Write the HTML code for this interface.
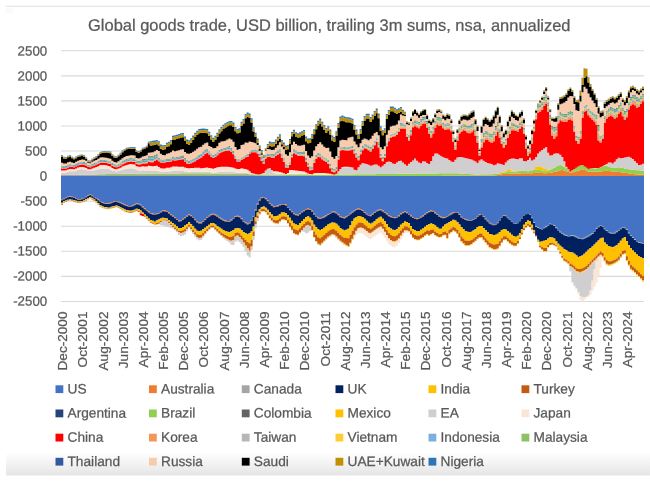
<!DOCTYPE html>
<html><head><meta charset="utf-8"><title>Global goods trade</title>
<style>
html,body{margin:0;padding:0;background:#fff;}
body{width:650px;height:486px;overflow:hidden;}
svg{display:block;will-change:transform;font-family:"Liberation Sans",sans-serif;}
</style></head><body>
<svg width="650" height="486" viewBox="0 0 650 486">
<defs><linearGradient id="sh" x1="0" y1="0" x2="0" y2="1"><stop offset="0" stop-color="#ffffff"/><stop offset="0.15" stop-color="#fbfbfb"/><stop offset="1" stop-color="#e5e5e5"/></linearGradient></defs>
<rect width="650" height="486" fill="#fff"/>
<rect x="6" y="452.5" width="644" height="23" fill="url(#sh)"/>
<rect x="6" y="5.75" width="644" height="1.2" fill="#e6e6e6"/><rect x="6" y="8.3" width="7" height="4.7" fill="#fafafa"/>
<g><line x1="61.0" x2="644.0" y1="301.43" y2="301.43" stroke="#D9D9D9" stroke-width="1.1"/><line x1="61.0" x2="644.0" y1="276.36" y2="276.36" stroke="#D9D9D9" stroke-width="1.1"/><line x1="61.0" x2="644.0" y1="251.30" y2="251.30" stroke="#D9D9D9" stroke-width="1.1"/><line x1="61.0" x2="644.0" y1="226.24" y2="226.24" stroke="#D9D9D9" stroke-width="1.1"/><line x1="61.0" x2="644.0" y1="201.18" y2="201.18" stroke="#D9D9D9" stroke-width="1.1"/><line x1="61.0" x2="644.0" y1="176.11" y2="176.11" stroke="#D9D9D9" stroke-width="1.1"/><line x1="61.0" x2="644.0" y1="151.05" y2="151.05" stroke="#D9D9D9" stroke-width="1.1"/><line x1="61.0" x2="644.0" y1="125.99" y2="125.99" stroke="#D9D9D9" stroke-width="1.1"/><line x1="61.0" x2="644.0" y1="100.92" y2="100.92" stroke="#D9D9D9" stroke-width="1.1"/><line x1="61.0" x2="644.0" y1="75.86" y2="75.86" stroke="#D9D9D9" stroke-width="1.1"/><line x1="61.0" x2="644.0" y1="50.80" y2="50.80" stroke="#D9D9D9" stroke-width="1.1"/></g>
<g><path fill="#ED7D31" d="M61.00,176.00H63.02V176.00H65.03V176.00H67.05V176.00H69.07V176.00H71.09V176.00H73.10V176.00H75.12V176.00H77.14V176.00H79.16V176.00H81.17V176.00H83.19V176.00H85.21V176.00H87.22V176.00H89.24V176.00H91.26V176.00H93.28V176.00H95.29V176.00H97.31V176.00H99.33V176.00H101.35V176.00H103.36V176.00H105.38V176.00H107.40V176.00H109.42V176.00H111.43V176.00H113.45V176.00H115.47V176.00H117.48V176.00H119.50V176.00H121.52V176.00H123.54V176.00H125.55V176.00H127.57V176.00H129.59V176.00H131.61V176.00H133.62V176.00H135.64V176.00H137.66V176.00H139.67V176.00H141.69V176.00H143.71V176.00H145.73V176.00H147.74V176.00H149.76V176.00H151.78V176.00H153.80V176.00H155.81V176.00H157.83V176.00H159.85V176.00H161.87V176.00H163.88V176.00H165.90V176.00H167.92V176.00H169.93V176.00H171.95V176.00H173.97V176.00H175.99V176.00H178.00V176.00H180.02V176.00H182.04V176.00H184.06V176.00H186.07V176.00H188.09V176.00H190.11V176.00H192.12V176.00H194.14V176.00H196.16V176.00H198.18V176.00H200.19V176.00H202.21V176.00H204.23V176.00H206.25V176.00H208.26V176.00H210.28V176.00H212.30V176.00H214.31V176.00H216.33V176.00H218.35V176.00H220.37V176.00H222.38V176.00H224.40V176.00H226.42V176.00H228.44V176.00H230.45V176.00H232.47V176.00H234.49V176.00H236.51V176.00H238.52V176.00H240.54V176.00H242.56V176.00H244.57V176.00H246.59V176.00H248.61V176.00H250.63V176.00H252.64V176.00H254.66V176.00H256.68V176.00H258.70V176.00H260.71V176.00H262.73V176.00H264.75V176.00H266.76V176.00H268.78V176.00H270.80V176.00H272.82V176.00H274.83V176.00H276.85V176.00H278.87V176.00H280.89V176.00H282.90V176.00H284.92V176.00H286.94V176.00H288.96V176.00H290.97V176.00H292.99V176.00H295.01V176.00H297.02V176.00H299.04V176.00H301.06V176.00H303.08V176.00H305.09V176.00H307.11V176.00H309.13V176.00H311.15V176.00H313.16V176.00H315.18V176.00H317.20V176.00H319.21V176.00H321.23V176.00H323.25V176.00H325.27V176.00H327.28V176.00H329.30V176.00H331.32V176.00H333.34V176.00H335.35V176.00H337.37V176.00H339.39V176.00H341.40V176.00H343.42V176.00H345.44V176.00H347.46V176.00H349.47V176.00H351.49V176.00H353.51V176.00H355.53V176.00H357.54V176.00H359.56V176.00H361.58V176.00H363.60V176.00H365.61V176.00H367.63V176.00H369.65V176.00H371.66V176.00H373.68V176.00H375.70V176.00H377.72V176.00H379.73V176.00H381.75V176.00H383.77V176.00H385.79V176.00H387.80V176.00H389.82V176.00H391.84V176.00H393.85V176.00H395.87V176.00H397.89V176.00H399.91V176.00H401.92V176.00H403.94V176.00H405.96V176.00H407.98V176.00H409.99V176.00H412.01V176.00H414.03V176.00H416.04V176.00H418.06V176.00H420.08V176.00H422.10V176.00H424.11V176.00H426.13V176.00H428.15V176.00H430.17V176.00H432.18V176.00H434.20V176.00H436.22V176.00H438.24V176.00H440.25V176.00H442.27V175.56H444.29V175.56H446.30V175.56H448.32V175.56H450.34V175.56H452.36V175.56H454.37V175.56H456.39V175.56H458.41V175.56H460.43V175.56H462.44V175.56H464.46V175.56H466.48V175.56H468.49V175.56H470.51V175.56H472.53V175.56H474.55V175.56H476.56V175.56H478.58V175.56H480.60V175.56H482.62V175.56H484.63V175.56H486.65V175.56H488.67V175.56H490.69V175.56H492.70V175.56H494.72V175.52H496.74V175.04H498.75V174.57H500.77V174.22H502.79V174.11H504.81V173.99H506.82V173.88H508.84V173.76H510.86V173.64H512.88V173.53H514.89V173.48H516.91V173.44H518.93V173.39H520.94V173.35H522.96V173.31H524.98V173.26H527.00V173.22H529.01V173.18H531.03V173.13H533.05V173.09H535.07V173.05H537.08V172.78H539.10V172.95H541.12V173.12H543.13V173.28H545.15V173.34H547.17V173.09H549.19V172.84H551.20V172.58H553.22V172.06H555.24V171.46H557.26V170.85H559.27V170.25H561.29V170.09H563.31V170.70H565.33V171.30H567.34V171.91H569.36V172.51H571.38V172.19H573.39V171.85H575.41V171.33H577.43V170.47H579.45V169.60H581.46V169.23H583.48V170.09H585.50V170.96H587.52V171.64H589.53V171.64H591.55V171.64H593.57V171.64H595.58V171.64H597.60V171.64H599.62V171.40H601.64V171.15H603.65V170.89H605.67V170.84H607.69V171.04H609.71V171.24H611.72V171.45H613.74V171.65H615.76V171.85H617.78V172.05H619.79V172.25H621.81V172.45H623.83V172.75H625.84V173.08H627.86V173.42H629.88V173.75H631.90V174.09H633.91V174.34H635.93V174.45H637.95V174.57H639.97V174.69H641.98V174.80H644.00V176.00H641.98V176.00H639.97V176.00H637.95V176.00H635.93V176.00H633.91V176.00H631.90V176.00H629.88V176.00H627.86V176.00H625.84V176.00H623.83V176.00H621.81V176.00H619.79V176.00H617.78V176.00H615.76V176.00H613.74V176.00H611.72V176.00H609.71V176.00H607.69V176.00H605.67V176.00H603.65V176.00H601.64V176.00H599.62V176.00H597.60V176.00H595.58V176.00H593.57V176.00H591.55V176.00H589.53V176.00H587.52V176.00H585.50V176.00H583.48V176.00H581.46V176.00H579.45V176.00H577.43V176.00H575.41V176.00H573.39V176.00H571.38V176.00H569.36V176.00H567.34V176.00H565.33V176.00H563.31V176.00H561.29V176.00H559.27V176.00H557.26V176.00H555.24V176.00H553.22V176.00H551.20V176.00H549.19V176.00H547.17V176.00H545.15V176.00H543.13V176.00H541.12V176.00H539.10V176.00H537.08V176.00H535.07V176.00H533.05V176.00H531.03V176.00H529.01V176.00H527.00V176.00H524.98V176.00H522.96V176.00H520.94V176.00H518.93V176.00H516.91V176.00H514.89V176.00H512.88V176.00H510.86V176.00H508.84V176.00H506.82V176.00H504.81V176.00H502.79V176.00H500.77V176.00H498.75V176.00H496.74V176.00H494.72V176.00H492.70V176.00H490.69V176.00H488.67V176.00H486.65V176.00H484.63V176.00H482.62V176.00H480.60V176.00H478.58V176.00H476.56V176.00H474.55V176.00H472.53V176.00H470.51V176.00H468.49V176.00H466.48V176.00H464.46V176.00H462.44V176.00H460.43V176.00H458.41V176.00H456.39V176.00H454.37V176.00H452.36V176.00H450.34V176.00H448.32V176.00H446.30V176.00H444.29V176.00H442.27V176.00H440.25V176.00H438.24V176.00H436.22V176.00H434.20V176.00H432.18V176.00H430.17V176.00H428.15V176.00H426.13V176.00H424.11V176.00H422.10V176.00H420.08V176.00H418.06V176.00H416.04V176.00H414.03V176.00H412.01V176.00H409.99V176.00H407.98V176.00H405.96V176.00H403.94V176.00H401.92V176.00H399.91V176.00H397.89V176.00H395.87V176.00H393.85V176.00H391.84V176.00H389.82V176.00H387.80V176.00H385.79V176.00H383.77V176.00H381.75V176.00H379.73V176.00H377.72V176.00H375.70V176.00H373.68V176.00H371.66V176.00H369.65V176.00H367.63V176.00H365.61V176.00H363.60V176.00H361.58V176.00H359.56V176.00H357.54V176.00H355.53V176.00H353.51V176.00H351.49V176.00H349.47V176.00H347.46V176.00H345.44V176.00H343.42V176.00H341.40V176.00H339.39V176.00H337.37V176.00H335.35V176.00H333.34V176.00H331.32V176.00H329.30V176.00H327.28V176.00H325.27V176.00H323.25V176.00H321.23V176.00H319.21V176.00H317.20V176.00H315.18V176.00H313.16V176.00H311.15V176.00H309.13V176.00H307.11V176.00H305.09V176.00H303.08V176.00H301.06V176.00H299.04V176.00H297.02V176.00H295.01V176.00H292.99V176.00H290.97V176.00H288.96V176.00H286.94V176.00H284.92V176.00H282.90V176.00H280.89V176.00H278.87V176.00H276.85V176.00H274.83V176.00H272.82V176.00H270.80V176.00H268.78V176.00H266.76V176.00H264.75V176.00H262.73V176.00H260.71V176.00H258.70V176.00H256.68V176.00H254.66V176.00H252.64V176.00H250.63V176.00H248.61V176.00H246.59V176.00H244.57V176.00H242.56V176.00H240.54V176.00H238.52V176.00H236.51V176.00H234.49V176.00H232.47V176.00H230.45V176.00H228.44V176.00H226.42V176.00H224.40V176.00H222.38V176.00H220.37V176.00H218.35V176.00H216.33V176.00H214.31V176.00H212.30V176.00H210.28V176.00H208.26V176.00H206.25V176.00H204.23V176.00H202.21V176.00H200.19V176.00H198.18V176.00H196.16V176.00H194.14V176.00H192.12V176.00H190.11V176.00H188.09V176.00H186.07V176.00H184.06V176.00H182.04V176.00H180.02V176.00H178.00V176.00H175.99V176.00H173.97V176.00H171.95V176.00H169.93V176.00H167.92V176.00H165.90V176.00H163.88V176.00H161.87V176.00H159.85V176.00H157.83V176.00H155.81V176.00H153.80V176.00H151.78V176.00H149.76V176.00H147.74V176.00H145.73V176.00H143.71V176.00H141.69V176.00H139.67V176.00H137.66V176.00H135.64V176.00H133.62V176.00H131.61V176.00H129.59V176.00H127.57V176.00H125.55V176.00H123.54V176.00H121.52V176.00H119.50V176.00H117.48V176.00H115.47V176.00H113.45V176.00H111.43V176.00H109.42V176.00H107.40V176.00H105.38V176.00H103.36V176.00H101.35V176.00H99.33V176.00H97.31V176.00H95.29V176.00H93.28V176.00H91.26V176.00H89.24V176.00H87.22V176.00H85.21V176.00H83.19V176.00H81.17V176.00H79.16V176.00H77.14V176.00H75.12V176.00H73.10V176.00H71.09V176.00H69.07V176.00H67.05V176.00H65.03V176.00H63.02V176.00H61.00Z"/><path fill="#A5A5A5" d="M61.00,174.97H63.02V174.95H65.03V174.94H67.05V174.93H69.07V174.92H71.09V174.91H73.10V174.91H75.12V174.91H77.14V174.91H79.16V174.91H81.17V174.91H83.19V174.91H85.21V174.91H87.22V174.91H89.24V174.92H91.26V174.92H93.28V174.92H95.29V174.92H97.31V174.92H99.33V174.92H101.35V174.92H103.36V174.92H105.38V174.92H107.40V174.93H109.42V174.93H111.43V174.93H113.45V174.93H115.47V174.93H117.48V174.93H119.50V174.93H121.52V174.93H123.54V174.93H125.55V174.93H127.57V174.94H129.59V174.94H131.61V174.94H133.62V174.94H135.64V174.94H137.66V174.94H139.67V174.94H141.69V174.94H143.71V174.94H145.73V174.95H147.74V174.95H149.76V174.95H151.78V174.95H153.80V174.95H155.81V174.95H157.83V174.95H159.85V174.95H161.87V174.95H163.88V174.95H165.90V174.96H167.92V174.96H169.93V174.96H171.95V174.96H173.97V174.96H175.99V174.96H178.00V174.96H180.02V174.96H182.04V174.96H184.06V174.97H186.07V174.97H188.09V174.97H190.11V174.97H192.12V174.97H194.14V174.97H196.16V174.97H198.18V174.97H200.19V174.97H202.21V174.98H204.23V174.98H206.25V174.98H208.26V174.98H210.28V174.98H212.30V174.98H214.31V174.98H216.33V174.98H218.35V174.98H220.37V174.98H222.38V174.99H224.40V174.99H226.42V174.99H228.44V174.99H230.45V174.99H232.47V174.99H234.49V174.99H236.51V174.99H238.52V174.99H240.54V175.00H242.56V175.00H244.57V175.00H246.59V175.00H248.61V175.00H250.63V175.04H252.64V175.09H254.66V175.14H256.68V175.19H258.70V175.24H260.71V175.29H262.73V175.34H264.75V175.39H266.76V175.44H268.78V175.49H270.80V175.55H272.82V175.60H274.83V175.65H276.85V175.70H278.87V175.75H280.89V175.80H282.90V175.85H284.92V175.90H286.94V175.95H288.96V176.00H290.97V176.00H292.99V176.00H295.01V176.00H297.02V176.00H299.04V176.00H301.06V176.00H303.08V176.00H305.09V176.00H307.11V176.00H309.13V176.00H311.15V176.00H313.16V176.00H315.18V176.00H317.20V176.00H319.21V176.00H321.23V176.00H323.25V176.00H325.27V176.00H327.28V176.00H329.30V176.00H331.32V176.00H333.34V176.00H335.35V176.00H337.37V176.00H339.39V176.00H341.40V176.00H343.42V176.00H345.44V176.00H347.46V176.00H349.47V176.00H351.49V176.00H353.51V176.00H355.53V176.00H357.54V176.00H359.56V176.00H361.58V176.00H363.60V176.00H365.61V176.00H367.63V176.00H369.65V176.00H371.66V176.00H373.68V176.00H375.70V176.00H377.72V176.00H379.73V176.00H381.75V176.00H383.77V176.00H385.79V176.00H387.80V176.00H389.82V176.00H391.84V176.00H393.85V176.00H395.87V176.00H397.89V176.00H399.91V176.00H401.92V176.00H403.94V176.00H405.96V176.00H407.98V176.00H409.99V176.00H412.01V176.00H414.03V176.00H416.04V176.00H418.06V176.00H420.08V176.00H422.10V176.00H424.11V176.00H426.13V176.00H428.15V176.00H430.17V176.00H432.18V176.00H434.20V176.00H436.22V176.00H438.24V176.00H440.25V176.00H442.27V175.56H444.29V175.56H446.30V175.56H448.32V175.56H450.34V175.56H452.36V175.56H454.37V175.56H456.39V175.56H458.41V175.56H460.43V175.56H462.44V175.56H464.46V175.56H466.48V175.56H468.49V175.56H470.51V175.56H472.53V175.56H474.55V175.56H476.56V175.56H478.58V175.56H480.60V175.56H482.62V175.56H484.63V175.56H486.65V175.56H488.67V175.56H490.69V175.56H492.70V175.56H494.72V175.52H496.74V175.04H498.75V174.57H500.77V174.22H502.79V174.11H504.81V173.99H506.82V173.88H508.84V173.76H510.86V173.64H512.88V173.53H514.89V173.48H516.91V173.44H518.93V173.39H520.94V173.35H522.96V173.31H524.98V173.26H527.00V173.22H529.01V173.18H531.03V173.13H533.05V173.09H535.07V173.05H537.08V172.78H539.10V172.95H541.12V173.12H543.13V173.28H545.15V173.34H547.17V173.09H549.19V172.84H551.20V172.58H553.22V172.06H555.24V171.46H557.26V170.85H559.27V170.25H561.29V170.09H563.31V170.70H565.33V171.30H567.34V171.91H569.36V172.51H571.38V172.19H573.39V171.85H575.41V171.33H577.43V170.47H579.45V169.60H581.46V169.23H583.48V170.09H585.50V170.96H587.52V171.64H589.53V171.64H591.55V171.64H593.57V171.64H595.58V171.64H597.60V171.64H599.62V171.40H601.64V171.15H603.65V170.89H605.67V170.84H607.69V171.04H609.71V171.24H611.72V171.45H613.74V171.65H615.76V171.85H617.78V172.05H619.79V172.25H621.81V172.45H623.83V172.75H625.84V173.08H627.86V173.42H629.88V173.75H631.90V174.09H633.91V174.34H635.93V174.45H637.95V174.57H639.97V174.69H641.98V174.80H644.00V174.80H641.98V174.69H639.97V174.57H637.95V174.45H635.93V174.34H633.91V174.09H631.90V173.75H629.88V173.42H627.86V173.08H625.84V172.75H623.83V172.45H621.81V172.25H619.79V172.05H617.78V171.85H615.76V171.65H613.74V171.45H611.72V171.24H609.71V171.04H607.69V170.84H605.67V170.89H603.65V171.15H601.64V171.40H599.62V171.64H597.60V171.64H595.58V171.64H593.57V171.64H591.55V171.64H589.53V171.64H587.52V170.96H585.50V170.09H583.48V169.23H581.46V169.60H579.45V170.47H577.43V171.33H575.41V171.85H573.39V172.19H571.38V172.51H569.36V171.91H567.34V171.30H565.33V170.70H563.31V170.09H561.29V170.25H559.27V170.85H557.26V171.46H555.24V172.06H553.22V172.58H551.20V172.84H549.19V173.09H547.17V173.34H545.15V173.28H543.13V173.12H541.12V172.95H539.10V172.78H537.08V173.05H535.07V173.09H533.05V173.13H531.03V173.18H529.01V173.22H527.00V173.26H524.98V173.31H522.96V173.35H520.94V173.39H518.93V173.44H516.91V173.48H514.89V173.53H512.88V173.64H510.86V173.76H508.84V173.88H506.82V173.99H504.81V174.11H502.79V174.22H500.77V174.57H498.75V175.04H496.74V175.52H494.72V175.56H492.70V175.56H490.69V175.56H488.67V175.56H486.65V175.56H484.63V175.56H482.62V175.56H480.60V175.56H478.58V175.56H476.56V175.56H474.55V175.56H472.53V175.56H470.51V175.56H468.49V175.56H466.48V175.56H464.46V175.56H462.44V175.56H460.43V175.56H458.41V175.56H456.39V175.56H454.37V175.56H452.36V175.56H450.34V175.56H448.32V175.56H446.30V175.56H444.29V175.56H442.27V176.00H440.25V176.00H438.24V176.00H436.22V176.00H434.20V176.00H432.18V176.00H430.17V176.00H428.15V176.00H426.13V176.00H424.11V176.00H422.10V176.00H420.08V176.00H418.06V176.00H416.04V176.00H414.03V176.00H412.01V176.00H409.99V176.00H407.98V176.00H405.96V176.00H403.94V176.00H401.92V176.00H399.91V176.00H397.89V176.00H395.87V176.00H393.85V176.00H391.84V176.00H389.82V176.00H387.80V176.00H385.79V176.00H383.77V176.00H381.75V176.00H379.73V176.00H377.72V176.00H375.70V176.00H373.68V176.00H371.66V176.00H369.65V176.00H367.63V176.00H365.61V176.00H363.60V176.00H361.58V176.00H359.56V176.00H357.54V176.00H355.53V176.00H353.51V176.00H351.49V176.00H349.47V176.00H347.46V176.00H345.44V176.00H343.42V176.00H341.40V176.00H339.39V176.00H337.37V176.00H335.35V176.00H333.34V176.00H331.32V176.00H329.30V176.00H327.28V176.00H325.27V176.00H323.25V176.00H321.23V176.00H319.21V176.00H317.20V176.00H315.18V176.00H313.16V176.00H311.15V176.00H309.13V176.00H307.11V176.00H305.09V176.00H303.08V176.00H301.06V176.00H299.04V176.00H297.02V176.00H295.01V176.00H292.99V176.00H290.97V176.00H288.96V176.00H286.94V176.00H284.92V176.00H282.90V176.00H280.89V176.00H278.87V176.00H276.85V176.00H274.83V176.00H272.82V176.00H270.80V176.00H268.78V176.00H266.76V176.00H264.75V176.00H262.73V176.00H260.71V176.00H258.70V176.00H256.68V176.00H254.66V176.00H252.64V176.00H250.63V176.00H248.61V176.00H246.59V176.00H244.57V176.00H242.56V176.00H240.54V176.00H238.52V176.00H236.51V176.00H234.49V176.00H232.47V176.00H230.45V176.00H228.44V176.00H226.42V176.00H224.40V176.00H222.38V176.00H220.37V176.00H218.35V176.00H216.33V176.00H214.31V176.00H212.30V176.00H210.28V176.00H208.26V176.00H206.25V176.00H204.23V176.00H202.21V176.00H200.19V176.00H198.18V176.00H196.16V176.00H194.14V176.00H192.12V176.00H190.11V176.00H188.09V176.00H186.07V176.00H184.06V176.00H182.04V176.00H180.02V176.00H178.00V176.00H175.99V176.00H173.97V176.00H171.95V176.00H169.93V176.00H167.92V176.00H165.90V176.00H163.88V176.00H161.87V176.00H159.85V176.00H157.83V176.00H155.81V176.00H153.80V176.00H151.78V176.00H149.76V176.00H147.74V176.00H145.73V176.00H143.71V176.00H141.69V176.00H139.67V176.00H137.66V176.00H135.64V176.00H133.62V176.00H131.61V176.00H129.59V176.00H127.57V176.00H125.55V176.00H123.54V176.00H121.52V176.00H119.50V176.00H117.48V176.00H115.47V176.00H113.45V176.00H111.43V176.00H109.42V176.00H107.40V176.00H105.38V176.00H103.36V176.00H101.35V176.00H99.33V176.00H97.31V176.00H95.29V176.00H93.28V176.00H91.26V176.00H89.24V176.00H87.22V176.00H85.21V176.00H83.19V176.00H81.17V176.00H79.16V176.00H77.14V176.00H75.12V176.00H73.10V176.00H71.09V176.00H69.07V176.00H67.05V176.00H65.03V176.00H63.02V176.00H61.00Z"/><path fill="#92D050" d="M61.00,174.97H63.02V174.95H65.03V174.94H67.05V174.93H69.07V174.92H71.09V174.91H73.10V174.90H75.12V174.89H77.14V174.88H79.16V174.87H81.17V174.86H83.19V174.85H85.21V174.84H87.22V174.83H89.24V174.82H91.26V174.73H93.28V174.60H95.29V174.48H97.31V174.36H99.33V174.23H101.35V174.18H103.36V174.14H105.38V174.11H107.40V174.08H109.42V174.05H111.43V174.02H113.45V173.99H115.47V173.96H117.48V173.93H119.50V173.90H121.52V173.86H123.54V173.83H125.55V173.80H127.57V173.77H129.59V173.74H131.61V173.72H133.62V173.71H135.64V173.69H137.66V173.68H139.67V173.66H141.69V173.65H143.71V173.63H145.73V173.62H147.74V173.60H149.76V173.59H151.78V173.57H153.80V173.56H155.81V173.54H157.83V173.53H159.85V173.51H161.87V173.50H163.88V173.48H165.90V173.47H167.92V173.45H169.93V173.44H171.95V173.42H173.97V173.41H175.99V173.39H178.00V173.38H180.02V173.36H182.04V173.35H184.06V173.33H186.07V173.32H188.09V173.30H190.11V173.29H192.12V173.27H194.14V173.26H196.16V173.24H198.18V173.23H200.19V173.21H202.21V173.25H204.23V173.29H206.25V173.33H208.26V173.37H210.28V173.40H212.30V173.44H214.31V173.48H216.33V173.52H218.35V173.56H220.37V173.60H222.38V173.64H224.40V173.68H226.42V173.72H228.44V173.76H230.45V173.80H232.47V173.84H234.49V173.88H236.51V173.92H238.52V173.96H240.54V173.99H242.56V174.03H244.57V174.07H246.59V174.11H248.61V174.15H250.63V174.19H252.64V174.23H254.66V174.27H256.68V174.31H258.70V174.35H260.71V174.39H262.73V174.43H264.75V174.47H266.76V174.51H268.78V174.55H270.80V174.58H272.82V174.62H274.83V174.66H276.85V174.70H278.87V174.74H280.89V174.78H282.90V174.82H284.92V174.86H286.94V174.90H288.96V174.94H290.97V174.98H292.99V175.02H295.01V175.06H297.02V175.04H299.04V175.02H301.06V174.99H303.08V174.97H305.09V174.94H307.11V174.92H309.13V174.90H311.15V174.87H313.16V174.85H315.18V174.82H317.20V174.80H319.21V174.78H321.23V174.75H323.25V174.73H325.27V174.70H327.28V174.68H329.30V174.66H331.32V174.63H333.34V174.61H335.35V174.58H337.37V174.56H339.39V174.54H341.40V174.51H343.42V174.49H345.44V174.46H347.46V174.44H349.47V174.42H351.49V174.39H353.51V174.37H355.53V174.34H357.54V174.32H359.56V174.29H361.58V174.27H363.60V174.25H365.61V174.22H367.63V174.20H369.65V174.17H371.66V174.15H373.68V174.13H375.70V174.10H377.72V174.08H379.73V174.05H381.75V174.03H383.77V174.01H385.79V173.98H387.80V173.96H389.82V173.93H391.84V173.91H393.85V173.89H395.87V173.86H397.89V173.84H399.91V173.81H401.92V173.79H403.94V173.77H405.96V173.74H407.98V173.72H409.99V173.69H412.01V173.67H414.03V173.64H416.04V173.62H418.06V173.60H420.08V173.57H422.10V173.55H424.11V173.52H426.13V173.50H428.15V173.48H430.17V173.45H432.18V173.43H434.20V173.40H436.22V173.38H438.24V173.36H440.25V173.33H442.27V173.31H444.29V173.28H446.30V173.26H448.32V173.24H450.34V173.21H452.36V173.19H454.37V173.16H456.39V173.26H458.41V173.56H460.43V173.75H462.44V173.84H464.46V173.93H466.48V174.02H468.49V174.11H470.51V174.20H472.53V174.29H474.55V174.38H476.56V174.43H478.58V174.39H480.60V174.35H482.62V174.31H484.63V174.27H486.65V174.23H488.67V174.19H490.69V174.15H492.70V174.11H494.72V174.07H496.74V173.66H498.75V173.26H500.77V172.91H502.79V172.69H504.81V172.20H506.82V171.31H508.84V171.35H510.86V171.85H512.88V172.12H514.89V171.77H516.91V171.29H518.93V170.76H520.94V170.61H522.96V170.87H524.98V171.12H527.00V171.37H529.01V170.92H531.03V170.38H533.05V169.85H535.07V169.63H537.08V169.78H539.10V169.91H541.12V170.40H543.13V170.86H545.15V171.14H547.17V170.45H549.19V169.99H551.20V169.01H553.22V167.67H555.24V166.32H557.26V165.52H559.27V164.71H561.29V165.54H563.31V166.75H565.33V168.25H567.34V169.93H569.36V171.61H571.38V170.31H573.39V168.97H575.41V167.69H577.43V166.54H579.45V165.38H581.46V164.96H583.48V166.41H585.50V167.85H587.52V168.95H589.53V168.78H591.55V168.61H593.57V168.44H595.58V168.27H597.60V168.11H599.62V167.38H601.64V166.62H603.65V165.87H605.67V165.77H607.69V166.53H609.71V167.29H611.72V168.04H613.74V167.86H615.76V167.61H617.78V167.36H619.79V167.42H621.81V167.93H623.83V168.43H625.84V168.94H627.86V169.21H629.88V169.46H631.90V169.72H633.91V169.94H635.93V170.14H637.95V170.33H639.97V170.53H641.98V170.72H644.00V174.80H641.98V174.69H639.97V174.57H637.95V174.45H635.93V174.34H633.91V174.09H631.90V173.75H629.88V173.42H627.86V173.08H625.84V172.75H623.83V172.45H621.81V172.25H619.79V172.05H617.78V171.85H615.76V171.65H613.74V171.45H611.72V171.24H609.71V171.04H607.69V170.84H605.67V170.89H603.65V171.15H601.64V171.40H599.62V171.64H597.60V171.64H595.58V171.64H593.57V171.64H591.55V171.64H589.53V171.64H587.52V170.96H585.50V170.09H583.48V169.23H581.46V169.60H579.45V170.47H577.43V171.33H575.41V171.85H573.39V172.19H571.38V172.51H569.36V171.91H567.34V171.30H565.33V170.70H563.31V170.09H561.29V170.25H559.27V170.85H557.26V171.46H555.24V172.06H553.22V172.58H551.20V172.84H549.19V173.09H547.17V173.34H545.15V173.28H543.13V173.12H541.12V172.95H539.10V172.78H537.08V173.05H535.07V173.09H533.05V173.13H531.03V173.18H529.01V173.22H527.00V173.26H524.98V173.31H522.96V173.35H520.94V173.39H518.93V173.44H516.91V173.48H514.89V173.53H512.88V173.64H510.86V173.76H508.84V173.88H506.82V173.99H504.81V174.11H502.79V174.22H500.77V174.57H498.75V175.04H496.74V175.52H494.72V175.56H492.70V175.56H490.69V175.56H488.67V175.56H486.65V175.56H484.63V175.56H482.62V175.56H480.60V175.56H478.58V175.56H476.56V175.56H474.55V175.56H472.53V175.56H470.51V175.56H468.49V175.56H466.48V175.56H464.46V175.56H462.44V175.56H460.43V175.56H458.41V175.56H456.39V175.56H454.37V175.56H452.36V175.56H450.34V175.56H448.32V175.56H446.30V175.56H444.29V175.56H442.27V176.00H440.25V176.00H438.24V176.00H436.22V176.00H434.20V176.00H432.18V176.00H430.17V176.00H428.15V176.00H426.13V176.00H424.11V176.00H422.10V176.00H420.08V176.00H418.06V176.00H416.04V176.00H414.03V176.00H412.01V176.00H409.99V176.00H407.98V176.00H405.96V176.00H403.94V176.00H401.92V176.00H399.91V176.00H397.89V176.00H395.87V176.00H393.85V176.00H391.84V176.00H389.82V176.00H387.80V176.00H385.79V176.00H383.77V176.00H381.75V176.00H379.73V176.00H377.72V176.00H375.70V176.00H373.68V176.00H371.66V176.00H369.65V176.00H367.63V176.00H365.61V176.00H363.60V176.00H361.58V176.00H359.56V176.00H357.54V176.00H355.53V176.00H353.51V176.00H351.49V176.00H349.47V176.00H347.46V176.00H345.44V176.00H343.42V176.00H341.40V176.00H339.39V176.00H337.37V176.00H335.35V176.00H333.34V176.00H331.32V176.00H329.30V176.00H327.28V176.00H325.27V176.00H323.25V176.00H321.23V176.00H319.21V176.00H317.20V176.00H315.18V176.00H313.16V176.00H311.15V176.00H309.13V176.00H307.11V176.00H305.09V176.00H303.08V176.00H301.06V176.00H299.04V176.00H297.02V176.00H295.01V176.00H292.99V176.00H290.97V176.00H288.96V175.95H286.94V175.90H284.92V175.85H282.90V175.80H280.89V175.75H278.87V175.70H276.85V175.65H274.83V175.60H272.82V175.55H270.80V175.49H268.78V175.44H266.76V175.39H264.75V175.34H262.73V175.29H260.71V175.24H258.70V175.19H256.68V175.14H254.66V175.09H252.64V175.04H250.63V175.00H248.61V175.00H246.59V175.00H244.57V175.00H242.56V175.00H240.54V174.99H238.52V174.99H236.51V174.99H234.49V174.99H232.47V174.99H230.45V174.99H228.44V174.99H226.42V174.99H224.40V174.99H222.38V174.98H220.37V174.98H218.35V174.98H216.33V174.98H214.31V174.98H212.30V174.98H210.28V174.98H208.26V174.98H206.25V174.98H204.23V174.98H202.21V174.97H200.19V174.97H198.18V174.97H196.16V174.97H194.14V174.97H192.12V174.97H190.11V174.97H188.09V174.97H186.07V174.97H184.06V174.96H182.04V174.96H180.02V174.96H178.00V174.96H175.99V174.96H173.97V174.96H171.95V174.96H169.93V174.96H167.92V174.96H165.90V174.95H163.88V174.95H161.87V174.95H159.85V174.95H157.83V174.95H155.81V174.95H153.80V174.95H151.78V174.95H149.76V174.95H147.74V174.95H145.73V174.94H143.71V174.94H141.69V174.94H139.67V174.94H137.66V174.94H135.64V174.94H133.62V174.94H131.61V174.94H129.59V174.94H127.57V174.93H125.55V174.93H123.54V174.93H121.52V174.93H119.50V174.93H117.48V174.93H115.47V174.93H113.45V174.93H111.43V174.93H109.42V174.93H107.40V174.92H105.38V174.92H103.36V174.92H101.35V174.92H99.33V174.92H97.31V174.92H95.29V174.92H93.28V174.92H91.26V174.92H89.24V174.91H87.22V174.91H85.21V174.91H83.19V174.91H81.17V174.91H79.16V174.91H77.14V174.91H75.12V174.91H73.10V174.91H71.09V174.92H69.07V174.93H67.05V174.94H65.03V174.95H63.02V174.97H61.00Z"/><path fill="#FFC000" d="M61.00,174.97H63.02V174.95H65.03V174.94H67.05V174.93H69.07V174.92H71.09V174.91H73.10V174.90H75.12V174.89H77.14V174.88H79.16V174.87H81.17V174.86H83.19V174.85H85.21V174.84H87.22V174.83H89.24V174.82H91.26V174.73H93.28V174.60H95.29V174.48H97.31V174.36H99.33V174.23H101.35V174.18H103.36V174.14H105.38V174.11H107.40V174.08H109.42V174.05H111.43V174.02H113.45V173.99H115.47V173.96H117.48V173.93H119.50V173.90H121.52V173.86H123.54V173.83H125.55V173.80H127.57V173.77H129.59V173.74H131.61V173.72H133.62V173.71H135.64V173.69H137.66V173.68H139.67V173.66H141.69V173.65H143.71V173.63H145.73V173.62H147.74V173.60H149.76V173.59H151.78V173.57H153.80V173.56H155.81V173.54H157.83V173.53H159.85V173.51H161.87V173.50H163.88V173.48H165.90V173.47H167.92V173.45H169.93V173.44H171.95V173.42H173.97V173.41H175.99V173.39H178.00V173.38H180.02V173.36H182.04V173.35H184.06V173.33H186.07V173.32H188.09V173.30H190.11V173.29H192.12V173.27H194.14V173.26H196.16V173.24H198.18V173.23H200.19V173.21H202.21V173.25H204.23V173.29H206.25V173.33H208.26V173.37H210.28V173.40H212.30V173.44H214.31V173.48H216.33V173.52H218.35V173.56H220.37V173.60H222.38V173.64H224.40V173.68H226.42V173.72H228.44V173.76H230.45V173.80H232.47V173.84H234.49V173.88H236.51V173.92H238.52V173.96H240.54V173.99H242.56V174.03H244.57V174.07H246.59V174.11H248.61V174.15H250.63V174.19H252.64V174.23H254.66V174.27H256.68V174.31H258.70V174.35H260.71V174.39H262.73V174.43H264.75V174.47H266.76V174.51H268.78V174.55H270.80V174.58H272.82V174.62H274.83V174.66H276.85V174.70H278.87V174.74H280.89V174.78H282.90V174.82H284.92V174.86H286.94V174.90H288.96V174.94H290.97V174.98H292.99V175.02H295.01V175.06H297.02V175.04H299.04V175.02H301.06V174.99H303.08V174.97H305.09V174.94H307.11V174.92H309.13V174.90H311.15V174.87H313.16V174.85H315.18V174.82H317.20V174.80H319.21V174.78H321.23V174.75H323.25V174.73H325.27V174.70H327.28V174.68H329.30V174.66H331.32V174.63H333.34V174.61H335.35V174.58H337.37V174.56H339.39V174.54H341.40V174.51H343.42V174.49H345.44V174.46H347.46V174.44H349.47V174.42H351.49V174.39H353.51V174.37H355.53V174.34H357.54V174.32H359.56V174.29H361.58V174.27H363.60V174.25H365.61V174.22H367.63V174.20H369.65V174.17H371.66V174.15H373.68V174.13H375.70V174.10H377.72V174.08H379.73V174.05H381.75V174.03H383.77V174.01H385.79V173.98H387.80V173.96H389.82V173.93H391.84V173.91H393.85V173.89H395.87V173.86H397.89V173.84H399.91V173.81H401.92V173.79H403.94V173.77H405.96V173.74H407.98V173.72H409.99V173.69H412.01V173.67H414.03V173.64H416.04V173.62H418.06V173.60H420.08V173.57H422.10V173.55H424.11V173.52H426.13V173.50H428.15V173.48H430.17V173.45H432.18V173.43H434.20V173.40H436.22V173.38H438.24V173.36H440.25V173.33H442.27V173.31H444.29V173.28H446.30V173.26H448.32V173.24H450.34V173.21H452.36V173.19H454.37V173.16H456.39V173.26H458.41V173.56H460.43V173.75H462.44V173.84H464.46V173.93H466.48V174.02H468.49V174.11H470.51V174.20H472.53V174.29H474.55V174.38H476.56V174.43H478.58V174.39H480.60V174.35H482.62V174.31H484.63V174.27H486.65V174.23H488.67V174.19H490.69V174.15H492.70V174.11H494.72V174.03H496.74V173.46H498.75V172.90H500.77V172.33H502.79V171.77H504.81V170.73H506.82V169.22H508.84V169.37H510.86V170.38H512.88V171.39H514.89V171.25H516.91V171.00H518.93V170.75H520.94V170.61H522.96V170.87H524.98V171.12H527.00V171.37H529.01V170.91H531.03V169.91H533.05V168.53H535.07V167.02H537.08V166.62H539.10V166.35H541.12V167.24H543.13V168.24H545.15V169.07H547.17V169.41H549.19V169.74H551.20V169.01H553.22V167.67H555.24V166.32H557.26V165.52H559.27V164.71H561.29V165.54H563.31V166.75H565.33V168.25H567.34V169.93H569.36V171.61H571.38V170.31H573.39V168.97H575.41V167.69H577.43V166.54H579.45V165.38H581.46V164.96H583.48V166.41H585.50V167.85H587.52V168.95H589.53V168.78H591.55V168.61H593.57V168.44H595.58V168.27H597.60V168.11H599.62V167.38H601.64V166.62H603.65V165.87H605.67V165.77H607.69V166.53H609.71V167.29H611.72V168.04H613.74V167.86H615.76V167.61H617.78V167.36H619.79V167.42H621.81V167.93H623.83V168.43H625.84V168.94H627.86V169.21H629.88V169.46H631.90V169.72H633.91V169.94H635.93V170.14H637.95V170.33H639.97V170.53H641.98V170.72H644.00V170.72H641.98V170.53H639.97V170.33H637.95V170.14H635.93V169.94H633.91V169.72H631.90V169.46H629.88V169.21H627.86V168.94H625.84V168.43H623.83V167.93H621.81V167.42H619.79V167.36H617.78V167.61H615.76V167.86H613.74V168.04H611.72V167.29H609.71V166.53H607.69V165.77H605.67V165.87H603.65V166.62H601.64V167.38H599.62V168.11H597.60V168.27H595.58V168.44H593.57V168.61H591.55V168.78H589.53V168.95H587.52V167.85H585.50V166.41H583.48V164.96H581.46V165.38H579.45V166.54H577.43V167.69H575.41V168.97H573.39V170.31H571.38V171.61H569.36V169.93H567.34V168.25H565.33V166.75H563.31V165.54H561.29V164.71H559.27V165.52H557.26V166.32H555.24V167.67H553.22V169.01H551.20V169.99H549.19V170.45H547.17V171.14H545.15V170.86H543.13V170.40H541.12V169.91H539.10V169.78H537.08V169.63H535.07V169.85H533.05V170.38H531.03V170.92H529.01V171.37H527.00V171.12H524.98V170.87H522.96V170.61H520.94V170.76H518.93V171.29H516.91V171.77H514.89V172.12H512.88V171.85H510.86V171.35H508.84V171.31H506.82V172.20H504.81V172.69H502.79V172.91H500.77V173.26H498.75V173.66H496.74V174.07H494.72V174.11H492.70V174.15H490.69V174.19H488.67V174.23H486.65V174.27H484.63V174.31H482.62V174.35H480.60V174.39H478.58V174.43H476.56V174.38H474.55V174.29H472.53V174.20H470.51V174.11H468.49V174.02H466.48V173.93H464.46V173.84H462.44V173.75H460.43V173.56H458.41V173.26H456.39V173.16H454.37V173.19H452.36V173.21H450.34V173.24H448.32V173.26H446.30V173.28H444.29V173.31H442.27V173.33H440.25V173.36H438.24V173.38H436.22V173.40H434.20V173.43H432.18V173.45H430.17V173.48H428.15V173.50H426.13V173.52H424.11V173.55H422.10V173.57H420.08V173.60H418.06V173.62H416.04V173.64H414.03V173.67H412.01V173.69H409.99V173.72H407.98V173.74H405.96V173.77H403.94V173.79H401.92V173.81H399.91V173.84H397.89V173.86H395.87V173.89H393.85V173.91H391.84V173.93H389.82V173.96H387.80V173.98H385.79V174.01H383.77V174.03H381.75V174.05H379.73V174.08H377.72V174.10H375.70V174.13H373.68V174.15H371.66V174.17H369.65V174.20H367.63V174.22H365.61V174.25H363.60V174.27H361.58V174.29H359.56V174.32H357.54V174.34H355.53V174.37H353.51V174.39H351.49V174.42H349.47V174.44H347.46V174.46H345.44V174.49H343.42V174.51H341.40V174.54H339.39V174.56H337.37V174.58H335.35V174.61H333.34V174.63H331.32V174.66H329.30V174.68H327.28V174.70H325.27V174.73H323.25V174.75H321.23V174.78H319.21V174.80H317.20V174.82H315.18V174.85H313.16V174.87H311.15V174.90H309.13V174.92H307.11V174.94H305.09V174.97H303.08V174.99H301.06V175.02H299.04V175.04H297.02V175.06H295.01V175.02H292.99V174.98H290.97V174.94H288.96V174.90H286.94V174.86H284.92V174.82H282.90V174.78H280.89V174.74H278.87V174.70H276.85V174.66H274.83V174.62H272.82V174.58H270.80V174.55H268.78V174.51H266.76V174.47H264.75V174.43H262.73V174.39H260.71V174.35H258.70V174.31H256.68V174.27H254.66V174.23H252.64V174.19H250.63V174.15H248.61V174.11H246.59V174.07H244.57V174.03H242.56V173.99H240.54V173.96H238.52V173.92H236.51V173.88H234.49V173.84H232.47V173.80H230.45V173.76H228.44V173.72H226.42V173.68H224.40V173.64H222.38V173.60H220.37V173.56H218.35V173.52H216.33V173.48H214.31V173.44H212.30V173.40H210.28V173.37H208.26V173.33H206.25V173.29H204.23V173.25H202.21V173.21H200.19V173.23H198.18V173.24H196.16V173.26H194.14V173.27H192.12V173.29H190.11V173.30H188.09V173.32H186.07V173.33H184.06V173.35H182.04V173.36H180.02V173.38H178.00V173.39H175.99V173.41H173.97V173.42H171.95V173.44H169.93V173.45H167.92V173.47H165.90V173.48H163.88V173.50H161.87V173.51H159.85V173.53H157.83V173.54H155.81V173.56H153.80V173.57H151.78V173.59H149.76V173.60H147.74V173.62H145.73V173.63H143.71V173.65H141.69V173.66H139.67V173.68H137.66V173.69H135.64V173.71H133.62V173.72H131.61V173.74H129.59V173.77H127.57V173.80H125.55V173.83H123.54V173.86H121.52V173.90H119.50V173.93H117.48V173.96H115.47V173.99H113.45V174.02H111.43V174.05H109.42V174.08H107.40V174.11H105.38V174.14H103.36V174.18H101.35V174.23H99.33V174.36H97.31V174.48H95.29V174.60H93.28V174.73H91.26V174.82H89.24V174.83H87.22V174.84H85.21V174.85H83.19V174.86H81.17V174.87H79.16V174.88H77.14V174.89H75.12V174.90H73.10V174.91H71.09V174.92H69.07V174.93H67.05V174.94H65.03V174.95H63.02V174.97H61.00Z"/><path fill="#D0CECE" d="M61.00,172.90H63.02V172.76H65.03V172.50H67.05V171.82H69.07V171.35H71.09V171.29H73.10V171.21H75.12V170.54H77.14V169.83H79.16V169.37H81.17V169.28H83.19V169.50H85.21V170.02H87.22V170.95H89.24V171.09H91.26V170.56H93.28V170.15H95.29V169.85H97.31V169.37H99.33V168.80H101.35V168.64H103.36V168.64H105.38V168.66H107.40V169.06H109.42V169.45H111.43V170.42H113.45V171.08H115.47V171.39H117.48V170.92H119.50V170.36H121.52V169.70H123.54V169.15H125.55V168.70H127.57V168.46H129.59V168.23H131.61V168.45H133.62V168.80H135.64V169.96H137.66V170.40H139.67V170.45H141.69V170.31H143.71V170.49H145.73V170.60H147.74V170.29H149.76V170.64H151.78V170.95H153.80V170.91H155.81V170.87H157.83V171.21H159.85V171.69H161.87V171.82H163.88V171.80H165.90V171.51H167.92V171.42H169.93V171.22H171.95V170.77H173.97V170.80H175.99V170.84H178.00V170.88H180.02V170.90H182.04V170.99H184.06V171.52H186.07V171.96H188.09V172.14H190.11V172.03H192.12V171.85H194.14V171.68H196.16V171.60H198.18V171.55H200.19V171.66H202.21V171.69H204.23V171.74H206.25V171.80H208.26V172.08H210.28V172.43H212.30V172.68H214.31V172.53H216.33V172.30H218.35V172.05H220.37V171.89H222.38V171.74H224.40V171.66H226.42V171.60H228.44V171.56H230.45V171.61H232.47V171.86H234.49V172.37H236.51V172.67H238.52V172.79H240.54V172.54H242.56V172.56H244.57V172.46H246.59V172.60H248.61V173.31H250.63V174.13H252.64V174.23H254.66V174.27H256.68V174.31H258.70V174.30H260.71V174.11H262.73V173.42H264.75V170.99H266.76V168.67H268.78V168.12H270.80V170.11H272.82V173.07H274.83V173.31H276.85V173.41H278.87V173.51H280.89V173.61H282.90V173.82H284.92V174.22H286.94V174.22H288.96V173.71H290.97V173.67H292.99V173.67H295.01V173.67H297.02V173.67H299.04V173.67H301.06V173.67H303.08V173.68H305.09V173.88H307.11V174.08H309.13V174.29H311.15V174.45H313.16V174.48H315.18V174.51H317.20V174.53H319.21V174.56H321.23V174.59H323.25V174.62H325.27V174.65H327.28V174.67H329.30V174.66H331.32V174.63H333.34V174.61H335.35V173.70H337.37V171.22H339.39V168.92H341.40V166.91H343.42V167.14H345.44V167.59H347.46V166.73H349.47V166.94H351.49V167.45H353.51V169.75H355.53V170.26H357.54V167.23H359.56V164.63H361.58V163.02H363.60V163.53H365.61V164.03H367.63V164.66H369.65V165.67H371.66V165.24H373.68V164.41H375.70V164.41H377.72V165.73H379.73V167.31H381.75V165.80H383.77V163.99H385.79V162.07H387.80V161.56H389.82V162.04H391.84V163.39H393.85V164.03H395.87V162.42H397.89V161.11H399.91V160.84H401.92V162.46H403.94V164.18H405.96V165.72H407.98V163.70H409.99V161.98H412.01V160.44H414.03V158.42H416.04V160.69H418.06V162.48H420.08V163.17H422.10V161.15H424.11V161.62H426.13V163.05H428.15V164.05H430.17V160.95H432.18V156.24H434.20V153.61H436.22V153.61H438.24V154.85H440.25V156.25H442.27V157.36H444.29V157.99H446.30V158.49H448.32V159.96H450.34V161.38H452.36V162.05H454.37V159.73H456.39V157.41H458.41V156.91H460.43V156.93H462.44V157.44H464.46V157.94H466.48V158.45H468.49V158.95H470.51V159.46H472.53V160.47H474.55V161.54H476.56V162.89H478.58V160.44H480.60V159.17H482.62V160.68H484.63V161.90H486.65V162.90H488.67V163.53H490.69V164.03H492.70V165.31H494.72V164.83H496.74V163.23H498.75V163.74H500.77V164.30H502.79V164.97H504.81V162.43H506.82V160.42H508.84V158.91H510.86V158.52H512.88V158.52H514.89V158.98H516.91V159.37H518.93V158.37H520.94V158.22H522.96V160.91H524.98V161.30H527.00V160.01H529.01V157.87H531.03V160.56H533.05V159.47H535.07V156.94H537.08V153.50H539.10V151.48H541.12V149.92H543.13V148.43H545.15V147.09H547.17V152.72H549.19V155.61H551.20V155.31H553.22V153.78H555.24V153.27H557.26V153.62H559.27V154.63H561.29V157.00H563.31V161.36H565.33V166.76H567.34V169.18H569.36V171.60H571.38V170.31H573.39V168.97H575.41V167.69H577.43V166.54H579.45V165.38H581.46V164.96H583.48V166.41H585.50V167.85H587.52V168.91H589.53V168.57H591.55V168.24H593.57V168.10H595.58V168.10H597.60V168.10H599.62V167.14H601.64V166.13H603.65V165.12H605.67V163.89H607.69V162.38H609.71V162.59H611.72V163.60H613.74V161.80H615.76V159.37H617.78V157.63H619.79V158.13H621.81V158.09H623.83V157.59H625.84V157.08H627.86V156.63H629.88V157.63H631.90V158.92H633.91V160.94H635.93V162.96H637.95V164.97H639.97V164.74H641.98V163.82H644.00V170.72H641.98V170.53H639.97V170.33H637.95V170.14H635.93V169.94H633.91V169.72H631.90V169.46H629.88V169.21H627.86V168.94H625.84V168.43H623.83V167.93H621.81V167.42H619.79V167.36H617.78V167.61H615.76V167.86H613.74V168.04H611.72V167.29H609.71V166.53H607.69V165.77H605.67V165.87H603.65V166.62H601.64V167.38H599.62V168.11H597.60V168.27H595.58V168.44H593.57V168.61H591.55V168.78H589.53V168.95H587.52V167.85H585.50V166.41H583.48V164.96H581.46V165.38H579.45V166.54H577.43V167.69H575.41V168.97H573.39V170.31H571.38V171.61H569.36V169.93H567.34V168.25H565.33V166.75H563.31V165.54H561.29V164.71H559.27V165.52H557.26V166.32H555.24V167.67H553.22V169.01H551.20V169.74H549.19V169.41H547.17V169.07H545.15V168.24H543.13V167.24H541.12V166.35H539.10V166.62H537.08V167.02H535.07V168.53H533.05V169.91H531.03V170.91H529.01V171.37H527.00V171.12H524.98V170.87H522.96V170.61H520.94V170.75H518.93V171.00H516.91V171.25H514.89V171.39H512.88V170.38H510.86V169.37H508.84V169.22H506.82V170.73H504.81V171.77H502.79V172.33H500.77V172.90H498.75V173.46H496.74V174.03H494.72V174.11H492.70V174.15H490.69V174.19H488.67V174.23H486.65V174.27H484.63V174.31H482.62V174.35H480.60V174.39H478.58V174.43H476.56V174.38H474.55V174.29H472.53V174.20H470.51V174.11H468.49V174.02H466.48V173.93H464.46V173.84H462.44V173.75H460.43V173.56H458.41V173.26H456.39V173.16H454.37V173.19H452.36V173.21H450.34V173.24H448.32V173.26H446.30V173.28H444.29V173.31H442.27V173.33H440.25V173.36H438.24V173.38H436.22V173.40H434.20V173.43H432.18V173.45H430.17V173.48H428.15V173.50H426.13V173.52H424.11V173.55H422.10V173.57H420.08V173.60H418.06V173.62H416.04V173.64H414.03V173.67H412.01V173.69H409.99V173.72H407.98V173.74H405.96V173.77H403.94V173.79H401.92V173.81H399.91V173.84H397.89V173.86H395.87V173.89H393.85V173.91H391.84V173.93H389.82V173.96H387.80V173.98H385.79V174.01H383.77V174.03H381.75V174.05H379.73V174.08H377.72V174.10H375.70V174.13H373.68V174.15H371.66V174.17H369.65V174.20H367.63V174.22H365.61V174.25H363.60V174.27H361.58V174.29H359.56V174.32H357.54V174.34H355.53V174.37H353.51V174.39H351.49V174.42H349.47V174.44H347.46V174.46H345.44V174.49H343.42V174.51H341.40V174.54H339.39V174.56H337.37V174.58H335.35V174.61H333.34V174.63H331.32V174.66H329.30V174.68H327.28V174.70H325.27V174.73H323.25V174.75H321.23V174.78H319.21V174.80H317.20V174.82H315.18V174.85H313.16V174.87H311.15V174.90H309.13V174.92H307.11V174.94H305.09V174.97H303.08V174.99H301.06V175.02H299.04V175.04H297.02V175.06H295.01V175.02H292.99V174.98H290.97V174.94H288.96V174.90H286.94V174.86H284.92V174.82H282.90V174.78H280.89V174.74H278.87V174.70H276.85V174.66H274.83V174.62H272.82V174.58H270.80V174.55H268.78V174.51H266.76V174.47H264.75V174.43H262.73V174.39H260.71V174.35H258.70V174.31H256.68V174.27H254.66V174.23H252.64V174.19H250.63V174.15H248.61V174.11H246.59V174.07H244.57V174.03H242.56V173.99H240.54V173.96H238.52V173.92H236.51V173.88H234.49V173.84H232.47V173.80H230.45V173.76H228.44V173.72H226.42V173.68H224.40V173.64H222.38V173.60H220.37V173.56H218.35V173.52H216.33V173.48H214.31V173.44H212.30V173.40H210.28V173.37H208.26V173.33H206.25V173.29H204.23V173.25H202.21V173.21H200.19V173.23H198.18V173.24H196.16V173.26H194.14V173.27H192.12V173.29H190.11V173.30H188.09V173.32H186.07V173.33H184.06V173.35H182.04V173.36H180.02V173.38H178.00V173.39H175.99V173.41H173.97V173.42H171.95V173.44H169.93V173.45H167.92V173.47H165.90V173.48H163.88V173.50H161.87V173.51H159.85V173.53H157.83V173.54H155.81V173.56H153.80V173.57H151.78V173.59H149.76V173.60H147.74V173.62H145.73V173.63H143.71V173.65H141.69V173.66H139.67V173.68H137.66V173.69H135.64V173.71H133.62V173.72H131.61V173.74H129.59V173.77H127.57V173.80H125.55V173.83H123.54V173.86H121.52V173.90H119.50V173.93H117.48V173.96H115.47V173.99H113.45V174.02H111.43V174.05H109.42V174.08H107.40V174.11H105.38V174.14H103.36V174.18H101.35V174.23H99.33V174.36H97.31V174.48H95.29V174.60H93.28V174.73H91.26V174.82H89.24V174.83H87.22V174.84H85.21V174.85H83.19V174.86H81.17V174.87H79.16V174.88H77.14V174.89H75.12V174.90H73.10V174.91H71.09V174.92H69.07V174.93H67.05V174.94H65.03V174.95H63.02V174.97H61.00Z"/><path fill="#FBE5D6" d="M61.00,170.50H63.02V170.56H65.03V170.37H67.05V169.52H69.07V169.02H71.09V169.12H73.10V169.18H75.12V168.40H77.14V167.58H79.16V167.05H81.17V166.94H83.19V167.26H85.21V167.98H87.22V169.25H89.24V169.34H91.26V168.46H93.28V167.71H95.29V167.09H97.31V166.18H99.33V165.09H101.35V164.91H103.36V165.08H105.38V165.28H107.40V165.89H109.42V166.49H111.43V167.92H113.45V168.90H115.47V169.36H117.48V168.60H119.50V167.68H121.52V166.60H123.54V165.68H125.55V164.89H127.57V164.42H129.59V163.95H131.61V164.17H133.62V164.56H135.64V166.28H137.66V166.84H139.67V166.77H141.69V166.36H143.71V166.48H145.73V166.46H147.74V165.66H149.76V166.01H151.78V166.30H153.80V166.04H155.81V165.77H157.83V166.96H159.85V168.18H161.87V168.45H163.88V168.39H165.90V167.82H167.92V167.64H169.93V167.26H171.95V166.42H173.97V166.50H175.99V166.58H178.00V166.64H180.02V166.68H182.04V166.81H184.06V167.45H186.07V167.98H188.09V168.22H190.11V168.12H192.12V167.91H194.14V167.74H196.16V167.77H198.18V167.86H200.19V168.25H202.21V168.02H204.23V167.82H206.25V167.62H208.26V167.90H210.28V168.35H212.30V168.63H214.31V168.04H216.33V167.36H218.35V166.97H220.37V166.79H222.38V166.68H224.40V166.72H226.42V166.81H228.44V166.97H230.45V167.31H232.47V167.75H234.49V168.57H236.51V169.00H238.52V169.04H240.54V168.30H242.56V168.76H244.57V169.03H246.59V169.82H248.61V171.37H250.63V173.07H252.64V173.44H254.66V173.94H256.68V174.31H258.70V174.16H260.71V173.87H262.73V172.95H264.75V170.61H266.76V168.67H268.78V168.12H270.80V170.07H272.82V171.36H274.83V171.36H276.85V171.57H278.87V172.08H280.89V172.58H282.90V173.19H284.92V174.00H286.94V173.08H288.96V170.05H290.97V170.05H292.99V170.30H295.01V170.55H297.02V170.76H299.04V170.96H301.06V171.16H303.08V171.39H305.09V172.40H307.11V173.41H309.13V174.05H311.15V174.23H313.16V173.22H315.18V172.90H317.20V172.90H319.21V172.90H321.23V172.90H323.25V173.07H325.27V173.28H327.28V173.48H329.30V173.69H331.32V174.26H333.34V174.61H335.35V173.70H337.37V171.22H339.39V168.92H341.40V166.91H343.42V166.73H345.44V166.73H347.46V166.73H349.47V166.94H351.49V167.45H353.51V169.75H355.53V170.26H357.54V167.23H359.56V164.63H361.58V163.02H363.60V163.53H365.61V164.03H367.63V164.66H369.65V165.67H371.66V165.24H373.68V164.41H375.70V164.41H377.72V165.73H379.73V167.31H381.75V165.80H383.77V163.99H385.79V162.07H387.80V161.56H389.82V162.04H391.84V163.39H393.85V164.03H395.87V162.42H397.89V161.11H399.91V160.84H401.92V162.46H403.94V164.18H405.96V165.72H407.98V163.70H409.99V161.98H412.01V160.44H414.03V158.42H416.04V160.69H418.06V162.48H420.08V163.17H422.10V161.15H424.11V161.62H426.13V163.05H428.15V164.05H430.17V160.95H432.18V156.24H434.20V153.61H436.22V153.61H438.24V154.85H440.25V156.25H442.27V157.36H444.29V157.99H446.30V158.49H448.32V159.96H450.34V161.38H452.36V162.05H454.37V159.73H456.39V157.41H458.41V156.91H460.43V156.93H462.44V157.44H464.46V157.94H466.48V158.45H468.49V158.95H470.51V159.46H472.53V160.47H474.55V161.54H476.56V162.89H478.58V160.44H480.60V159.17H482.62V160.68H484.63V161.90H486.65V162.90H488.67V163.53H490.69V164.03H492.70V165.31H494.72V164.83H496.74V163.23H498.75V163.74H500.77V164.30H502.79V164.97H504.81V162.43H506.82V160.42H508.84V158.91H510.86V158.52H512.88V158.52H514.89V158.98H516.91V159.37H518.93V158.37H520.94V158.22H522.96V160.91H524.98V161.30H527.00V160.01H529.01V157.87H531.03V160.56H533.05V159.47H535.07V156.94H537.08V153.50H539.10V151.48H541.12V149.92H543.13V148.43H545.15V147.09H547.17V152.72H549.19V155.61H551.20V155.31H553.22V153.78H555.24V153.27H557.26V153.62H559.27V154.63H561.29V157.00H563.31V161.36H565.33V166.76H567.34V169.18H569.36V171.60H571.38V170.31H573.39V168.97H575.41V167.69H577.43V166.54H579.45V165.38H581.46V164.96H583.48V166.41H585.50V167.85H587.52V168.91H589.53V168.57H591.55V168.24H593.57V168.10H595.58V168.10H597.60V168.10H599.62V167.14H601.64V166.13H603.65V165.12H605.67V163.89H607.69V162.38H609.71V162.59H611.72V163.60H613.74V161.80H615.76V159.37H617.78V157.63H619.79V158.13H621.81V158.09H623.83V157.59H625.84V157.08H627.86V156.63H629.88V157.63H631.90V158.92H633.91V160.94H635.93V162.96H637.95V164.97H639.97V164.74H641.98V163.82H644.00V163.82H641.98V164.74H639.97V164.97H637.95V162.96H635.93V160.94H633.91V158.92H631.90V157.63H629.88V156.63H627.86V157.08H625.84V157.59H623.83V158.09H621.81V158.13H619.79V157.63H617.78V159.37H615.76V161.80H613.74V163.60H611.72V162.59H609.71V162.38H607.69V163.89H605.67V165.12H603.65V166.13H601.64V167.14H599.62V168.10H597.60V168.10H595.58V168.10H593.57V168.24H591.55V168.57H589.53V168.91H587.52V167.85H585.50V166.41H583.48V164.96H581.46V165.38H579.45V166.54H577.43V167.69H575.41V168.97H573.39V170.31H571.38V171.60H569.36V169.18H567.34V166.76H565.33V161.36H563.31V157.00H561.29V154.63H559.27V153.62H557.26V153.27H555.24V153.78H553.22V155.31H551.20V155.61H549.19V152.72H547.17V147.09H545.15V148.43H543.13V149.92H541.12V151.48H539.10V153.50H537.08V156.94H535.07V159.47H533.05V160.56H531.03V157.87H529.01V160.01H527.00V161.30H524.98V160.91H522.96V158.22H520.94V158.37H518.93V159.37H516.91V158.98H514.89V158.52H512.88V158.52H510.86V158.91H508.84V160.42H506.82V162.43H504.81V164.97H502.79V164.30H500.77V163.74H498.75V163.23H496.74V164.83H494.72V165.31H492.70V164.03H490.69V163.53H488.67V162.90H486.65V161.90H484.63V160.68H482.62V159.17H480.60V160.44H478.58V162.89H476.56V161.54H474.55V160.47H472.53V159.46H470.51V158.95H468.49V158.45H466.48V157.94H464.46V157.44H462.44V156.93H460.43V156.91H458.41V157.41H456.39V159.73H454.37V162.05H452.36V161.38H450.34V159.96H448.32V158.49H446.30V157.99H444.29V157.36H442.27V156.25H440.25V154.85H438.24V153.61H436.22V153.61H434.20V156.24H432.18V160.95H430.17V164.05H428.15V163.05H426.13V161.62H424.11V161.15H422.10V163.17H420.08V162.48H418.06V160.69H416.04V158.42H414.03V160.44H412.01V161.98H409.99V163.70H407.98V165.72H405.96V164.18H403.94V162.46H401.92V160.84H399.91V161.11H397.89V162.42H395.87V164.03H393.85V163.39H391.84V162.04H389.82V161.56H387.80V162.07H385.79V163.99H383.77V165.80H381.75V167.31H379.73V165.73H377.72V164.41H375.70V164.41H373.68V165.24H371.66V165.67H369.65V164.66H367.63V164.03H365.61V163.53H363.60V163.02H361.58V164.63H359.56V167.23H357.54V170.26H355.53V169.75H353.51V167.45H351.49V166.94H349.47V166.73H347.46V167.59H345.44V167.14H343.42V166.91H341.40V168.92H339.39V171.22H337.37V173.70H335.35V174.61H333.34V174.63H331.32V174.66H329.30V174.67H327.28V174.65H325.27V174.62H323.25V174.59H321.23V174.56H319.21V174.53H317.20V174.51H315.18V174.48H313.16V174.45H311.15V174.29H309.13V174.08H307.11V173.88H305.09V173.68H303.08V173.67H301.06V173.67H299.04V173.67H297.02V173.67H295.01V173.67H292.99V173.67H290.97V173.71H288.96V174.22H286.94V174.22H284.92V173.82H282.90V173.61H280.89V173.51H278.87V173.41H276.85V173.31H274.83V173.07H272.82V170.11H270.80V168.12H268.78V168.67H266.76V170.99H264.75V173.42H262.73V174.11H260.71V174.30H258.70V174.31H256.68V174.27H254.66V174.23H252.64V174.13H250.63V173.31H248.61V172.60H246.59V172.46H244.57V172.56H242.56V172.54H240.54V172.79H238.52V172.67H236.51V172.37H234.49V171.86H232.47V171.61H230.45V171.56H228.44V171.60H226.42V171.66H224.40V171.74H222.38V171.89H220.37V172.05H218.35V172.30H216.33V172.53H214.31V172.68H212.30V172.43H210.28V172.08H208.26V171.80H206.25V171.74H204.23V171.69H202.21V171.66H200.19V171.55H198.18V171.60H196.16V171.68H194.14V171.85H192.12V172.03H190.11V172.14H188.09V171.96H186.07V171.52H184.06V170.99H182.04V170.90H180.02V170.88H178.00V170.84H175.99V170.80H173.97V170.77H171.95V171.22H169.93V171.42H167.92V171.51H165.90V171.80H163.88V171.82H161.87V171.69H159.85V171.21H157.83V170.87H155.81V170.91H153.80V170.95H151.78V170.64H149.76V170.29H147.74V170.60H145.73V170.49H143.71V170.31H141.69V170.45H139.67V170.40H137.66V169.96H135.64V168.80H133.62V168.45H131.61V168.23H129.59V168.46H127.57V168.70H125.55V169.15H123.54V169.70H121.52V170.36H119.50V170.92H117.48V171.39H115.47V171.08H113.45V170.42H111.43V169.45H109.42V169.06H107.40V168.66H105.38V168.64H103.36V168.64H101.35V168.80H99.33V169.37H97.31V169.85H95.29V170.15H93.28V170.56H91.26V171.09H89.24V170.95H87.22V170.02H85.21V169.50H83.19V169.28H81.17V169.37H79.16V169.83H77.14V170.54H75.12V171.21H73.10V171.29H71.09V171.35H69.07V171.82H67.05V172.50H65.03V172.76H63.02V172.90H61.00Z"/><path fill="#FF0000" d="M61.00,168.39H63.02V168.58H65.03V168.43H67.05V167.40H69.07V166.84H71.09V167.07H73.10V167.22H75.12V166.31H77.14V165.35H79.16V164.67H81.17V164.40H83.19V164.69H85.21V165.50H87.22V167.07H89.24V167.25H91.26V166.25H93.28V165.46H95.29V164.85H97.31V163.90H99.33V162.78H101.35V162.55H103.36V162.67H105.38V162.81H107.40V163.43H109.42V164.05H111.43V165.72H113.45V166.86H115.47V167.35H117.48V166.48H119.50V165.43H121.52V164.20H123.54V163.18H125.55V162.34H127.57V161.91H129.59V161.47H131.61V161.65H133.62V161.97H135.64V163.94H137.66V164.50H139.67V164.26H141.69V163.58H143.71V163.55H145.73V163.32H147.74V162.04H149.76V162.26H151.78V162.34H153.80V161.02H155.81V159.67H157.83V161.33H159.85V162.56H161.87V162.74H163.88V162.61H165.90V161.94H167.92V161.96H169.93V161.61H171.95V160.33H173.97V160.55H175.99V160.23H178.00V159.84H180.02V159.40H182.04V159.32H184.06V161.56H186.07V163.45H188.09V164.08H190.11V163.34H192.12V162.34H194.14V161.31H196.16V159.86H198.18V158.40H200.19V157.51H202.21V155.72H204.23V154.04H206.25V152.95H208.26V154.62H210.28V156.63H212.30V158.01H214.31V156.95H216.33V155.29H218.35V153.21H220.37V152.18H222.38V151.47H224.40V151.09H226.42V150.74H228.44V150.56H230.45V151.93H232.47V154.14H234.49V158.84H236.51V161.51H238.52V161.50H240.54V159.73H242.56V158.84H244.57V157.21H246.59V156.68H248.61V153.66H250.63V152.32H252.64V152.34H254.66V152.27H256.68V153.57H258.70V157.09H260.71V160.98H262.73V163.89H264.75V158.45H266.76V157.10H268.78V156.90H270.80V157.71H272.82V157.71H274.83V156.10H276.85V154.38H278.87V153.23H280.89V157.92H282.90V161.91H284.92V167.42H286.94V167.84H288.96V164.81H290.97V157.36H292.99V153.26H295.01V154.22H297.02V155.58H299.04V155.99H301.06V156.01H303.08V156.17H305.09V161.71H307.11V166.72H309.13V170.24H311.15V170.05H313.16V163.08H315.18V158.73H317.20V156.77H319.21V157.35H321.23V159.21H323.25V160.68H325.27V162.06H327.28V163.96H329.30V168.37H331.32V171.54H333.34V172.26H335.35V170.65H337.37V159.48H339.39V150.74H341.40V149.83H343.42V150.13H345.44V150.54H347.46V150.60H349.47V150.30H351.49V149.80H353.51V153.38H355.53V157.44H357.54V160.13H359.56V154.13H361.58V150.13H363.60V148.36H365.61V148.96H367.63V150.17H369.65V151.61H371.66V148.95H373.68V145.23H375.70V142.11H377.72V147.54H379.73V158.05H381.75V161.28H383.77V157.94H385.79V146.36H387.80V141.30H389.82V137.56H391.84V136.78H393.85V136.24H395.87V134.65H397.89V131.70H399.91V128.86H401.92V128.59H403.94V128.84H405.96V137.06H407.98V140.61H409.99V135.21H412.01V127.24H414.03V126.15H416.04V127.22H418.06V128.13H420.08V125.64H422.10V124.05H424.11V123.55H426.13V128.03H428.15V133.83H430.17V137.53H432.18V133.52H434.20V127.64H436.22V124.59H438.24V125.81H440.25V125.33H442.27V128.30H444.29V129.64H446.30V129.20H448.32V129.15H450.34V131.15H452.36V141.76H454.37V149.67H456.39V141.12H458.41V133.52H460.43V131.58H462.44V130.23H464.46V130.87H466.48V132.38H468.49V133.14H470.51V132.25H472.53V130.31H474.55V135.74H476.56V142.46H478.58V155.50H480.60V147.48H482.62V142.26H484.63V139.58H486.65V139.52H488.67V141.53H490.69V142.94H492.70V141.30H494.72V135.95H496.74V131.74H498.75V137.78H500.77V143.87H502.79V147.79H504.81V144.75H506.82V137.67H508.84V133.64H510.86V130.34H512.88V130.33H514.89V131.04H516.91V131.48H518.93V128.79H520.94V126.57H522.96V133.98H524.98V148.38H527.00V155.87H529.01V153.16H531.03V143.53H533.05V131.33H535.07V119.16H537.08V112.46H539.10V111.42H541.12V109.87H543.13V105.78H545.15V104.00H547.17V111.64H549.19V124.48H551.20V135.54H553.22V138.63H555.24V136.26H557.26V123.15H559.27V120.18H561.29V121.35H563.31V121.93H565.33V121.93H567.34V120.01H569.36V119.27H571.38V120.56H573.39V131.82H575.41V140.87H577.43V144.00H579.45V138.68H581.46V117.96H583.48V111.54H585.50V111.09H587.52V115.32H589.53V117.62H591.55V119.51H593.57V121.46H595.58V124.85H597.60V140.46H599.62V142.48H601.64V138.84H603.65V122.85H605.67V118.41H607.69V116.77H609.71V115.91H611.72V116.59H613.74V118.52H615.76V117.25H617.78V114.08H619.79V111.38H621.81V116.15H623.83V119.74H625.84V117.34H627.86V109.42H629.88V105.49H631.90V104.14H633.91V105.33H635.93V107.76H637.95V106.83H639.97V103.81H641.98V101.14H644.00V163.82H641.98V164.74H639.97V164.97H637.95V162.96H635.93V160.94H633.91V158.92H631.90V157.63H629.88V156.63H627.86V157.08H625.84V157.59H623.83V158.09H621.81V158.13H619.79V157.63H617.78V159.37H615.76V161.80H613.74V163.60H611.72V162.59H609.71V162.38H607.69V163.89H605.67V165.12H603.65V166.13H601.64V167.14H599.62V168.10H597.60V168.10H595.58V168.10H593.57V168.24H591.55V168.57H589.53V168.91H587.52V167.85H585.50V166.41H583.48V164.96H581.46V165.38H579.45V166.54H577.43V167.69H575.41V168.97H573.39V170.31H571.38V171.60H569.36V169.18H567.34V166.76H565.33V161.36H563.31V157.00H561.29V154.63H559.27V153.62H557.26V153.27H555.24V153.78H553.22V155.31H551.20V155.61H549.19V152.72H547.17V147.09H545.15V148.43H543.13V149.92H541.12V151.48H539.10V153.50H537.08V156.94H535.07V159.47H533.05V160.56H531.03V157.87H529.01V160.01H527.00V161.30H524.98V160.91H522.96V158.22H520.94V158.37H518.93V159.37H516.91V158.98H514.89V158.52H512.88V158.52H510.86V158.91H508.84V160.42H506.82V162.43H504.81V164.97H502.79V164.30H500.77V163.74H498.75V163.23H496.74V164.83H494.72V165.31H492.70V164.03H490.69V163.53H488.67V162.90H486.65V161.90H484.63V160.68H482.62V159.17H480.60V160.44H478.58V162.89H476.56V161.54H474.55V160.47H472.53V159.46H470.51V158.95H468.49V158.45H466.48V157.94H464.46V157.44H462.44V156.93H460.43V156.91H458.41V157.41H456.39V159.73H454.37V162.05H452.36V161.38H450.34V159.96H448.32V158.49H446.30V157.99H444.29V157.36H442.27V156.25H440.25V154.85H438.24V153.61H436.22V153.61H434.20V156.24H432.18V160.95H430.17V164.05H428.15V163.05H426.13V161.62H424.11V161.15H422.10V163.17H420.08V162.48H418.06V160.69H416.04V158.42H414.03V160.44H412.01V161.98H409.99V163.70H407.98V165.72H405.96V164.18H403.94V162.46H401.92V160.84H399.91V161.11H397.89V162.42H395.87V164.03H393.85V163.39H391.84V162.04H389.82V161.56H387.80V162.07H385.79V163.99H383.77V165.80H381.75V167.31H379.73V165.73H377.72V164.41H375.70V164.41H373.68V165.24H371.66V165.67H369.65V164.66H367.63V164.03H365.61V163.53H363.60V163.02H361.58V164.63H359.56V167.23H357.54V170.26H355.53V169.75H353.51V167.45H351.49V166.94H349.47V166.73H347.46V166.73H345.44V166.73H343.42V166.91H341.40V168.92H339.39V171.22H337.37V173.70H335.35V174.61H333.34V174.26H331.32V173.69H329.30V173.48H327.28V173.28H325.27V173.07H323.25V172.90H321.23V172.90H319.21V172.90H317.20V172.90H315.18V173.22H313.16V174.23H311.15V174.05H309.13V173.41H307.11V172.40H305.09V171.39H303.08V171.16H301.06V170.96H299.04V170.76H297.02V170.55H295.01V170.30H292.99V170.05H290.97V170.05H288.96V173.08H286.94V174.00H284.92V173.19H282.90V172.58H280.89V172.08H278.87V171.57H276.85V171.36H274.83V171.36H272.82V170.07H270.80V168.12H268.78V168.67H266.76V170.61H264.75V172.95H262.73V173.87H260.71V174.16H258.70V174.31H256.68V173.94H254.66V173.44H252.64V173.07H250.63V171.37H248.61V169.82H246.59V169.03H244.57V168.76H242.56V168.30H240.54V169.04H238.52V169.00H236.51V168.57H234.49V167.75H232.47V167.31H230.45V166.97H228.44V166.81H226.42V166.72H224.40V166.68H222.38V166.79H220.37V166.97H218.35V167.36H216.33V168.04H214.31V168.63H212.30V168.35H210.28V167.90H208.26V167.62H206.25V167.82H204.23V168.02H202.21V168.25H200.19V167.86H198.18V167.77H196.16V167.74H194.14V167.91H192.12V168.12H190.11V168.22H188.09V167.98H186.07V167.45H184.06V166.81H182.04V166.68H180.02V166.64H178.00V166.58H175.99V166.50H173.97V166.42H171.95V167.26H169.93V167.64H167.92V167.82H165.90V168.39H163.88V168.45H161.87V168.18H159.85V166.96H157.83V165.77H155.81V166.04H153.80V166.30H151.78V166.01H149.76V165.66H147.74V166.46H145.73V166.48H143.71V166.36H141.69V166.77H139.67V166.84H137.66V166.28H135.64V164.56H133.62V164.17H131.61V163.95H129.59V164.42H127.57V164.89H125.55V165.68H123.54V166.60H121.52V167.68H119.50V168.60H117.48V169.36H115.47V168.90H113.45V167.92H111.43V166.49H109.42V165.89H107.40V165.28H105.38V165.08H103.36V164.91H101.35V165.09H99.33V166.18H97.31V167.09H95.29V167.71H93.28V168.46H91.26V169.34H89.24V169.25H87.22V167.98H85.21V167.26H83.19V166.94H81.17V167.05H79.16V167.58H77.14V168.40H75.12V169.18H73.10V169.12H71.09V169.02H69.07V169.52H67.05V170.37H65.03V170.56H63.02V170.50H61.00Z"/><path fill="#F1975A" d="M61.00,168.02H63.02V168.24H65.03V168.10H67.05V167.05H69.07V166.49H71.09V166.75H73.10V166.93H75.12V166.00H77.14V165.03H79.16V164.34H81.17V164.05H83.19V164.33H85.21V165.16H87.22V166.77H89.24V166.95H91.26V165.93H93.28V165.12H95.29V164.50H97.31V163.54H99.33V162.39H101.35V162.17H103.36V162.29H105.38V162.44H107.40V163.05H109.42V163.65H111.43V165.35H113.45V166.50H115.47V166.98H117.48V166.09H119.50V165.01H121.52V163.75H123.54V162.71H125.55V161.86H127.57V161.43H129.59V161.00H131.61V161.16H133.62V161.46H135.64V163.47H137.66V164.02H139.67V163.74H141.69V162.99H143.71V162.92H145.73V162.64H147.74V161.24H149.76V161.43H151.78V161.48H153.80V160.22H155.81V158.92H157.83V160.87H159.85V162.13H161.87V162.31H163.88V162.17H165.90V161.49H167.92V161.53H169.93V161.18H171.95V159.88H173.97V160.11H175.99V159.77H178.00V159.36H180.02V158.88H182.04V158.79H184.06V161.07H186.07V162.99H188.09V163.65H190.11V162.91H192.12V161.91H194.14V160.88H196.16V159.38H198.18V157.89H200.19V156.97H202.21V155.14H204.23V153.42H206.25V152.34H208.26V154.17H210.28V156.18H212.30V157.56H214.31V156.50H216.33V154.83H218.35V152.76H220.37V151.72H222.38V151.01H224.40V150.59H226.42V150.15H228.44V149.88H230.45V151.31H232.47V153.65H234.49V158.44H236.51V161.16H238.52V161.16H240.54V159.37H242.56V158.48H244.57V156.83H246.59V156.32H248.61V153.31H250.63V152.00H252.64V151.95H254.66V151.84H256.68V153.07H258.70V156.58H260.71V160.23H262.73V163.17H264.75V157.92H266.76V156.56H268.78V156.37H270.80V157.10H272.82V157.05H274.83V155.44H276.85V153.71H278.87V152.56H280.89V157.27H282.90V161.27H284.92V166.87H286.94V167.39H288.96V164.35H290.97V156.71H292.99V152.56H295.01V153.55H297.02V154.90H299.04V155.28H301.06V155.23H303.08V155.33H305.09V161.00H307.11V166.01H309.13V169.57H311.15V169.46H313.16V162.40H315.18V158.00H317.20V156.05H319.21V156.60H321.23V158.54H323.25V160.09H325.27V161.39H327.28V163.14H329.30V167.49H331.32V170.85H333.34V171.63H335.35V169.90H337.37V158.80H339.39V150.12H341.40V149.23H343.42V149.52H345.44V149.93H347.46V149.83H349.47V149.53H351.49V149.03H353.51V152.48H355.53V156.49H357.54V159.23H359.56V153.19H361.58V149.28H363.60V147.52H365.61V148.05H367.63V149.21H369.65V150.66H371.66V148.05H373.68V144.42H375.70V141.28H377.72V146.43H379.73V157.19H381.75V160.38H383.77V157.12H385.79V145.70H387.80V140.63H389.82V136.87H391.84V136.10H393.85V135.57H395.87V133.99H397.89V130.83H399.91V127.53H401.92V127.44H403.94V127.87H405.96V136.32H407.98V139.41H409.99V133.98H412.01V126.13H414.03V124.90H416.04V125.85H418.06V126.72H420.08V124.11H422.10V122.46H424.11V121.95H426.13V126.43H428.15V132.24H430.17V135.93H432.18V131.92H434.20V126.01H436.22V122.80H438.24V123.82H440.25V123.52H442.27V127.05H444.29V128.39H446.30V127.78H448.32V127.79H450.34V130.06H452.36V140.73H454.37V148.66H456.39V140.01H458.41V132.26H460.43V130.14H462.44V128.80H464.46V129.37H466.48V130.78H468.49V131.33H470.51V130.33H472.53V128.49H474.55V134.21H476.56V140.94H478.58V154.89H480.60V145.51H482.62V140.10H484.63V137.50H486.65V137.57H488.67V139.59H490.69V140.74H492.70V138.93H494.72V133.59H496.74V129.45H498.75V135.78H500.77V142.17H502.79V146.39H504.81V143.39H506.82V136.14H508.84V131.98H510.86V128.52H512.88V128.68H514.89V129.55H516.91V130.04H518.93V127.29H520.94V125.11H522.96V132.54H524.98V147.18H527.00V154.88H529.01V151.95H531.03V142.28H533.05V130.27H535.07V118.29H537.08V110.90H539.10V109.74H541.12V108.02H543.13V103.68H545.15V101.70H547.17V109.46H549.19V122.29H551.20V133.19H553.22V135.82H555.24V133.91H557.26V121.42H559.27V118.30H561.29V119.45H563.31V120.01H565.33V120.02H567.34V118.07H569.36V117.35H571.38V118.46H573.39V130.47H575.41V139.72H577.43V142.26H579.45V136.75H581.46V116.33H583.48V110.25H585.50V109.64H587.52V113.80H589.53V115.99H591.55V117.76H593.57V119.59H595.58V122.52H597.60V136.67H599.62V141.01H601.64V137.85H603.65V121.29H605.67V116.57H607.69V114.77H609.71V113.79H611.72V114.46H613.74V116.24H615.76V115.01H617.78V111.95H619.79V109.26H621.81V114.05H623.83V117.66H625.84V115.32H627.86V107.71H629.88V103.45H631.90V101.88H633.91V102.93H635.93V105.26H637.95V104.82H639.97V101.98H641.98V99.42H644.00V101.14H641.98V103.81H639.97V106.83H637.95V107.76H635.93V105.33H633.91V104.14H631.90V105.49H629.88V109.42H627.86V117.34H625.84V119.74H623.83V116.15H621.81V111.38H619.79V114.08H617.78V117.25H615.76V118.52H613.74V116.59H611.72V115.91H609.71V116.77H607.69V118.41H605.67V122.85H603.65V138.84H601.64V142.48H599.62V140.46H597.60V124.85H595.58V121.46H593.57V119.51H591.55V117.62H589.53V115.32H587.52V111.09H585.50V111.54H583.48V117.96H581.46V138.68H579.45V144.00H577.43V140.87H575.41V131.82H573.39V120.56H571.38V119.27H569.36V120.01H567.34V121.93H565.33V121.93H563.31V121.35H561.29V120.18H559.27V123.15H557.26V136.26H555.24V138.63H553.22V135.54H551.20V124.48H549.19V111.64H547.17V104.00H545.15V105.78H543.13V109.87H541.12V111.42H539.10V112.46H537.08V119.16H535.07V131.33H533.05V143.53H531.03V153.16H529.01V155.87H527.00V148.38H524.98V133.98H522.96V126.57H520.94V128.79H518.93V131.48H516.91V131.04H514.89V130.33H512.88V130.34H510.86V133.64H508.84V137.67H506.82V144.75H504.81V147.79H502.79V143.87H500.77V137.78H498.75V131.74H496.74V135.95H494.72V141.30H492.70V142.94H490.69V141.53H488.67V139.52H486.65V139.58H484.63V142.26H482.62V147.48H480.60V155.50H478.58V142.46H476.56V135.74H474.55V130.31H472.53V132.25H470.51V133.14H468.49V132.38H466.48V130.87H464.46V130.23H462.44V131.58H460.43V133.52H458.41V141.12H456.39V149.67H454.37V141.76H452.36V131.15H450.34V129.15H448.32V129.20H446.30V129.64H444.29V128.30H442.27V125.33H440.25V125.81H438.24V124.59H436.22V127.64H434.20V133.52H432.18V137.53H430.17V133.83H428.15V128.03H426.13V123.55H424.11V124.05H422.10V125.64H420.08V128.13H418.06V127.22H416.04V126.15H414.03V127.24H412.01V135.21H409.99V140.61H407.98V137.06H405.96V128.84H403.94V128.59H401.92V128.86H399.91V131.70H397.89V134.65H395.87V136.24H393.85V136.78H391.84V137.56H389.82V141.30H387.80V146.36H385.79V157.94H383.77V161.28H381.75V158.05H379.73V147.54H377.72V142.11H375.70V145.23H373.68V148.95H371.66V151.61H369.65V150.17H367.63V148.96H365.61V148.36H363.60V150.13H361.58V154.13H359.56V160.13H357.54V157.44H355.53V153.38H353.51V149.80H351.49V150.30H349.47V150.60H347.46V150.54H345.44V150.13H343.42V149.83H341.40V150.74H339.39V159.48H337.37V170.65H335.35V172.26H333.34V171.54H331.32V168.37H329.30V163.96H327.28V162.06H325.27V160.68H323.25V159.21H321.23V157.35H319.21V156.77H317.20V158.73H315.18V163.08H313.16V170.05H311.15V170.24H309.13V166.72H307.11V161.71H305.09V156.17H303.08V156.01H301.06V155.99H299.04V155.58H297.02V154.22H295.01V153.26H292.99V157.36H290.97V164.81H288.96V167.84H286.94V167.42H284.92V161.91H282.90V157.92H280.89V153.23H278.87V154.38H276.85V156.10H274.83V157.71H272.82V157.71H270.80V156.90H268.78V157.10H266.76V158.45H264.75V163.89H262.73V160.98H260.71V157.09H258.70V153.57H256.68V152.27H254.66V152.34H252.64V152.32H250.63V153.66H248.61V156.68H246.59V157.21H244.57V158.84H242.56V159.73H240.54V161.50H238.52V161.51H236.51V158.84H234.49V154.14H232.47V151.93H230.45V150.56H228.44V150.74H226.42V151.09H224.40V151.47H222.38V152.18H220.37V153.21H218.35V155.29H216.33V156.95H214.31V158.01H212.30V156.63H210.28V154.62H208.26V152.95H206.25V154.04H204.23V155.72H202.21V157.51H200.19V158.40H198.18V159.86H196.16V161.31H194.14V162.34H192.12V163.34H190.11V164.08H188.09V163.45H186.07V161.56H184.06V159.32H182.04V159.40H180.02V159.84H178.00V160.23H175.99V160.55H173.97V160.33H171.95V161.61H169.93V161.96H167.92V161.94H165.90V162.61H163.88V162.74H161.87V162.56H159.85V161.33H157.83V159.67H155.81V161.02H153.80V162.34H151.78V162.26H149.76V162.04H147.74V163.32H145.73V163.55H143.71V163.58H141.69V164.26H139.67V164.50H137.66V163.94H135.64V161.97H133.62V161.65H131.61V161.47H129.59V161.91H127.57V162.34H125.55V163.18H123.54V164.20H121.52V165.43H119.50V166.48H117.48V167.35H115.47V166.86H113.45V165.72H111.43V164.05H109.42V163.43H107.40V162.81H105.38V162.67H103.36V162.55H101.35V162.78H99.33V163.90H97.31V164.85H95.29V165.46H93.28V166.25H91.26V167.25H89.24V167.07H87.22V165.50H85.21V164.69H83.19V164.40H81.17V164.67H79.16V165.35H77.14V166.31H75.12V167.22H73.10V167.07H71.09V166.84H69.07V167.40H67.05V168.43H65.03V168.58H63.02V168.39H61.00Z"/><path fill="#B0B0B0" d="M61.00,167.80H63.02V168.05H65.03V167.92H67.05V166.85H69.07V166.29H71.09V166.57H73.10V166.76H75.12V165.82H77.14V164.85H79.16V164.15H81.17V163.84H83.19V164.12H85.21V164.96H87.22V166.59H89.24V166.78H91.26V165.74H93.28V164.93H95.29V164.31H97.31V163.33H99.33V162.18H101.35V161.95H103.36V162.08H105.38V162.23H107.40V162.83H109.42V163.43H111.43V165.14H113.45V166.30H115.47V166.77H117.48V165.87H119.50V164.77H121.52V163.49H123.54V162.45H125.55V161.59H127.57V161.16H129.59V160.73H131.61V160.87H133.62V161.16H135.64V163.20H137.66V163.75H139.67V163.44H141.69V162.65H143.71V162.56H145.73V162.26H147.74V160.79H149.76V160.95H151.78V160.99H153.80V159.76H155.81V158.50H157.83V160.61H159.85V161.89H161.87V162.06H163.88V161.92H165.90V161.23H167.92V161.28H169.93V160.93H171.95V159.62H173.97V159.87H175.99V159.51H178.00V159.08H180.02V158.59H182.04V158.48H184.06V160.79H186.07V162.73H188.09V163.40H190.11V162.66H192.12V161.66H194.14V160.63H196.16V159.11H198.18V157.59H200.19V156.66H202.21V154.80H204.23V153.05H206.25V151.98H208.26V153.91H210.28V155.92H212.30V157.30H214.31V156.23H216.33V154.56H218.35V152.48H220.37V151.44H222.38V150.72H224.40V150.28H226.42V149.78H228.44V149.45H230.45V150.93H232.47V153.35H234.49V158.19H236.51V160.93H238.52V160.95H240.54V159.13H242.56V158.25H244.57V156.58H246.59V156.08H248.61V153.08H250.63V151.79H252.64V151.69H254.66V151.56H256.68V152.74H258.70V156.25H260.71V159.72H262.73V162.69H264.75V157.57H266.76V156.20H268.78V156.00H270.80V156.69H272.82V156.61H274.83V154.99H276.85V153.25H278.87V152.09H280.89V156.82H282.90V160.83H284.92V166.48H286.94V167.07H288.96V164.03H290.97V156.25H292.99V152.06H295.01V153.07H297.02V154.42H299.04V154.77H301.06V154.68H303.08V154.73H305.09V160.49H307.11V165.50H309.13V169.08H311.15V169.04H313.16V161.90H315.18V157.47H317.20V155.52H319.21V156.05H321.23V158.05H323.25V159.65H325.27V160.89H327.28V162.53H329.30V166.83H331.32V170.33H333.34V171.15H335.35V169.34H337.37V158.29H339.39V149.65H341.40V148.77H343.42V149.06H345.44V149.48H347.46V149.25H349.47V148.94H351.49V148.44H353.51V151.79H355.53V155.77H357.54V158.54H359.56V152.46H361.58V148.62H363.60V146.88H365.61V147.35H367.63V148.47H369.65V149.93H371.66V147.36H373.68V143.79H375.70V140.63H377.72V145.55H379.73V156.51H381.75V159.67H383.77V156.47H385.79V145.17H387.80V140.10H389.82V136.33H391.84V135.56H393.85V135.04H395.87V133.46H397.89V130.14H399.91V126.47H401.92V126.53H403.94V127.09H405.96V135.72H407.98V138.44H409.99V132.99H412.01V125.24H414.03V123.88H416.04V124.73H418.06V125.57H420.08V122.87H422.10V121.16H424.11V120.65H426.13V125.11H428.15V130.94H430.17V134.61H432.18V130.60H434.20V124.67H436.22V121.32H438.24V122.17H440.25V122.02H442.27V126.01H444.29V127.34H446.30V126.61H448.32V126.66H450.34V129.15H452.36V139.88H454.37V147.82H456.39V139.08H458.41V131.20H460.43V128.94H462.44V127.60H464.46V128.12H466.48V129.46H468.49V129.82H470.51V128.74H472.53V126.98H474.55V132.94H476.56V139.67H478.58V154.37H480.60V143.87H482.62V138.31H484.63V135.76H486.65V135.96H488.67V137.97H490.69V138.91H492.70V136.95H494.72V131.62H496.74V127.55H498.75V134.11H500.77V140.75H502.79V145.22H504.81V142.25H506.82V134.86H508.84V130.60H510.86V127.00H512.88V127.30H514.89V128.30H516.91V128.84H518.93V126.04H520.94V123.90H522.96V131.34H524.98V146.18H527.00V154.06H529.01V150.94H531.03V141.23H533.05V129.38H535.07V117.57H537.08V109.61H539.10V108.33H541.12V106.48H543.13V101.93H545.15V99.78H547.17V107.65H549.19V120.46H551.20V131.24H553.22V133.48H555.24V131.95H557.26V119.99H559.27V116.73H561.29V117.86H563.31V118.42H565.33V118.43H567.34V116.45H569.36V115.76H571.38V116.71H573.39V129.35H575.41V138.76H577.43V140.81H579.45V135.15H581.46V114.97H583.48V109.18H585.50V108.44H587.52V112.54H589.53V114.63H591.55V116.30H593.57V118.03H595.58V120.58H597.60V133.51H599.62V139.79H601.64V137.03H603.65V119.98H605.67V115.04H607.69V113.10H609.71V112.02H611.72V112.69H613.74V114.35H615.76V113.14H617.78V110.18H619.79V107.49H621.81V112.31H623.83V115.94H625.84V113.63H627.86V106.28H629.88V101.74H631.90V100.00H633.91V100.93H635.93V103.17H637.95V103.15H639.97V100.45H641.98V97.99H644.00V99.42H641.98V101.98H639.97V104.82H637.95V105.26H635.93V102.93H633.91V101.88H631.90V103.45H629.88V107.71H627.86V115.32H625.84V117.66H623.83V114.05H621.81V109.26H619.79V111.95H617.78V115.01H615.76V116.24H613.74V114.46H611.72V113.79H609.71V114.77H607.69V116.57H605.67V121.29H603.65V137.85H601.64V141.01H599.62V136.67H597.60V122.52H595.58V119.59H593.57V117.76H591.55V115.99H589.53V113.80H587.52V109.64H585.50V110.25H583.48V116.33H581.46V136.75H579.45V142.26H577.43V139.72H575.41V130.47H573.39V118.46H571.38V117.35H569.36V118.07H567.34V120.02H565.33V120.01H563.31V119.45H561.29V118.30H559.27V121.42H557.26V133.91H555.24V135.82H553.22V133.19H551.20V122.29H549.19V109.46H547.17V101.70H545.15V103.68H543.13V108.02H541.12V109.74H539.10V110.90H537.08V118.29H535.07V130.27H533.05V142.28H531.03V151.95H529.01V154.88H527.00V147.18H524.98V132.54H522.96V125.11H520.94V127.29H518.93V130.04H516.91V129.55H514.89V128.68H512.88V128.52H510.86V131.98H508.84V136.14H506.82V143.39H504.81V146.39H502.79V142.17H500.77V135.78H498.75V129.45H496.74V133.59H494.72V138.93H492.70V140.74H490.69V139.59H488.67V137.57H486.65V137.50H484.63V140.10H482.62V145.51H480.60V154.89H478.58V140.94H476.56V134.21H474.55V128.49H472.53V130.33H470.51V131.33H468.49V130.78H466.48V129.37H464.46V128.80H462.44V130.14H460.43V132.26H458.41V140.01H456.39V148.66H454.37V140.73H452.36V130.06H450.34V127.79H448.32V127.78H446.30V128.39H444.29V127.05H442.27V123.52H440.25V123.82H438.24V122.80H436.22V126.01H434.20V131.92H432.18V135.93H430.17V132.24H428.15V126.43H426.13V121.95H424.11V122.46H422.10V124.11H420.08V126.72H418.06V125.85H416.04V124.90H414.03V126.13H412.01V133.98H409.99V139.41H407.98V136.32H405.96V127.87H403.94V127.44H401.92V127.53H399.91V130.83H397.89V133.99H395.87V135.57H393.85V136.10H391.84V136.87H389.82V140.63H387.80V145.70H385.79V157.12H383.77V160.38H381.75V157.19H379.73V146.43H377.72V141.28H375.70V144.42H373.68V148.05H371.66V150.66H369.65V149.21H367.63V148.05H365.61V147.52H363.60V149.28H361.58V153.19H359.56V159.23H357.54V156.49H355.53V152.48H353.51V149.03H351.49V149.53H349.47V149.83H347.46V149.93H345.44V149.52H343.42V149.23H341.40V150.12H339.39V158.80H337.37V169.90H335.35V171.63H333.34V170.85H331.32V167.49H329.30V163.14H327.28V161.39H325.27V160.09H323.25V158.54H321.23V156.60H319.21V156.05H317.20V158.00H315.18V162.40H313.16V169.46H311.15V169.57H309.13V166.01H307.11V161.00H305.09V155.33H303.08V155.23H301.06V155.28H299.04V154.90H297.02V153.55H295.01V152.56H292.99V156.71H290.97V164.35H288.96V167.39H286.94V166.87H284.92V161.27H282.90V157.27H280.89V152.56H278.87V153.71H276.85V155.44H274.83V157.05H272.82V157.10H270.80V156.37H268.78V156.56H266.76V157.92H264.75V163.17H262.73V160.23H260.71V156.58H258.70V153.07H256.68V151.84H254.66V151.95H252.64V152.00H250.63V153.31H248.61V156.32H246.59V156.83H244.57V158.48H242.56V159.37H240.54V161.16H238.52V161.16H236.51V158.44H234.49V153.65H232.47V151.31H230.45V149.88H228.44V150.15H226.42V150.59H224.40V151.01H222.38V151.72H220.37V152.76H218.35V154.83H216.33V156.50H214.31V157.56H212.30V156.18H210.28V154.17H208.26V152.34H206.25V153.42H204.23V155.14H202.21V156.97H200.19V157.89H198.18V159.38H196.16V160.88H194.14V161.91H192.12V162.91H190.11V163.65H188.09V162.99H186.07V161.07H184.06V158.79H182.04V158.88H180.02V159.36H178.00V159.77H175.99V160.11H173.97V159.88H171.95V161.18H169.93V161.53H167.92V161.49H165.90V162.17H163.88V162.31H161.87V162.13H159.85V160.87H157.83V158.92H155.81V160.22H153.80V161.48H151.78V161.43H149.76V161.24H147.74V162.64H145.73V162.92H143.71V162.99H141.69V163.74H139.67V164.02H137.66V163.47H135.64V161.46H133.62V161.16H131.61V161.00H129.59V161.43H127.57V161.86H125.55V162.71H123.54V163.75H121.52V165.01H119.50V166.09H117.48V166.98H115.47V166.50H113.45V165.35H111.43V163.65H109.42V163.05H107.40V162.44H105.38V162.29H103.36V162.17H101.35V162.39H99.33V163.54H97.31V164.50H95.29V165.12H93.28V165.93H91.26V166.95H89.24V166.77H87.22V165.16H85.21V164.33H83.19V164.05H81.17V164.34H79.16V165.03H77.14V166.00H75.12V166.93H73.10V166.75H71.09V166.49H69.07V167.05H67.05V168.10H65.03V168.24H63.02V168.02H61.00Z"/><path fill="#FFC926" d="M61.00,167.69H63.02V167.95H65.03V167.82H67.05V166.75H69.07V166.19H71.09V166.48H73.10V166.67H75.12V165.74H77.14V164.76H79.16V164.05H81.17V163.74H83.19V164.02H85.21V164.86H87.22V166.50H89.24V166.70H91.26V165.65H93.28V164.83H95.29V164.21H97.31V163.23H99.33V162.07H101.35V161.84H103.36V161.97H105.38V162.12H107.40V162.72H109.42V163.31H111.43V165.03H113.45V166.19H115.47V166.66H117.48V165.76H119.50V164.65H121.52V163.36H123.54V162.31H125.55V161.45H127.57V161.02H129.59V160.59H131.61V160.73H133.62V161.02H135.64V163.06H137.66V163.61H139.67V163.29H141.69V162.48H143.71V162.38H145.73V162.06H147.74V160.56H149.76V160.72H151.78V160.75H153.80V159.53H155.81V158.29H157.83V160.48H159.85V161.77H161.87V161.94H163.88V161.79H165.90V161.11H167.92V161.16H169.93V160.81H171.95V159.49H173.97V159.74H175.99V159.38H178.00V158.94H180.02V158.44H182.04V158.33H184.06V160.65H186.07V162.61H188.09V163.28H190.11V162.54H192.12V161.54H194.14V160.50H196.16V158.98H198.18V157.45H200.19V156.50H202.21V154.62H204.23V152.86H206.25V151.80H208.26V153.77H210.28V155.78H212.30V157.15H214.31V156.09H216.33V154.41H218.35V152.33H220.37V151.28H222.38V150.56H224.40V150.10H226.42V149.57H228.44V149.21H230.45V150.71H232.47V153.17H234.49V158.04H236.51V160.80H238.52V160.82H240.54V159.00H242.56V158.11H244.57V156.44H246.59V155.93H248.61V152.94H250.63V151.66H252.64V151.53H254.66V151.38H256.68V152.53H258.70V156.04H260.71V159.40H262.73V162.38H264.75V157.34H266.76V155.97H268.78V155.77H270.80V156.42H272.82V156.32H274.83V154.69H276.85V152.95H278.87V151.78H280.89V156.53H282.90V160.53H284.92V166.22H286.94V166.86H288.96V163.81H290.97V155.94H292.99V151.73H295.01V152.75H297.02V154.10H299.04V154.42H301.06V154.30H303.08V154.32H305.09V160.14H307.11V165.14H309.13V168.75H311.15V168.74H313.16V161.55H315.18V157.09H317.20V155.14H319.21V155.67H321.23V157.70H323.25V159.34H325.27V160.53H327.28V162.09H329.30V166.36H331.32V169.96H333.34V170.81H335.35V168.94H337.37V157.92H339.39V149.31H341.40V148.43H343.42V148.73H345.44V149.14H347.46V148.82H349.47V148.51H351.49V148.00H353.51V151.27H355.53V155.23H357.54V158.02H359.56V151.92H361.58V148.13H363.60V146.39H365.61V146.82H367.63V147.92H369.65V149.38H371.66V146.83H373.68V143.31H375.70V140.14H377.72V144.88H379.73V156.00H381.75V159.13H383.77V155.98H385.79V144.77H387.80V139.70H389.82V135.92H391.84V135.15H393.85V134.62H395.87V133.05H397.89V129.61H399.91V125.65H401.92V125.81H403.94V126.49H405.96V135.26H407.98V137.69H409.99V132.21H412.01V124.54H414.03V123.08H416.04V123.86H418.06V124.67H420.08V121.89H422.10V120.14H424.11V119.62H426.13V124.08H428.15V129.91H430.17V133.57H432.18V129.55H434.20V123.60H436.22V120.15H438.24V120.86H440.25V120.83H442.27V125.18H444.29V126.51H446.30V125.66H448.32V125.75H450.34V128.43H452.36V139.19H454.37V147.14H456.39V138.34H458.41V130.36H460.43V127.99H462.44V126.64H464.46V127.12H466.48V128.40H468.49V128.61H470.51V127.46H472.53V125.76H474.55V131.92H476.56V138.65H478.58V153.96H480.60V142.56H482.62V136.88H484.63V134.37H486.65V134.66H488.67V136.68H490.69V137.45H492.70V135.37H494.72V130.05H496.74V126.03H498.75V132.78H500.77V139.62H502.79V144.29H504.81V141.34H506.82V133.84H508.84V129.50H510.86V125.78H512.88V126.20H514.89V127.31H516.91V127.88H518.93V125.04H520.94V122.93H522.96V130.38H524.98V145.38H527.00V153.40H529.01V150.14H531.03V140.40H533.05V128.68H535.07V116.99H537.08V108.57H539.10V107.21H541.12V105.25H543.13V100.53H545.15V98.25H547.17V106.20H549.19V119.00H551.20V129.67H553.22V131.61H555.24V130.38H557.26V118.84H559.27V115.48H561.29V116.60H563.31V117.15H565.33V117.15H567.34V115.16H569.36V114.48H571.38V115.31H573.39V128.46H575.41V137.99H577.43V139.65H579.45V133.87H581.46V113.88H583.48V108.32H585.50V107.48H587.52V111.53H589.53V113.54H591.55V115.13H593.57V116.78H595.58V119.03H597.60V130.98H599.62V138.81H601.64V136.38H603.65V118.93H605.67V113.81H607.69V111.76H609.71V110.60H611.72V111.28H613.74V112.83H615.76V111.65H617.78V108.77H619.79V106.07H621.81V110.91H623.83V114.55H625.84V112.28H627.86V105.14H629.88V100.38H631.90V98.50H633.91V99.33H635.93V101.50H637.95V101.81H639.97V99.23H641.98V96.84H644.00V97.99H641.98V100.45H639.97V103.15H637.95V103.17H635.93V100.93H633.91V100.00H631.90V101.74H629.88V106.28H627.86V113.63H625.84V115.94H623.83V112.31H621.81V107.49H619.79V110.18H617.78V113.14H615.76V114.35H613.74V112.69H611.72V112.02H609.71V113.10H607.69V115.04H605.67V119.98H603.65V137.03H601.64V139.79H599.62V133.51H597.60V120.58H595.58V118.03H593.57V116.30H591.55V114.63H589.53V112.54H587.52V108.44H585.50V109.18H583.48V114.97H581.46V135.15H579.45V140.81H577.43V138.76H575.41V129.35H573.39V116.71H571.38V115.76H569.36V116.45H567.34V118.43H565.33V118.42H563.31V117.86H561.29V116.73H559.27V119.99H557.26V131.95H555.24V133.48H553.22V131.24H551.20V120.46H549.19V107.65H547.17V99.78H545.15V101.93H543.13V106.48H541.12V108.33H539.10V109.61H537.08V117.57H535.07V129.38H533.05V141.23H531.03V150.94H529.01V154.06H527.00V146.18H524.98V131.34H522.96V123.90H520.94V126.04H518.93V128.84H516.91V128.30H514.89V127.30H512.88V127.00H510.86V130.60H508.84V134.86H506.82V142.25H504.81V145.22H502.79V140.75H500.77V134.11H498.75V127.55H496.74V131.62H494.72V136.95H492.70V138.91H490.69V137.97H488.67V135.96H486.65V135.76H484.63V138.31H482.62V143.87H480.60V154.37H478.58V139.67H476.56V132.94H474.55V126.98H472.53V128.74H470.51V129.82H468.49V129.46H466.48V128.12H464.46V127.60H462.44V128.94H460.43V131.20H458.41V139.08H456.39V147.82H454.37V139.88H452.36V129.15H450.34V126.66H448.32V126.61H446.30V127.34H444.29V126.01H442.27V122.02H440.25V122.17H438.24V121.32H436.22V124.67H434.20V130.60H432.18V134.61H430.17V130.94H428.15V125.11H426.13V120.65H424.11V121.16H422.10V122.87H420.08V125.57H418.06V124.73H416.04V123.88H414.03V125.24H412.01V132.99H409.99V138.44H407.98V135.72H405.96V127.09H403.94V126.53H401.92V126.47H399.91V130.14H397.89V133.46H395.87V135.04H393.85V135.56H391.84V136.33H389.82V140.10H387.80V145.17H385.79V156.47H383.77V159.67H381.75V156.51H379.73V145.55H377.72V140.63H375.70V143.79H373.68V147.36H371.66V149.93H369.65V148.47H367.63V147.35H365.61V146.88H363.60V148.62H361.58V152.46H359.56V158.54H357.54V155.77H355.53V151.79H353.51V148.44H351.49V148.94H349.47V149.25H347.46V149.48H345.44V149.06H343.42V148.77H341.40V149.65H339.39V158.29H337.37V169.34H335.35V171.15H333.34V170.33H331.32V166.83H329.30V162.53H327.28V160.89H325.27V159.65H323.25V158.05H321.23V156.05H319.21V155.52H317.20V157.47H315.18V161.90H313.16V169.04H311.15V169.08H309.13V165.50H307.11V160.49H305.09V154.73H303.08V154.68H301.06V154.77H299.04V154.42H297.02V153.07H295.01V152.06H292.99V156.25H290.97V164.03H288.96V167.07H286.94V166.48H284.92V160.83H282.90V156.82H280.89V152.09H278.87V153.25H276.85V154.99H274.83V156.61H272.82V156.69H270.80V156.00H268.78V156.20H266.76V157.57H264.75V162.69H262.73V159.72H260.71V156.25H258.70V152.74H256.68V151.56H254.66V151.69H252.64V151.79H250.63V153.08H248.61V156.08H246.59V156.58H244.57V158.25H242.56V159.13H240.54V160.95H238.52V160.93H236.51V158.19H234.49V153.35H232.47V150.93H230.45V149.45H228.44V149.78H226.42V150.28H224.40V150.72H222.38V151.44H220.37V152.48H218.35V154.56H216.33V156.23H214.31V157.30H212.30V155.92H210.28V153.91H208.26V151.98H206.25V153.05H204.23V154.80H202.21V156.66H200.19V157.59H198.18V159.11H196.16V160.63H194.14V161.66H192.12V162.66H190.11V163.40H188.09V162.73H186.07V160.79H184.06V158.48H182.04V158.59H180.02V159.08H178.00V159.51H175.99V159.87H173.97V159.62H171.95V160.93H169.93V161.28H167.92V161.23H165.90V161.92H163.88V162.06H161.87V161.89H159.85V160.61H157.83V158.50H155.81V159.76H153.80V160.99H151.78V160.95H149.76V160.79H147.74V162.26H145.73V162.56H143.71V162.65H141.69V163.44H139.67V163.75H137.66V163.20H135.64V161.16H133.62V160.87H131.61V160.73H129.59V161.16H127.57V161.59H125.55V162.45H123.54V163.49H121.52V164.77H119.50V165.87H117.48V166.77H115.47V166.30H113.45V165.14H111.43V163.43H109.42V162.83H107.40V162.23H105.38V162.08H103.36V161.95H101.35V162.18H99.33V163.33H97.31V164.31H95.29V164.93H93.28V165.74H91.26V166.78H89.24V166.59H87.22V164.96H85.21V164.12H83.19V163.84H81.17V164.15H79.16V164.85H77.14V165.82H75.12V166.76H73.10V166.57H71.09V166.29H69.07V166.85H67.05V167.92H65.03V168.05H63.02V167.80H61.00Z"/><path fill="#5F9FD8" d="M61.00,166.67H63.02V167.02H65.03V166.94H67.05V165.81H69.07V165.25H71.09V165.61H73.10V165.87H75.12V164.90H77.14V163.89H79.16V163.14H81.17V162.78H83.19V163.04H85.21V163.92H87.22V165.68H89.24V165.89H91.26V164.78H93.28V163.92H95.29V163.27H97.31V162.24H99.33V161.02H101.35V160.80H103.36V160.95H105.38V161.12H107.40V161.68H109.42V162.23H111.43V164.02H113.45V165.21H115.47V165.66H117.48V164.70H119.50V163.52H121.52V162.14H123.54V161.04H125.55V160.14H127.57V159.72H129.59V159.30H131.61V159.39H133.62V159.62H135.64V161.78H137.66V162.30H139.67V161.87H141.69V160.89H143.71V160.68H145.73V160.22H147.74V158.40H149.76V158.46H151.78V158.42H153.80V157.36H155.81V156.27H157.83V159.25H159.85V160.61H161.87V160.77H163.88V160.61H165.90V159.89H167.92V159.98H169.93V159.64H171.95V158.25H173.97V158.57H175.99V158.14H178.00V157.63H180.02V157.05H182.04V156.88H184.06V159.33H186.07V161.38H188.09V162.10H190.11V161.38H192.12V160.36H194.14V159.33H196.16V157.69H198.18V156.05H200.19V155.04H202.21V153.06H204.23V151.20H206.25V150.19H208.26V152.62H210.28V154.62H212.30V156.02H214.31V154.96H216.33V153.27H218.35V151.19H220.37V150.15H222.38V149.44H224.40V148.89H226.42V148.16H228.44V147.60H230.45V149.29H232.47V152.05H234.49V157.14H236.51V160.02H238.52V160.07H240.54V158.19H242.56V157.31H244.57V155.61H246.59V155.14H248.61V152.18H250.63V150.98H252.64V150.70H254.66V150.49H256.68V151.50H258.70V155.01H260.71V157.88H262.73V160.94H264.75V156.31H266.76V154.93H268.78V154.73H270.80V155.26H272.82V155.07H274.83V153.46H276.85V151.70H278.87V150.53H280.89V155.34H282.90V159.38H284.92V165.24H286.94V166.06H288.96V163.01H290.97V154.82H292.99V150.52H295.01V151.60H297.02V152.96H299.04V153.24H301.06V153.03H303.08V152.96H305.09V158.99H307.11V164.01H309.13V167.68H311.15V167.81H313.16V160.49H315.18V155.97H317.20V154.04H319.21V154.54H321.23V156.71H323.25V158.46H325.27V159.54H327.28V160.89H329.30V165.09H331.32V168.98H333.34V169.91H335.35V167.90H337.37V156.98H339.39V148.46H341.40V147.61H343.42V147.92H345.44V148.34H347.46V147.82H349.47V147.51H351.49V147.01H353.51V150.12H355.53V154.04H357.54V156.90H359.56V150.76H361.58V147.09H363.60V145.39H365.61V145.73H367.63V146.79H369.65V148.28H371.66V145.80H373.68V142.38H375.70V139.21H377.72V143.63H379.73V155.05H381.75V158.15H383.77V155.08H385.79V144.06H387.80V138.99H389.82V135.20H391.84V134.44H393.85V133.93H395.87V132.37H397.89V128.74H399.91V124.33H401.92V124.69H403.94V125.54H405.96V134.54H407.98V136.55H409.99V131.05H412.01V123.50H414.03V121.93H416.04V122.61H418.06V123.40H420.08V120.53H422.10V118.74H424.11V118.23H426.13V122.70H428.15V128.56H430.17V132.23H432.18V128.22H434.20V122.27H436.22V118.70H438.24V119.27H440.25V119.40H442.27V124.20H444.29V125.54H446.30V124.58H448.32V124.73H450.34V127.61H452.36V138.42H454.37V146.38H456.39V137.51H458.41V129.42H460.43V126.91H462.44V125.57H464.46V125.99H466.48V127.20H468.49V127.25H470.51V126.03H472.53V124.40H474.55V130.78H476.56V137.51H478.58V153.50H480.60V141.08H482.62V135.26H484.63V132.81H486.65V133.20H488.67V135.22H490.69V135.80H492.70V133.59H494.72V128.28H496.74V124.32H498.75V131.28H500.77V138.34H502.79V143.23H504.81V140.31H506.82V132.68H508.84V128.25H510.86V124.41H512.88V124.96H514.89V126.19H516.91V126.80H518.93V123.91H520.94V121.83H522.96V129.30H524.98V144.47H527.00V152.66H529.01V149.23H531.03V139.46H533.05V127.88H535.07V116.34H537.08V107.40H539.10V105.94H541.12V103.86H543.13V98.95H545.15V96.53H547.17V104.56H549.19V117.36H551.20V127.91H553.22V129.50H555.24V128.62H557.26V117.54H559.27V114.07H561.29V115.17H563.31V115.71H565.33V115.72H567.34V113.70H569.36V113.05H571.38V113.73H573.39V127.45H575.41V137.13H577.43V138.34H579.45V132.43H581.46V112.66H583.48V107.35H585.50V106.39H587.52V110.39H589.53V112.31H591.55V113.81H593.57V115.37H595.58V117.28H597.60V128.14H599.62V137.70H601.64V135.64H603.65V117.76H605.67V112.43H607.69V110.26H609.71V109.01H611.72V109.69H613.74V111.12H615.76V109.97H617.78V107.17H619.79V104.48H621.81V109.34H623.83V113.00H625.84V110.76H627.86V103.86H629.88V98.84H631.90V96.81H633.91V97.52H635.93V99.62H637.95V100.30H639.97V97.86H641.98V95.56H644.00V96.84H641.98V99.23H639.97V101.81H637.95V101.50H635.93V99.33H633.91V98.50H631.90V100.38H629.88V105.14H627.86V112.28H625.84V114.55H623.83V110.91H621.81V106.07H619.79V108.77H617.78V111.65H615.76V112.83H613.74V111.28H611.72V110.60H609.71V111.76H607.69V113.81H605.67V118.93H603.65V136.38H601.64V138.81H599.62V130.98H597.60V119.03H595.58V116.78H593.57V115.13H591.55V113.54H589.53V111.53H587.52V107.48H585.50V108.32H583.48V113.88H581.46V133.87H579.45V139.65H577.43V137.99H575.41V128.46H573.39V115.31H571.38V114.48H569.36V115.16H567.34V117.15H565.33V117.15H563.31V116.60H561.29V115.48H559.27V118.84H557.26V130.38H555.24V131.61H553.22V129.67H551.20V119.00H549.19V106.20H547.17V98.25H545.15V100.53H543.13V105.25H541.12V107.21H539.10V108.57H537.08V116.99H535.07V128.68H533.05V140.40H531.03V150.14H529.01V153.40H527.00V145.38H524.98V130.38H522.96V122.93H520.94V125.04H518.93V127.88H516.91V127.31H514.89V126.20H512.88V125.78H510.86V129.50H508.84V133.84H506.82V141.34H504.81V144.29H502.79V139.62H500.77V132.78H498.75V126.03H496.74V130.05H494.72V135.37H492.70V137.45H490.69V136.68H488.67V134.66H486.65V134.37H484.63V136.88H482.62V142.56H480.60V153.96H478.58V138.65H476.56V131.92H474.55V125.76H472.53V127.46H470.51V128.61H468.49V128.40H466.48V127.12H464.46V126.64H462.44V127.99H460.43V130.36H458.41V138.34H456.39V147.14H454.37V139.19H452.36V128.43H450.34V125.75H448.32V125.66H446.30V126.51H444.29V125.18H442.27V120.83H440.25V120.86H438.24V120.15H436.22V123.60H434.20V129.55H432.18V133.57H430.17V129.91H428.15V124.08H426.13V119.62H424.11V120.14H422.10V121.89H420.08V124.67H418.06V123.86H416.04V123.08H414.03V124.54H412.01V132.21H409.99V137.69H407.98V135.26H405.96V126.49H403.94V125.81H401.92V125.65H399.91V129.61H397.89V133.05H395.87V134.62H393.85V135.15H391.84V135.92H389.82V139.70H387.80V144.77H385.79V155.98H383.77V159.13H381.75V156.00H379.73V144.88H377.72V140.14H375.70V143.31H373.68V146.83H371.66V149.38H369.65V147.92H367.63V146.82H365.61V146.39H363.60V148.13H361.58V151.92H359.56V158.02H357.54V155.23H355.53V151.27H353.51V148.00H351.49V148.51H349.47V148.82H347.46V149.14H345.44V148.73H343.42V148.43H341.40V149.31H339.39V157.92H337.37V168.94H335.35V170.81H333.34V169.96H331.32V166.36H329.30V162.09H327.28V160.53H325.27V159.34H323.25V157.70H321.23V155.67H319.21V155.14H317.20V157.09H315.18V161.55H313.16V168.74H311.15V168.75H309.13V165.14H307.11V160.14H305.09V154.32H303.08V154.30H301.06V154.42H299.04V154.10H297.02V152.75H295.01V151.73H292.99V155.94H290.97V163.81H288.96V166.86H286.94V166.22H284.92V160.53H282.90V156.53H280.89V151.78H278.87V152.95H276.85V154.69H274.83V156.32H272.82V156.42H270.80V155.77H268.78V155.97H266.76V157.34H264.75V162.38H262.73V159.40H260.71V156.04H258.70V152.53H256.68V151.38H254.66V151.53H252.64V151.66H250.63V152.94H248.61V155.93H246.59V156.44H244.57V158.11H242.56V159.00H240.54V160.82H238.52V160.80H236.51V158.04H234.49V153.17H232.47V150.71H230.45V149.21H228.44V149.57H226.42V150.10H224.40V150.56H222.38V151.28H220.37V152.33H218.35V154.41H216.33V156.09H214.31V157.15H212.30V155.78H210.28V153.77H208.26V151.80H206.25V152.86H204.23V154.62H202.21V156.50H200.19V157.45H198.18V158.98H196.16V160.50H194.14V161.54H192.12V162.54H190.11V163.28H188.09V162.61H186.07V160.65H184.06V158.33H182.04V158.44H180.02V158.94H178.00V159.38H175.99V159.74H173.97V159.49H171.95V160.81H169.93V161.16H167.92V161.11H165.90V161.79H163.88V161.94H161.87V161.77H159.85V160.48H157.83V158.29H155.81V159.53H153.80V160.75H151.78V160.72H149.76V160.56H147.74V162.06H145.73V162.38H143.71V162.48H141.69V163.29H139.67V163.61H137.66V163.06H135.64V161.02H133.62V160.73H131.61V160.59H129.59V161.02H127.57V161.45H125.55V162.31H123.54V163.36H121.52V164.65H119.50V165.76H117.48V166.66H115.47V166.19H113.45V165.03H111.43V163.31H109.42V162.72H107.40V162.12H105.38V161.97H103.36V161.84H101.35V162.07H99.33V163.23H97.31V164.21H95.29V164.83H93.28V165.65H91.26V166.70H89.24V166.50H87.22V164.86H85.21V164.02H83.19V163.74H81.17V164.05H79.16V164.76H77.14V165.74H75.12V166.67H73.10V166.48H71.09V166.19H69.07V166.75H67.05V167.82H65.03V167.95H63.02V167.69H61.00Z"/><path fill="#77BB50" d="M61.00,166.08H63.02V166.48H65.03V166.42H67.05V165.26H69.07V164.70H71.09V165.11H73.10V165.41H75.12V164.42H77.14V163.39H79.16V162.62H81.17V162.22H83.19V162.47H85.21V163.37H87.22V165.20H89.24V165.42H91.26V164.27H93.28V163.39H95.29V162.72H97.31V161.67H99.33V160.42H101.35V160.20H103.36V160.36H105.38V160.55H107.40V161.08H109.42V161.61H111.43V163.44H113.45V164.65H115.47V165.08H117.48V164.08H119.50V162.86H121.52V161.44H123.54V160.30H125.55V159.38H127.57V158.97H129.59V158.55H131.61V158.62H133.62V158.81H135.64V161.03H137.66V161.55H139.67V161.05H141.69V159.96H143.71V159.69H145.73V159.15H147.74V157.15H149.76V157.15H151.78V157.07H153.80V156.10H155.81V155.10H157.83V158.54H159.85V159.94H161.87V160.10H163.88V159.92H165.90V159.19H167.92V159.29H169.93V158.96H171.95V157.54H173.97V157.89H175.99V157.42H178.00V156.87H180.02V156.24H182.04V156.04H184.06V158.56H186.07V160.67H188.09V161.43H190.11V160.70H192.12V159.68H194.14V158.65H196.16V156.95H198.18V155.24H200.19V154.20H202.21V152.15H204.23V150.23H206.25V149.25H208.26V151.95H210.28V153.95H212.30V155.35H214.31V154.30H216.33V152.61H218.35V150.53H220.37V149.49H222.38V148.78H224.40V148.18H226.42V147.33H228.44V146.65H230.45V148.45H232.47V151.38H234.49V156.60H236.51V159.55H238.52V159.62H240.54V157.71H242.56V156.83H244.57V155.12H246.59V154.67H248.61V151.72H250.63V150.57H252.64V150.20H254.66V149.95H256.68V150.88H258.70V154.40H260.71V156.96H262.73V160.07H264.75V155.68H266.76V154.29H268.78V154.10H270.80V154.55H272.82V154.32H274.83V152.70H276.85V150.93H278.87V149.77H280.89V154.61H282.90V158.67H284.92V164.62H286.94V165.57H288.96V162.51H290.97V154.11H292.99V149.77H295.01V150.89H297.02V152.25H299.04V152.49H301.06V152.22H303.08V152.10H305.09V158.27H307.11V163.29H309.13V167.01H311.15V167.22H313.16V159.81H315.18V155.26H317.20V153.33H319.21V153.82H321.23V156.07H323.25V157.90H325.27V158.91H327.28V160.12H329.30V164.27H331.32V168.35H333.34V169.33H335.35V167.22H337.37V156.36H339.39V147.91H341.40V147.07H343.42V147.38H345.44V147.81H347.46V147.15H349.47V146.85H351.49V146.35H353.51V149.35H355.53V153.25H357.54V156.14H359.56V149.99H361.58V146.39H363.60V144.71H365.61V145.00H367.63V146.02H369.65V147.53H371.66V145.09H373.68V141.75H375.70V138.57H377.72V142.77H379.73V154.39H381.75V157.47H383.77V154.46H385.79V143.57H387.80V138.50H389.82V134.70H391.84V133.94H393.85V133.45H395.87V131.89H397.89V128.12H399.91V123.39H401.92V123.88H403.94V124.87H405.96V134.03H407.98V135.73H409.99V130.21H412.01V122.76H414.03V121.09H416.04V121.70H418.06V122.47H420.08V119.54H422.10V117.71H424.11V117.20H426.13V121.68H428.15V127.55H430.17V131.22H432.18V127.22H434.20V121.26H436.22V117.60H438.24V118.06H440.25V118.31H442.27V123.45H444.29V124.79H446.30V123.75H448.32V123.93H450.34V126.97H452.36V137.82H454.37V145.79H456.39V136.86H458.41V128.68H460.43V126.07H462.44V124.73H464.46V125.12H466.48V126.28H468.49V126.19H470.51V124.91H472.53V123.34H474.55V129.89H476.56V136.62H478.58V153.14H480.60V139.93H482.62V134.01H484.63V131.59H486.65V132.07H488.67V134.09H490.69V134.52H492.70V132.21H494.72V126.90H496.74V122.99H498.75V130.11H500.77V137.35H502.79V142.42H504.81V139.52H506.82V131.79H508.84V127.29H510.86V123.35H512.88V124.00H514.89V125.32H516.91V125.96H518.93V123.04H520.94V120.98H522.96V128.46H524.98V143.77H527.00V152.08H529.01V148.52H531.03V138.73H533.05V127.27H535.07V115.83H537.08V106.49H539.10V104.96H541.12V102.78H543.13V97.72H545.15V95.19H547.17V103.29H549.19V116.08H551.20V126.55H553.22V127.86H555.24V127.25H557.26V116.54H559.27V112.97H561.29V114.06H563.31V114.60H565.33V114.60H567.34V112.57H569.36V111.93H571.38V112.50H573.39V126.66H575.41V136.46H577.43V137.33H579.45V131.30H581.46V111.71H583.48V106.60H585.50V105.55H587.52V109.51H589.53V111.36H591.55V112.79H593.57V114.28H595.58V115.92H597.60V125.93H599.62V136.85H601.64V135.07H603.65V116.84H605.67V111.36H607.69V109.10H609.71V107.77H611.72V108.45H613.74V109.80H615.76V108.66H617.78V105.94H619.79V103.24H621.81V108.11H623.83V111.79H625.84V109.58H627.86V102.86H629.88V97.65H631.90V95.49H633.91V96.12H635.93V98.16H637.95V99.13H639.97V96.79H641.98V94.55H644.00V95.56H641.98V97.86H639.97V100.30H637.95V99.62H635.93V97.52H633.91V96.81H631.90V98.84H629.88V103.86H627.86V110.76H625.84V113.00H623.83V109.34H621.81V104.48H619.79V107.17H617.78V109.97H615.76V111.12H613.74V109.69H611.72V109.01H609.71V110.26H607.69V112.43H605.67V117.76H603.65V135.64H601.64V137.70H599.62V128.14H597.60V117.28H595.58V115.37H593.57V113.81H591.55V112.31H589.53V110.39H587.52V106.39H585.50V107.35H583.48V112.66H581.46V132.43H579.45V138.34H577.43V137.13H575.41V127.45H573.39V113.73H571.38V113.05H569.36V113.70H567.34V115.72H565.33V115.71H563.31V115.17H561.29V114.07H559.27V117.54H557.26V128.62H555.24V129.50H553.22V127.91H551.20V117.36H549.19V104.56H547.17V96.53H545.15V98.95H543.13V103.86H541.12V105.94H539.10V107.40H537.08V116.34H535.07V127.88H533.05V139.46H531.03V149.23H529.01V152.66H527.00V144.47H524.98V129.30H522.96V121.83H520.94V123.91H518.93V126.80H516.91V126.19H514.89V124.96H512.88V124.41H510.86V128.25H508.84V132.68H506.82V140.31H504.81V143.23H502.79V138.34H500.77V131.28H498.75V124.32H496.74V128.28H494.72V133.59H492.70V135.80H490.69V135.22H488.67V133.20H486.65V132.81H484.63V135.26H482.62V141.08H480.60V153.50H478.58V137.51H476.56V130.78H474.55V124.40H472.53V126.03H470.51V127.25H468.49V127.20H466.48V125.99H464.46V125.57H462.44V126.91H460.43V129.42H458.41V137.51H456.39V146.38H454.37V138.42H452.36V127.61H450.34V124.73H448.32V124.58H446.30V125.54H444.29V124.20H442.27V119.40H440.25V119.27H438.24V118.70H436.22V122.27H434.20V128.22H432.18V132.23H430.17V128.56H428.15V122.70H426.13V118.23H424.11V118.74H422.10V120.53H420.08V123.40H418.06V122.61H416.04V121.93H414.03V123.50H412.01V131.05H409.99V136.55H407.98V134.54H405.96V125.54H403.94V124.69H401.92V124.33H399.91V128.74H397.89V132.37H395.87V133.93H393.85V134.44H391.84V135.20H389.82V138.99H387.80V144.06H385.79V155.08H383.77V158.15H381.75V155.05H379.73V143.63H377.72V139.21H375.70V142.38H373.68V145.80H371.66V148.28H369.65V146.79H367.63V145.73H365.61V145.39H363.60V147.09H361.58V150.76H359.56V156.90H357.54V154.04H355.53V150.12H353.51V147.01H351.49V147.51H349.47V147.82H347.46V148.34H345.44V147.92H343.42V147.61H341.40V148.46H339.39V156.98H337.37V167.90H335.35V169.91H333.34V168.98H331.32V165.09H329.30V160.89H327.28V159.54H325.27V158.46H323.25V156.71H321.23V154.54H319.21V154.04H317.20V155.97H315.18V160.49H313.16V167.81H311.15V167.68H309.13V164.01H307.11V158.99H305.09V152.96H303.08V153.03H301.06V153.24H299.04V152.96H297.02V151.60H295.01V150.52H292.99V154.82H290.97V163.01H288.96V166.06H286.94V165.24H284.92V159.38H282.90V155.34H280.89V150.53H278.87V151.70H276.85V153.46H274.83V155.07H272.82V155.26H270.80V154.73H268.78V154.93H266.76V156.31H264.75V160.94H262.73V157.88H260.71V155.01H258.70V151.50H256.68V150.49H254.66V150.70H252.64V150.98H250.63V152.18H248.61V155.14H246.59V155.61H244.57V157.31H242.56V158.19H240.54V160.07H238.52V160.02H236.51V157.14H234.49V152.05H232.47V149.29H230.45V147.60H228.44V148.16H226.42V148.89H224.40V149.44H222.38V150.15H220.37V151.19H218.35V153.27H216.33V154.96H214.31V156.02H212.30V154.62H210.28V152.62H208.26V150.19H206.25V151.20H204.23V153.06H202.21V155.04H200.19V156.05H198.18V157.69H196.16V159.33H194.14V160.36H192.12V161.38H190.11V162.10H188.09V161.38H186.07V159.33H184.06V156.88H182.04V157.05H180.02V157.63H178.00V158.14H175.99V158.57H173.97V158.25H171.95V159.64H169.93V159.98H167.92V159.89H165.90V160.61H163.88V160.77H161.87V160.61H159.85V159.25H157.83V156.27H155.81V157.36H153.80V158.42H151.78V158.46H149.76V158.40H147.74V160.22H145.73V160.68H143.71V160.89H141.69V161.87H139.67V162.30H137.66V161.78H135.64V159.62H133.62V159.39H131.61V159.30H129.59V159.72H127.57V160.14H125.55V161.04H123.54V162.14H121.52V163.52H119.50V164.70H117.48V165.66H115.47V165.21H113.45V164.02H111.43V162.23H109.42V161.68H107.40V161.12H105.38V160.95H103.36V160.80H101.35V161.02H99.33V162.24H97.31V163.27H95.29V163.92H93.28V164.78H91.26V165.89H89.24V165.68H87.22V163.92H85.21V163.04H83.19V162.78H81.17V163.14H79.16V163.89H77.14V164.90H75.12V165.87H73.10V165.61H71.09V165.25H69.07V165.81H67.05V166.94H65.03V167.02H63.02V166.67H61.00Z"/><path fill="#335AA1" d="M61.00,165.71H63.02V166.14H65.03V166.10H67.05V164.91H69.07V164.35H71.09V164.79H73.10V165.12H75.12V164.11H77.14V163.07H79.16V162.29H81.17V161.86H83.19V162.11H85.21V163.03H87.22V164.89H89.24V165.13H91.26V163.95H93.28V163.05H95.29V162.38H97.31V161.31H99.33V160.04H101.35V159.81H103.36V159.99H105.38V160.18H107.40V160.70H109.42V161.21H111.43V163.06H113.45V164.29H115.47V164.71H117.48V163.69H119.50V162.44H121.52V160.99H123.54V159.83H125.55V158.90H127.57V158.49H129.59V158.07H131.61V158.13H133.62V158.29H135.64V160.56H137.66V161.07H139.67V160.53H141.69V159.37H143.71V159.06H145.73V158.47H147.74V156.35H149.76V156.32H151.78V156.21H153.80V155.29H155.81V154.36H157.83V158.08H159.85V159.51H161.87V159.67H163.88V159.48H165.90V158.74H167.92V158.86H169.93V158.52H171.95V157.08H173.97V157.45H175.99V156.96H178.00V156.38H180.02V155.73H182.04V155.51H184.06V158.07H186.07V160.21H188.09V160.99H190.11V160.27H192.12V159.25H194.14V158.22H196.16V156.47H198.18V154.73H200.19V153.66H202.21V151.57H204.23V149.61H206.25V148.66H208.26V151.52H210.28V153.52H212.30V154.93H214.31V153.88H216.33V152.19H218.35V150.11H220.37V149.07H222.38V148.36H224.40V147.73H226.42V146.81H228.44V146.05H230.45V147.91H232.47V150.96H234.49V156.26H236.51V159.25H238.52V159.34H240.54V157.41H242.56V156.53H244.57V154.81H246.59V154.37H248.61V151.44H250.63V150.31H252.64V149.89H254.66V149.61H256.68V150.49H258.70V154.01H260.71V156.39H262.73V159.53H264.75V155.29H266.76V153.90H268.78V153.71H270.80V154.11H272.82V153.84H274.83V152.23H276.85V150.46H278.87V149.29H280.89V154.16H282.90V158.22H284.92V164.25H286.94V165.26H288.96V162.20H290.97V153.68H292.99V149.30H295.01V150.45H297.02V151.81H299.04V152.04H301.06V151.73H303.08V151.57H305.09V157.82H307.11V162.85H309.13V166.59H311.15V166.86H313.16V159.39H315.18V154.82H317.20V152.90H319.21V153.38H321.23V155.68H323.25V157.56H325.27V158.52H327.28V159.65H329.30V163.77H331.32V167.96H333.34V168.98H335.35V166.81H337.37V155.99H339.39V147.57H341.40V146.74H343.42V147.06H345.44V147.49H347.46V146.75H349.47V146.45H351.49V145.95H353.51V148.89H355.53V152.77H357.54V155.69H359.56V149.52H361.58V145.96H363.60V144.30H365.61V144.56H367.63V145.57H369.65V147.09H371.66V144.67H373.68V141.37H375.70V138.18H377.72V142.26H379.73V154.00H381.75V157.06H383.77V154.10H385.79V143.27H387.80V138.20H389.82V134.40H391.84V133.65H393.85V133.16H395.87V131.61H397.89V127.76H399.91V122.84H401.92V123.41H403.94V124.47H405.96V133.73H407.98V135.25H409.99V129.72H412.01V122.32H414.03V120.60H416.04V121.17H418.06V121.93H420.08V118.96H422.10V117.11H424.11V116.61H426.13V121.09H428.15V126.97H430.17V130.64H432.18V126.64H434.20V120.68H436.22V116.96H438.24V117.36H440.25V117.68H442.27V123.02H444.29V124.36H446.30V123.27H448.32V123.48H450.34V126.61H452.36V137.48H454.37V145.45H456.39V136.49H458.41V128.26H460.43V125.59H462.44V124.25H464.46V124.62H466.48V125.75H468.49V125.59H470.51V124.27H472.53V122.73H474.55V129.38H476.56V136.11H478.58V152.93H480.60V139.27H482.62V133.29H484.63V130.90H486.65V131.42H488.67V133.44H490.69V133.79H492.70V131.41H494.72V126.12H496.74V122.23H498.75V129.44H500.77V136.78H502.79V141.95H504.81V139.06H506.82V131.28H508.84V126.73H510.86V122.74H512.88V123.44H514.89V124.82H516.91V125.48H518.93V122.54H520.94V120.50H522.96V127.98H524.98V143.37H527.00V151.75H529.01V148.12H531.03V138.31H533.05V126.91H535.07V115.54H537.08V105.97H539.10V104.40H541.12V102.17H543.13V97.02H545.15V94.42H547.17V102.57H549.19V115.35H551.20V125.76H553.22V126.93H555.24V126.46H557.26V115.96H559.27V112.34H561.29V113.43H563.31V113.96H565.33V113.97H567.34V111.92H569.36V111.29H571.38V111.80H573.39V126.21H575.41V136.07H577.43V136.75H579.45V130.66H581.46V111.17H583.48V106.17H585.50V105.07H587.52V109.00H589.53V110.82H591.55V112.20H593.57V113.65H595.58V115.15H597.60V124.67H599.62V136.36H601.64V134.74H603.65V116.32H605.67V110.75H607.69V108.43H609.71V107.06H611.72V107.74H613.74V109.04H615.76V107.92H617.78V105.23H619.79V102.53H621.81V107.41H623.83V111.09H625.84V108.90H627.86V102.29H629.88V96.97H631.90V94.74H633.91V95.32H635.93V97.33H637.95V98.46H639.97V96.18H641.98V93.98H644.00V94.55H641.98V96.79H639.97V99.13H637.95V98.16H635.93V96.12H633.91V95.49H631.90V97.65H629.88V102.86H627.86V109.58H625.84V111.79H623.83V108.11H621.81V103.24H619.79V105.94H617.78V108.66H615.76V109.80H613.74V108.45H611.72V107.77H609.71V109.10H607.69V111.36H605.67V116.84H603.65V135.07H601.64V136.85H599.62V125.93H597.60V115.92H595.58V114.28H593.57V112.79H591.55V111.36H589.53V109.51H587.52V105.55H585.50V106.60H583.48V111.71H581.46V131.30H579.45V137.33H577.43V136.46H575.41V126.66H573.39V112.50H571.38V111.93H569.36V112.57H567.34V114.60H565.33V114.60H563.31V114.06H561.29V112.97H559.27V116.54H557.26V127.25H555.24V127.86H553.22V126.55H551.20V116.08H549.19V103.29H547.17V95.19H545.15V97.72H543.13V102.78H541.12V104.96H539.10V106.49H537.08V115.83H535.07V127.27H533.05V138.73H531.03V148.52H529.01V152.08H527.00V143.77H524.98V128.46H522.96V120.98H520.94V123.04H518.93V125.96H516.91V125.32H514.89V124.00H512.88V123.35H510.86V127.29H508.84V131.79H506.82V139.52H504.81V142.42H502.79V137.35H500.77V130.11H498.75V122.99H496.74V126.90H494.72V132.21H492.70V134.52H490.69V134.09H488.67V132.07H486.65V131.59H484.63V134.01H482.62V139.93H480.60V153.14H478.58V136.62H476.56V129.89H474.55V123.34H472.53V124.91H470.51V126.19H468.49V126.28H466.48V125.12H464.46V124.73H462.44V126.07H460.43V128.68H458.41V136.86H456.39V145.79H454.37V137.82H452.36V126.97H450.34V123.93H448.32V123.75H446.30V124.79H444.29V123.45H442.27V118.31H440.25V118.06H438.24V117.60H436.22V121.26H434.20V127.22H432.18V131.22H430.17V127.55H428.15V121.68H426.13V117.20H424.11V117.71H422.10V119.54H420.08V122.47H418.06V121.70H416.04V121.09H414.03V122.76H412.01V130.21H409.99V135.73H407.98V134.03H405.96V124.87H403.94V123.88H401.92V123.39H399.91V128.12H397.89V131.89H395.87V133.45H393.85V133.94H391.84V134.70H389.82V138.50H387.80V143.57H385.79V154.46H383.77V157.47H381.75V154.39H379.73V142.77H377.72V138.57H375.70V141.75H373.68V145.09H371.66V147.53H369.65V146.02H367.63V145.00H365.61V144.71H363.60V146.39H361.58V149.99H359.56V156.14H357.54V153.25H355.53V149.35H353.51V146.35H351.49V146.85H349.47V147.15H347.46V147.81H345.44V147.38H343.42V147.07H341.40V147.91H339.39V156.36H337.37V167.22H335.35V169.33H333.34V168.35H331.32V164.27H329.30V160.12H327.28V158.91H325.27V157.90H323.25V156.07H321.23V153.82H319.21V153.33H317.20V155.26H315.18V159.81H313.16V167.22H311.15V167.01H309.13V163.29H307.11V158.27H305.09V152.10H303.08V152.22H301.06V152.49H299.04V152.25H297.02V150.89H295.01V149.77H292.99V154.11H290.97V162.51H288.96V165.57H286.94V164.62H284.92V158.67H282.90V154.61H280.89V149.77H278.87V150.93H276.85V152.70H274.83V154.32H272.82V154.55H270.80V154.10H268.78V154.29H266.76V155.68H264.75V160.07H262.73V156.96H260.71V154.40H258.70V150.88H256.68V149.95H254.66V150.20H252.64V150.57H250.63V151.72H248.61V154.67H246.59V155.12H244.57V156.83H242.56V157.71H240.54V159.62H238.52V159.55H236.51V156.60H234.49V151.38H232.47V148.45H230.45V146.65H228.44V147.33H226.42V148.18H224.40V148.78H222.38V149.49H220.37V150.53H218.35V152.61H216.33V154.30H214.31V155.35H212.30V153.95H210.28V151.95H208.26V149.25H206.25V150.23H204.23V152.15H202.21V154.20H200.19V155.24H198.18V156.95H196.16V158.65H194.14V159.68H192.12V160.70H190.11V161.43H188.09V160.67H186.07V158.56H184.06V156.04H182.04V156.24H180.02V156.87H178.00V157.42H175.99V157.89H173.97V157.54H171.95V158.96H169.93V159.29H167.92V159.19H165.90V159.92H163.88V160.10H161.87V159.94H159.85V158.54H157.83V155.10H155.81V156.10H153.80V157.07H151.78V157.15H149.76V157.15H147.74V159.15H145.73V159.69H143.71V159.96H141.69V161.05H139.67V161.55H137.66V161.03H135.64V158.81H133.62V158.62H131.61V158.55H129.59V158.97H127.57V159.38H125.55V160.30H123.54V161.44H121.52V162.86H119.50V164.08H117.48V165.08H115.47V164.65H113.45V163.44H111.43V161.61H109.42V161.08H107.40V160.55H105.38V160.36H103.36V160.20H101.35V160.42H99.33V161.67H97.31V162.72H95.29V163.39H93.28V164.27H91.26V165.42H89.24V165.20H87.22V163.37H85.21V162.47H83.19V162.22H81.17V162.62H79.16V163.39H77.14V164.42H75.12V165.41H73.10V165.11H71.09V164.70H69.07V165.26H67.05V166.42H65.03V166.48H63.02V166.08H61.00Z"/><path fill="#F8CBAD" d="M61.00,162.74H63.02V163.46H65.03V163.57H67.05V162.24H69.07V161.71H71.09V162.40H73.10V162.93H75.12V161.87H77.14V160.78H79.16V159.93H81.17V159.39H83.19V159.65H85.21V160.70H87.22V162.87H89.24V163.16H91.26V161.82H93.28V160.81H95.29V160.07H97.31V158.87H99.33V157.45H101.35V157.27H103.36V157.56H105.38V157.86H107.40V158.28H109.42V158.71H111.43V160.71H113.45V162.01H115.47V162.39H117.48V161.26H119.50V159.86H121.52V158.24H123.54V156.98H125.55V156.01H127.57V155.65H129.59V155.29H131.61V155.32H133.62V155.45H135.64V158.02H137.66V158.56H139.67V157.87H141.69V156.45H143.71V156.02H145.73V155.25H147.74V152.67H149.76V152.54H151.78V152.33H153.80V151.22H155.81V150.08H157.83V151.09H159.85V153.76H161.87V155.06H163.88V155.36H165.90V153.78H167.92V153.24H169.93V152.29H171.95V150.54H173.97V151.27H175.99V150.80H178.00V150.23H180.02V149.56H182.04V149.34H184.06V151.96H186.07V153.47H188.09V153.69H190.11V152.89H192.12V151.68H194.14V150.50H196.16V148.87H198.18V147.31H200.19V146.70H202.21V144.87H204.23V143.22H206.25V142.61H208.26V145.98H210.28V147.09H212.30V148.14H214.31V147.92H216.33V146.34H218.35V142.73H220.37V141.55H222.38V141.17H224.40V140.63H226.42V139.41H228.44V138.38H230.45V139.45H232.47V141.78H234.49V147.12H236.51V149.82H238.52V149.08H240.54V145.08H242.56V144.44H244.57V142.56H246.59V142.80H248.61V141.43H250.63V142.09H252.64V142.53H254.66V143.16H256.68V145.07H258.70V150.67H260.71V154.68H262.73V157.53H264.75V150.55H266.76V149.10H268.78V149.18H270.80V149.99H272.82V149.85H274.83V147.84H276.85V145.13H278.87V142.37H280.89V146.44H282.90V149.26H284.92V154.32H286.94V155.64H288.96V152.27H290.97V144.65H292.99V141.65H295.01V143.88H297.02V145.58H299.04V145.78H301.06V145.15H303.08V144.63H305.09V150.94H307.11V155.43H309.13V157.71H311.15V156.21H313.16V150.51H315.18V146.22H317.20V144.08H319.21V142.29H321.23V144.42H323.25V146.78H325.27V148.01H327.28V147.81H329.30V151.46H331.32V157.09H333.34V158.79H335.35V156.05H337.37V147.22H339.39V140.43H341.40V139.78H343.42V139.95H345.44V140.22H347.46V137.71H349.47V137.18H351.49V136.69H353.51V141.46H355.53V144.54H357.54V147.32H359.56V143.34H361.58V139.73H363.60V138.43H365.61V139.34H367.63V140.20H369.65V138.85H371.66V135.78H373.68V133.22H375.70V131.96H377.72V135.36H379.73V147.21H381.75V149.36H383.77V146.20H385.79V134.81H387.80V130.20H389.82V126.51H391.84V125.80H393.85V125.56H395.87V124.49H397.89V120.38H399.91V114.43H401.92V115.44H403.94V116.08H405.96V124.35H407.98V124.85H409.99V121.03H412.01V115.86H414.03V113.97H416.04V115.55H418.06V117.69H420.08V115.94H422.10V115.03H424.11V115.03H426.13V119.05H428.15V123.27H430.17V124.89H432.18V122.38H434.20V117.29H436.22V112.95H438.24V111.99H440.25V112.84H442.27V118.85H444.29V120.20H446.30V118.58H448.32V119.00H450.34V123.02H452.36V134.10H454.37V142.12H456.39V132.84H458.41V124.11H460.43V120.87H462.44V119.53H464.46V119.69H466.48V120.51H468.49V119.63H470.51V117.97H472.53V116.75H474.55V124.36H476.56V131.09H478.58V150.90H480.60V132.80H482.62V126.21H484.63V124.04H486.65V125.03H488.67V127.05H490.69V126.57H492.70V123.61H494.72V118.36H496.74V114.73H498.75V122.85H500.77V131.19H502.79V137.33H504.81V134.57H506.82V126.23H508.84V121.28H510.86V116.74H512.88V118.01H514.89V119.91H516.91V120.74H518.93V117.60H520.94V115.71H522.96V123.24H524.98V139.41H527.00V148.50H529.01V144.14H531.03V134.19H533.05V123.43H535.07V112.68H537.08V105.20H539.10V102.55H541.12V99.75H543.13V93.92H545.15V90.86H547.17V99.51H549.19V111.72H551.20V120.65H553.22V121.75H555.24V121.71H557.26V109.78H559.27V104.13H561.29V103.50H563.31V102.42H565.33V100.91H567.34V97.52H569.36V96.07H571.38V96.36H573.39V103.96H575.41V110.31H577.43V111.02H579.45V101.40H581.46V92.20H583.48V86.77H585.50V88.86H587.52V93.56H589.53V97.33H591.55V100.39H593.57V103.33H595.58V107.04H597.60V113.56H599.62V117.24H601.64V115.90H603.65V107.96H605.67V106.13H607.69V104.70H609.71V103.01H611.72V102.34H613.74V103.54H615.76V102.42H617.78V99.73H619.79V97.04H621.81V102.00H623.83V105.31H625.84V102.94H627.86V97.68H629.88V92.31H631.90V90.09H633.91V90.99H635.93V93.61H637.95V94.77H639.97V92.44H641.98V90.25H644.00V93.98H641.98V96.18H639.97V98.46H637.95V97.33H635.93V95.32H633.91V94.74H631.90V96.97H629.88V102.29H627.86V108.90H625.84V111.09H623.83V107.41H621.81V102.53H619.79V105.23H617.78V107.92H615.76V109.04H613.74V107.74H611.72V107.06H609.71V108.43H607.69V110.75H605.67V116.32H603.65V134.74H601.64V136.36H599.62V124.67H597.60V115.15H595.58V113.65H593.57V112.20H591.55V110.82H589.53V109.00H587.52V105.07H585.50V106.17H583.48V111.17H581.46V130.66H579.45V136.75H577.43V136.07H575.41V126.21H573.39V111.80H571.38V111.29H569.36V111.92H567.34V113.97H565.33V113.96H563.31V113.43H561.29V112.34H559.27V115.96H557.26V126.46H555.24V126.93H553.22V125.76H551.20V115.35H549.19V102.57H547.17V94.42H545.15V97.02H543.13V102.17H541.12V104.40H539.10V105.97H537.08V115.54H535.07V126.91H533.05V138.31H531.03V148.12H529.01V151.75H527.00V143.37H524.98V127.98H522.96V120.50H520.94V122.54H518.93V125.48H516.91V124.82H514.89V123.44H512.88V122.74H510.86V126.73H508.84V131.28H506.82V139.06H504.81V141.95H502.79V136.78H500.77V129.44H498.75V122.23H496.74V126.12H494.72V131.41H492.70V133.79H490.69V133.44H488.67V131.42H486.65V130.90H484.63V133.29H482.62V139.27H480.60V152.93H478.58V136.11H476.56V129.38H474.55V122.73H472.53V124.27H470.51V125.59H468.49V125.75H466.48V124.62H464.46V124.25H462.44V125.59H460.43V128.26H458.41V136.49H456.39V145.45H454.37V137.48H452.36V126.61H450.34V123.48H448.32V123.27H446.30V124.36H444.29V123.02H442.27V117.68H440.25V117.36H438.24V116.96H436.22V120.68H434.20V126.64H432.18V130.64H430.17V126.97H428.15V121.09H426.13V116.61H424.11V117.11H422.10V118.96H420.08V121.93H418.06V121.17H416.04V120.60H414.03V122.32H412.01V129.72H409.99V135.25H407.98V133.73H405.96V124.47H403.94V123.41H401.92V122.84H399.91V127.76H397.89V131.61H395.87V133.16H393.85V133.65H391.84V134.40H389.82V138.20H387.80V143.27H385.79V154.10H383.77V157.06H381.75V154.00H379.73V142.26H377.72V138.18H375.70V141.37H373.68V144.67H371.66V147.09H369.65V145.57H367.63V144.56H365.61V144.30H363.60V145.96H361.58V149.52H359.56V155.69H357.54V152.77H355.53V148.89H353.51V145.95H351.49V146.45H349.47V146.75H347.46V147.49H345.44V147.06H343.42V146.74H341.40V147.57H339.39V155.99H337.37V166.81H335.35V168.98H333.34V167.96H331.32V163.77H329.30V159.65H327.28V158.52H325.27V157.56H323.25V155.68H321.23V153.38H319.21V152.90H317.20V154.82H315.18V159.39H313.16V166.86H311.15V166.59H309.13V162.85H307.11V157.82H305.09V151.57H303.08V151.73H301.06V152.04H299.04V151.81H297.02V150.45H295.01V149.30H292.99V153.68H290.97V162.20H288.96V165.26H286.94V164.25H284.92V158.22H282.90V154.16H280.89V149.29H278.87V150.46H276.85V152.23H274.83V153.84H272.82V154.11H270.80V153.71H268.78V153.90H266.76V155.29H264.75V159.53H262.73V156.39H260.71V154.01H258.70V150.49H256.68V149.61H254.66V149.89H252.64V150.31H250.63V151.44H248.61V154.37H246.59V154.81H244.57V156.53H242.56V157.41H240.54V159.34H238.52V159.25H236.51V156.26H234.49V150.96H232.47V147.91H230.45V146.05H228.44V146.81H226.42V147.73H224.40V148.36H222.38V149.07H220.37V150.11H218.35V152.19H216.33V153.88H214.31V154.93H212.30V153.52H210.28V151.52H208.26V148.66H206.25V149.61H204.23V151.57H202.21V153.66H200.19V154.73H198.18V156.47H196.16V158.22H194.14V159.25H192.12V160.27H190.11V160.99H188.09V160.21H186.07V158.07H184.06V155.51H182.04V155.73H180.02V156.38H178.00V156.96H175.99V157.45H173.97V157.08H171.95V158.52H169.93V158.86H167.92V158.74H165.90V159.48H163.88V159.67H161.87V159.51H159.85V158.08H157.83V154.36H155.81V155.29H153.80V156.21H151.78V156.32H149.76V156.35H147.74V158.47H145.73V159.06H143.71V159.37H141.69V160.53H139.67V161.07H137.66V160.56H135.64V158.29H133.62V158.13H131.61V158.07H129.59V158.49H127.57V158.90H125.55V159.83H123.54V160.99H121.52V162.44H119.50V163.69H117.48V164.71H115.47V164.29H113.45V163.06H111.43V161.21H109.42V160.70H107.40V160.18H105.38V159.99H103.36V159.81H101.35V160.04H99.33V161.31H97.31V162.38H95.29V163.05H93.28V163.95H91.26V165.13H89.24V164.89H87.22V163.03H85.21V162.11H83.19V161.86H81.17V162.29H79.16V163.07H77.14V164.11H75.12V165.12H73.10V164.79H71.09V164.35H69.07V164.91H67.05V166.10H65.03V166.14H63.02V165.71H61.00Z"/><path fill="#000000" d="M61.00,156.93H63.02V158.42H65.03V158.93H67.05V157.31H69.07V156.90H71.09V158.24H73.10V159.31H75.12V158.16H77.14V157.01H79.16V156.28H81.17V156.12H83.19V156.97H85.21V158.74H87.22V161.80H89.24V162.15H91.26V160.28H93.28V158.78H95.29V157.57H97.31V155.74H99.33V153.56H101.35V152.83H103.36V152.66H105.38V152.51H107.40V152.85H109.42V153.18H111.43V155.79H113.45V157.43H115.47V157.78H117.48V156.27H119.50V154.40H121.52V152.22H123.54V150.59H125.55V149.37H127.57V149.04H129.59V148.70H131.61V148.64H133.62V148.64H135.64V152.11H137.66V152.72H139.67V151.57H141.69V149.35H143.71V148.55H145.73V147.23H147.74V143.23H149.76V145.53H151.78V145.13H153.80V144.72H155.81V144.31H157.83V145.53H159.85V148.83H161.87V149.64H163.88V149.35H165.90V146.97H167.92V146.17H169.93V144.37H171.95V140.10H173.97V139.53H175.99V138.95H178.00V138.28H180.02V137.47H182.04V137.25H184.06V140.88H186.07V143.92H188.09V144.65H190.11V142.63H192.12V139.86H194.14V137.05H196.16V135.03H198.18V133.20H200.19V132.95H202.21V132.79H204.23V133.00H206.25V133.20H208.26V135.98H210.28V139.55H212.30V142.04H214.31V140.03H216.33V136.97H218.35V133.61H220.37V131.19H222.38V129.01H224.40V127.56H226.42V126.26H228.44V125.29H230.45V125.37H232.47V126.88H234.49V131.23H236.51V133.20H238.52V132.57H240.54V126.10H242.56V123.41H244.57V118.26H246.59V116.86H248.61V117.74H250.63V122.47H252.64V131.52H254.66V136.98H256.68V142.89H258.70V149.08H260.71V153.31H262.73V156.71H264.75V149.88H266.76V147.55H268.78V145.77H270.80V146.57H272.82V146.30H274.83V143.88H276.85V140.97H278.87V138.61H280.89V144.35H282.90V146.87H284.92V149.89H286.94V149.31H288.96V143.41H290.97V136.30H292.99V134.01H295.01V136.53H297.02V137.46H299.04V137.16H301.06V135.95H303.08V134.78H305.09V141.21H307.11V143.23H309.13V143.08H311.15V138.90H313.16V134.17H315.18V129.13H317.20V125.59H319.21V123.39H321.23V126.62H323.25V129.75H325.27V132.78H327.28V131.04H329.30V134.38H331.32V140.40H333.34V141.73H335.35V136.03H337.37V127.70H339.39V121.32H341.40V120.38H343.42V121.18H345.44V122.14H347.46V122.15H349.47V122.57H351.49V123.58H353.51V129.69H355.53V134.41H357.54V139.05H359.56V133.73H361.58V125.87H363.60V120.70H365.61V118.53H367.63V118.50H369.65V121.89H371.66V119.20H373.68V115.87H375.70V113.34H377.72V118.31H379.73V131.00H381.75V135.17H383.77V132.99H385.79V118.80H387.80V114.77H389.82V111.35H391.84V111.35H393.85V112.48H395.87V113.99H397.89V113.00H399.91V111.82H401.92V113.71H403.94V114.77H405.96V122.52H407.98V123.53H409.99V118.80H412.01V112.14H414.03V110.08H416.04V112.67H418.06V114.68H420.08V112.17H422.10V110.59H424.11V110.09H426.13V115.74H428.15V120.73H430.17V121.97H432.18V119.30H434.20V114.59H436.22V110.69H438.24V110.14H440.25V111.65H442.27V115.61H444.29V116.95H446.30V114.78H448.32V115.42H450.34V120.40H452.36V131.70H454.37V139.77H456.39V130.14H458.41V120.88H460.43V117.03H462.44V115.69H464.46V115.62H466.48V116.13H468.49V114.47H470.51V112.46H472.53V111.57H474.55V120.21H476.56V126.94H478.58V149.93H480.60V127.09H482.62V119.86H484.63V117.92H486.65V119.41H488.67V121.43H490.69V120.06H492.70V116.49H494.72V111.28H496.74V107.92H498.75V117.03H500.77V126.42H502.79V133.61H504.81V130.98H506.82V122.04H508.84V116.66H510.86V111.53H512.88V113.41H514.89V115.87H516.91V116.89H518.93V113.53H520.94V111.80H522.96V119.39H524.98V136.39H527.00V146.24H529.01V141.09H531.03V131.00H533.05V120.91H535.07V110.83H537.08V104.70H539.10V101.36H541.12V98.00H543.13V91.49H545.15V88.14H547.17V97.82H549.19V110.20H551.20V118.63H553.22V118.84H555.24V117.78H557.26V104.42H559.27V98.74H561.29V98.24H563.31V96.99H565.33V94.97H567.34V90.96H569.36V89.10H571.38V91.67H573.39V98.03H575.41V102.06H577.43V102.14H579.45V95.45H581.46V85.09H583.48V77.84H585.50V76.30H587.52V82.57H589.53V86.99H591.55V90.69H593.57V94.62H595.58V99.76H597.60V108.02H599.62V112.98H601.64V112.31H603.65V103.78H605.67V101.82H607.69V100.39H609.71V98.70H611.72V98.03H613.74V99.23H615.76V98.11H617.78V95.62H619.79V93.60H621.81V99.96H623.83V101.98H625.84V97.65H627.86V92.23H629.88V88.14H631.90V87.47H633.91V89.06H635.93V91.07H637.95V92.26H639.97V90.24H641.98V88.52H644.00V90.25H641.98V92.44H639.97V94.77H637.95V93.61H635.93V90.99H633.91V90.09H631.90V92.31H629.88V97.68H627.86V102.94H625.84V105.31H623.83V102.00H621.81V97.04H619.79V99.73H617.78V102.42H615.76V103.54H613.74V102.34H611.72V103.01H609.71V104.70H607.69V106.13H605.67V107.96H603.65V115.90H601.64V117.24H599.62V113.56H597.60V107.04H595.58V103.33H593.57V100.39H591.55V97.33H589.53V93.56H587.52V88.86H585.50V86.77H583.48V92.20H581.46V101.40H579.45V111.02H577.43V110.31H575.41V103.96H573.39V96.36H571.38V96.07H569.36V97.52H567.34V100.91H565.33V102.42H563.31V103.50H561.29V104.13H559.27V109.78H557.26V121.71H555.24V121.75H553.22V120.65H551.20V111.72H549.19V99.51H547.17V90.86H545.15V93.92H543.13V99.75H541.12V102.55H539.10V105.20H537.08V112.68H535.07V123.43H533.05V134.19H531.03V144.14H529.01V148.50H527.00V139.41H524.98V123.24H522.96V115.71H520.94V117.60H518.93V120.74H516.91V119.91H514.89V118.01H512.88V116.74H510.86V121.28H508.84V126.23H506.82V134.57H504.81V137.33H502.79V131.19H500.77V122.85H498.75V114.73H496.74V118.36H494.72V123.61H492.70V126.57H490.69V127.05H488.67V125.03H486.65V124.04H484.63V126.21H482.62V132.80H480.60V150.90H478.58V131.09H476.56V124.36H474.55V116.75H472.53V117.97H470.51V119.63H468.49V120.51H466.48V119.69H464.46V119.53H462.44V120.87H460.43V124.11H458.41V132.84H456.39V142.12H454.37V134.10H452.36V123.02H450.34V119.00H448.32V118.58H446.30V120.20H444.29V118.85H442.27V112.84H440.25V111.99H438.24V112.95H436.22V117.29H434.20V122.38H432.18V124.89H430.17V123.27H428.15V119.05H426.13V115.03H424.11V115.03H422.10V115.94H420.08V117.69H418.06V115.55H416.04V113.97H414.03V115.86H412.01V121.03H409.99V124.85H407.98V124.35H405.96V116.08H403.94V115.44H401.92V114.43H399.91V120.38H397.89V124.49H395.87V125.56H393.85V125.80H391.84V126.51H389.82V130.20H387.80V134.81H385.79V146.20H383.77V149.36H381.75V147.21H379.73V135.36H377.72V131.96H375.70V133.22H373.68V135.78H371.66V138.85H369.65V140.20H367.63V139.34H365.61V138.43H363.60V139.73H361.58V143.34H359.56V147.32H357.54V144.54H355.53V141.46H353.51V136.69H351.49V137.18H349.47V137.71H347.46V140.22H345.44V139.95H343.42V139.78H341.40V140.43H339.39V147.22H337.37V156.05H335.35V158.79H333.34V157.09H331.32V151.46H329.30V147.81H327.28V148.01H325.27V146.78H323.25V144.42H321.23V142.29H319.21V144.08H317.20V146.22H315.18V150.51H313.16V156.21H311.15V157.71H309.13V155.43H307.11V150.94H305.09V144.63H303.08V145.15H301.06V145.78H299.04V145.58H297.02V143.88H295.01V141.65H292.99V144.65H290.97V152.27H288.96V155.64H286.94V154.32H284.92V149.26H282.90V146.44H280.89V142.37H278.87V145.13H276.85V147.84H274.83V149.85H272.82V149.99H270.80V149.18H268.78V149.10H266.76V150.55H264.75V157.53H262.73V154.68H260.71V150.67H258.70V145.07H256.68V143.16H254.66V142.53H252.64V142.09H250.63V141.43H248.61V142.80H246.59V142.56H244.57V144.44H242.56V145.08H240.54V149.08H238.52V149.82H236.51V147.12H234.49V141.78H232.47V139.45H230.45V138.38H228.44V139.41H226.42V140.63H224.40V141.17H222.38V141.55H220.37V142.73H218.35V146.34H216.33V147.92H214.31V148.14H212.30V147.09H210.28V145.98H208.26V142.61H206.25V143.22H204.23V144.87H202.21V146.70H200.19V147.31H198.18V148.87H196.16V150.50H194.14V151.68H192.12V152.89H190.11V153.69H188.09V153.47H186.07V151.96H184.06V149.34H182.04V149.56H180.02V150.23H178.00V150.80H175.99V151.27H173.97V150.54H171.95V152.29H169.93V153.24H167.92V153.78H165.90V155.36H163.88V155.06H161.87V153.76H159.85V151.09H157.83V150.08H155.81V151.22H153.80V152.33H151.78V152.54H149.76V152.67H147.74V155.25H145.73V156.02H143.71V156.45H141.69V157.87H139.67V158.56H137.66V158.02H135.64V155.45H133.62V155.32H131.61V155.29H129.59V155.65H127.57V156.01H125.55V156.98H123.54V158.24H121.52V159.86H119.50V161.26H117.48V162.39H115.47V162.01H113.45V160.71H111.43V158.71H109.42V158.28H107.40V157.86H105.38V157.56H103.36V157.27H101.35V157.45H99.33V158.87H97.31V160.07H95.29V160.81H93.28V161.82H91.26V163.16H89.24V162.87H87.22V160.70H85.21V159.65H83.19V159.39H81.17V159.93H79.16V160.78H77.14V161.87H75.12V162.93H73.10V162.40H71.09V161.71H69.07V162.24H67.05V163.57H65.03V163.46H63.02V162.74H61.00Z"/><path fill="#BF9000" d="M61.00,155.93H63.02V157.42H65.03V157.93H67.05V156.31H69.07V155.90H71.09V157.24H73.10V158.31H75.12V157.16H77.14V156.01H79.16V155.28H81.17V155.12H83.19V155.97H85.21V157.74H87.22V160.80H89.24V161.15H91.26V159.28H93.28V157.78H95.29V156.57H97.31V154.74H99.33V152.56H101.35V151.83H103.36V151.66H105.38V151.51H107.40V151.85H109.42V152.18H111.43V154.79H113.45V156.43H115.47V156.78H117.48V155.27H119.50V153.40H121.52V151.22H123.54V149.59H125.55V148.37H127.57V148.04H129.59V147.70H131.61V147.64H133.62V147.64H135.64V151.11H137.66V151.72H139.67V150.57H141.69V148.35H143.71V147.55H145.73V146.23H147.74V142.23H149.76V142.73H151.78V142.33H153.80V141.92H155.81V141.51H157.83V142.73H159.85V146.03H161.87V146.84H163.88V146.55H165.90V144.17H167.92V143.37H169.93V141.57H171.95V137.30H173.97V136.73H175.99V136.15H178.00V135.48H180.02V134.67H182.04V134.45H184.06V138.08H186.07V141.12H188.09V141.85H190.11V139.83H192.12V137.06H194.14V134.25H196.16V132.23H198.18V130.40H200.19V130.15H202.21V129.99H204.23V130.20H206.25V130.40H208.26V133.18H210.28V136.75H212.30V139.24H214.31V137.23H216.33V134.17H218.35V130.81H220.37V128.39H222.38V126.21H224.40V124.76H226.42V123.46H228.44V122.49H230.45V122.57H232.47V124.08H234.49V128.43H236.51V130.40H238.52V129.77H240.54V123.30H242.56V120.61H244.57V115.46H246.59V114.06H248.61V114.94H250.63V119.67H252.64V128.72H254.66V134.18H256.68V140.09H258.70V146.68H260.71V151.22H262.73V155.47H264.75V148.85H266.76V145.19H268.78V142.97H270.80V143.77H272.82V143.50H274.83V141.08H276.85V138.17H278.87V135.81H280.89V141.55H282.90V144.07H284.92V147.09H286.94V146.51H288.96V140.61H290.97V133.50H292.99V131.21H295.01V133.73H297.02V134.66H299.04V133.86H301.06V132.65H303.08V131.48H305.09V137.91H307.11V139.93H309.13V139.78H311.15V135.60H313.16V130.87H315.18V125.83H317.20V122.29H319.21V120.09H321.23V123.32H323.25V126.45H325.27V129.48H327.28V127.74H329.30V131.08H331.32V137.10H333.34V138.43H335.35V132.73H337.37V124.40H339.39V118.02H341.40V117.08H343.42V117.88H345.44V118.84H347.46V118.85H349.47V119.27H351.49V120.28H353.51V126.39H355.53V131.11H357.54V135.75H359.56V130.43H361.58V122.57H363.60V117.40H365.61V115.23H367.63V115.20H369.65V118.59H371.66V115.90H373.68V112.57H375.70V110.04H377.72V115.01H379.73V127.70H381.75V131.87H383.77V129.69H385.79V115.50H387.80V111.47H389.82V108.05H391.84V108.05H393.85V109.18H395.87V110.69H397.89V109.70H399.91V108.52H401.92V110.95H403.94V112.66H405.96V121.62H407.98V122.63H409.99V117.90H412.01V111.24H414.03V109.18H416.04V111.77H418.06V113.78H420.08V111.27H422.10V109.69H424.11V109.19H426.13V114.84H428.15V119.83H430.17V121.07H432.18V118.40H434.20V113.69H436.22V109.79H438.24V109.24H440.25V110.75H442.27V114.71H444.29V116.05H446.30V113.88H448.32V114.52H450.34V119.50H452.36V130.80H454.37V138.87H456.39V129.24H458.41V119.98H460.43V116.13H462.44V114.79H464.46V114.72H466.48V115.23H468.49V113.57H470.51V111.56H472.53V110.67H474.55V119.31H476.56V126.04H478.58V149.03H480.60V126.19H482.62V118.96H484.63V117.02H486.65V118.51H488.67V120.53H490.69V119.16H492.70V115.59H494.72V110.38H496.74V107.02H498.75V116.13H500.77V125.52H502.79V132.71H504.81V130.08H506.82V121.14H508.84V115.76H510.86V110.63H512.88V112.51H514.89V114.97H516.91V115.99H518.93V112.63H520.94V110.90H522.96V118.49H524.98V135.49H527.00V145.34H529.01V140.19H531.03V130.10H533.05V120.01H535.07V109.93H537.08V103.81H539.10V100.46H541.12V97.10H543.13V90.59H545.15V87.24H547.17V96.92H549.19V109.30H551.20V117.73H553.22V117.94H555.24V116.88H557.26V103.52H559.27V97.34H561.29V96.84H563.31V95.59H565.33V93.57H567.34V89.56H569.36V87.70H571.38V90.27H573.39V96.63H575.41V100.66H577.43V99.78H579.45V90.79H581.46V78.12H583.48V68.57H585.50V69.08H587.52V77.65H589.53V84.38H591.55V89.29H593.57V93.22H595.58V98.36H597.60V106.62H599.62V111.58H601.64V110.91H603.65V102.38H605.67V100.42H607.69V98.99H609.71V97.30H611.72V96.63H613.74V97.83H615.76V96.71H617.78V94.22H619.79V92.20H621.81V98.56H623.83V100.58H625.84V96.25H627.86V90.83H629.88V86.74H631.90V86.07H633.91V87.66H635.93V89.67H637.95V90.86H639.97V88.84H641.98V87.12H644.00V88.52H641.98V90.24H639.97V92.26H637.95V91.07H635.93V89.06H633.91V87.47H631.90V88.14H629.88V92.23H627.86V97.65H625.84V101.98H623.83V99.96H621.81V93.60H619.79V95.62H617.78V98.11H615.76V99.23H613.74V98.03H611.72V98.70H609.71V100.39H607.69V101.82H605.67V103.78H603.65V112.31H601.64V112.98H599.62V108.02H597.60V99.76H595.58V94.62H593.57V90.69H591.55V86.99H589.53V82.57H587.52V76.30H585.50V77.84H583.48V85.09H581.46V95.45H579.45V102.14H577.43V102.06H575.41V98.03H573.39V91.67H571.38V89.10H569.36V90.96H567.34V94.97H565.33V96.99H563.31V98.24H561.29V98.74H559.27V104.42H557.26V117.78H555.24V118.84H553.22V118.63H551.20V110.20H549.19V97.82H547.17V88.14H545.15V91.49H543.13V98.00H541.12V101.36H539.10V104.70H537.08V110.83H535.07V120.91H533.05V131.00H531.03V141.09H529.01V146.24H527.00V136.39H524.98V119.39H522.96V111.80H520.94V113.53H518.93V116.89H516.91V115.87H514.89V113.41H512.88V111.53H510.86V116.66H508.84V122.04H506.82V130.98H504.81V133.61H502.79V126.42H500.77V117.03H498.75V107.92H496.74V111.28H494.72V116.49H492.70V120.06H490.69V121.43H488.67V119.41H486.65V117.92H484.63V119.86H482.62V127.09H480.60V149.93H478.58V126.94H476.56V120.21H474.55V111.57H472.53V112.46H470.51V114.47H468.49V116.13H466.48V115.62H464.46V115.69H462.44V117.03H460.43V120.88H458.41V130.14H456.39V139.77H454.37V131.70H452.36V120.40H450.34V115.42H448.32V114.78H446.30V116.95H444.29V115.61H442.27V111.65H440.25V110.14H438.24V110.69H436.22V114.59H434.20V119.30H432.18V121.97H430.17V120.73H428.15V115.74H426.13V110.09H424.11V110.59H422.10V112.17H420.08V114.68H418.06V112.67H416.04V110.08H414.03V112.14H412.01V118.80H409.99V123.53H407.98V122.52H405.96V114.77H403.94V113.71H401.92V111.82H399.91V113.00H397.89V113.99H395.87V112.48H393.85V111.35H391.84V111.35H389.82V114.77H387.80V118.80H385.79V132.99H383.77V135.17H381.75V131.00H379.73V118.31H377.72V113.34H375.70V115.87H373.68V119.20H371.66V121.89H369.65V118.50H367.63V118.53H365.61V120.70H363.60V125.87H361.58V133.73H359.56V139.05H357.54V134.41H355.53V129.69H353.51V123.58H351.49V122.57H349.47V122.15H347.46V122.14H345.44V121.18H343.42V120.38H341.40V121.32H339.39V127.70H337.37V136.03H335.35V141.73H333.34V140.40H331.32V134.38H329.30V131.04H327.28V132.78H325.27V129.75H323.25V126.62H321.23V123.39H319.21V125.59H317.20V129.13H315.18V134.17H313.16V138.90H311.15V143.08H309.13V143.23H307.11V141.21H305.09V134.78H303.08V135.95H301.06V137.16H299.04V137.46H297.02V136.53H295.01V134.01H292.99V136.30H290.97V143.41H288.96V149.31H286.94V149.89H284.92V146.87H282.90V144.35H280.89V138.61H278.87V140.97H276.85V143.88H274.83V146.30H272.82V146.57H270.80V145.77H268.78V147.55H266.76V149.88H264.75V156.71H262.73V153.31H260.71V149.08H258.70V142.89H256.68V136.98H254.66V131.52H252.64V122.47H250.63V117.74H248.61V116.86H246.59V118.26H244.57V123.41H242.56V126.10H240.54V132.57H238.52V133.20H236.51V131.23H234.49V126.88H232.47V125.37H230.45V125.29H228.44V126.26H226.42V127.56H224.40V129.01H222.38V131.19H220.37V133.61H218.35V136.97H216.33V140.03H214.31V142.04H212.30V139.55H210.28V135.98H208.26V133.20H206.25V133.00H204.23V132.79H202.21V132.95H200.19V133.20H198.18V135.03H196.16V137.05H194.14V139.86H192.12V142.63H190.11V144.65H188.09V143.92H186.07V140.88H184.06V137.25H182.04V137.47H180.02V138.28H178.00V138.95H175.99V139.53H173.97V140.10H171.95V144.37H169.93V146.17H167.92V146.97H165.90V149.35H163.88V149.64H161.87V148.83H159.85V145.53H157.83V144.31H155.81V144.72H153.80V145.13H151.78V145.53H149.76V143.23H147.74V147.23H145.73V148.55H143.71V149.35H141.69V151.57H139.67V152.72H137.66V152.11H135.64V148.64H133.62V148.64H131.61V148.70H129.59V149.04H127.57V149.37H125.55V150.59H123.54V152.22H121.52V154.40H119.50V156.27H117.48V157.78H115.47V157.43H113.45V155.79H111.43V153.18H109.42V152.85H107.40V152.51H105.38V152.66H103.36V152.83H101.35V153.56H99.33V155.74H97.31V157.57H95.29V158.78H93.28V160.28H91.26V162.15H89.24V161.80H87.22V158.74H85.21V156.97H83.19V156.12H81.17V156.28H79.16V157.01H77.14V158.16H75.12V159.31H73.10V158.24H71.09V156.90H69.07V157.31H67.05V158.93H65.03V158.42H63.02V156.93H61.00Z"/><path fill="#2E75B6" d="M61.00,155.33H63.02V156.82H65.03V157.33H67.05V155.71H69.07V155.30H71.09V156.64H73.10V157.71H75.12V156.56H77.14V155.41H79.16V154.68H81.17V154.52H83.19V155.37H85.21V157.14H87.22V160.20H89.24V160.55H91.26V158.68H93.28V157.18H95.29V155.97H97.31V154.14H99.33V151.96H101.35V151.23H103.36V151.06H105.38V150.91H107.40V151.25H109.42V151.58H111.43V154.19H113.45V155.83H115.47V156.18H117.48V154.67H119.50V152.80H121.52V150.62H123.54V148.99H125.55V147.77H127.57V147.44H129.59V147.10H131.61V147.04H133.62V147.04H135.64V150.51H137.66V151.12H139.67V149.97H141.69V147.75H143.71V146.95H145.73V145.63H147.74V141.63H149.76V141.23H151.78V140.83H153.80V140.42H155.81V140.01H157.83V141.23H159.85V144.53H161.87V145.34H163.88V145.05H165.90V142.67H167.92V141.87H169.93V140.07H171.95V135.80H173.97V135.23H175.99V134.65H178.00V133.98H180.02V133.17H182.04V132.95H184.06V136.58H186.07V139.62H188.09V140.35H190.11V138.33H192.12V135.56H194.14V132.75H196.16V130.73H198.18V128.90H200.19V128.65H202.21V128.49H204.23V128.70H206.25V128.90H208.26V131.68H210.28V135.25H212.30V137.74H214.31V135.73H216.33V132.67H218.35V129.31H220.37V126.89H222.38V124.71H224.40V123.26H226.42V121.96H228.44V120.99H230.45V121.07H232.47V122.58H234.49V126.93H236.51V128.90H238.52V128.27H240.54V121.80H242.56V119.11H244.57V113.96H246.59V112.56H248.61V113.44H250.63V118.17H252.64V127.22H254.66V132.68H256.68V138.59H258.70V145.39H260.71V150.10H262.73V154.80H264.75V148.31H266.76V143.92H268.78V141.47H270.80V142.27H272.82V142.00H274.83V139.58H276.85V136.67H278.87V134.31H280.89V140.05H282.90V142.57H284.92V145.59H286.94V145.01H288.96V139.11H290.97V132.00H292.99V129.71H295.01V132.23H297.02V133.16H299.04V132.36H301.06V131.15H303.08V129.98H305.09V136.41H307.11V138.43H309.13V138.28H311.15V134.10H313.16V129.37H315.18V124.33H317.20V120.79H319.21V118.59H321.23V121.82H323.25V124.95H325.27V127.98H327.28V126.24H329.30V129.58H331.32V135.60H333.34V136.93H335.35V131.23H337.37V122.90H339.39V116.52H341.40V115.58H343.42V116.38H345.44V117.34H347.46V117.35H349.47V117.77H351.49V118.78H353.51V124.89H355.53V129.61H357.54V134.25H359.56V128.93H361.58V121.07H363.60V115.90H365.61V113.73H367.63V113.70H369.65V117.09H371.66V114.40H373.68V111.07H375.70V108.54H377.72V113.51H379.73V126.20H381.75V130.37H383.77V128.19H385.79V114.00H387.80V109.97H389.82V106.55H391.84V106.55H393.85V107.68H395.87V109.19H397.89V108.20H399.91V107.02H401.92V109.69H403.94V111.71H405.96V121.32H407.98V122.33H409.99V117.60H412.01V110.94H414.03V108.88H416.04V111.47H418.06V113.48H420.08V110.97H422.10V109.39H424.11V108.89H426.13V114.54H428.15V119.53H430.17V120.77H432.18V118.10H434.20V113.39H436.22V109.49H438.24V108.94H440.25V110.45H442.27V114.41H444.29V115.75H446.30V113.58H448.32V114.22H450.34V119.20H452.36V130.50H454.37V138.57H456.39V128.94H458.41V119.68H460.43V115.83H462.44V114.49H464.46V114.42H466.48V114.93H468.49V113.27H470.51V111.26H472.53V110.37H474.55V119.01H476.56V125.74H478.58V148.73H480.60V125.89H482.62V118.66H484.63V116.72H486.65V118.21H488.67V120.23H490.69V118.86H492.70V115.29H494.72V110.08H496.74V106.72H498.75V115.83H500.77V125.22H502.79V132.41H504.81V129.78H506.82V120.84H508.84V115.46H510.86V110.33H512.88V112.21H514.89V114.67H516.91V115.69H518.93V112.33H520.94V110.60H522.96V118.19H524.98V135.19H527.00V145.04H529.01V139.89H531.03V129.80H533.05V119.71H535.07V109.63H537.08V103.52H539.10V100.16H541.12V96.80H543.13V90.29H545.15V86.94H547.17V96.62H549.19V109.00H551.20V117.43H553.22V117.64H555.24V116.58H557.26V103.22H559.27V97.04H561.29V96.54H563.31V95.29H565.33V93.27H567.34V89.26H569.36V87.40H571.38V89.97H573.39V96.33H575.41V100.36H577.43V99.48H579.45V90.49H581.46V77.82H583.48V68.27H585.50V68.78H587.52V77.35H589.53V84.08H591.55V88.99H593.57V92.92H595.58V98.06H597.60V106.32H599.62V111.28H601.64V110.61H603.65V102.08H605.67V100.12H607.69V98.69H609.71V97.00H611.72V96.33H613.74V97.53H615.76V96.41H617.78V93.92H619.79V91.90H621.81V98.26H623.83V100.28H625.84V95.95H627.86V90.53H629.88V86.44H631.90V85.77H633.91V87.36H635.93V89.37H637.95V90.56H639.97V88.54H641.98V86.82H644.00V87.12H641.98V88.84H639.97V90.86H637.95V89.67H635.93V87.66H633.91V86.07H631.90V86.74H629.88V90.83H627.86V96.25H625.84V100.58H623.83V98.56H621.81V92.20H619.79V94.22H617.78V96.71H615.76V97.83H613.74V96.63H611.72V97.30H609.71V98.99H607.69V100.42H605.67V102.38H603.65V110.91H601.64V111.58H599.62V106.62H597.60V98.36H595.58V93.22H593.57V89.29H591.55V84.38H589.53V77.65H587.52V69.08H585.50V68.57H583.48V78.12H581.46V90.79H579.45V99.78H577.43V100.66H575.41V96.63H573.39V90.27H571.38V87.70H569.36V89.56H567.34V93.57H565.33V95.59H563.31V96.84H561.29V97.34H559.27V103.52H557.26V116.88H555.24V117.94H553.22V117.73H551.20V109.30H549.19V96.92H547.17V87.24H545.15V90.59H543.13V97.10H541.12V100.46H539.10V103.81H537.08V109.93H535.07V120.01H533.05V130.10H531.03V140.19H529.01V145.34H527.00V135.49H524.98V118.49H522.96V110.90H520.94V112.63H518.93V115.99H516.91V114.97H514.89V112.51H512.88V110.63H510.86V115.76H508.84V121.14H506.82V130.08H504.81V132.71H502.79V125.52H500.77V116.13H498.75V107.02H496.74V110.38H494.72V115.59H492.70V119.16H490.69V120.53H488.67V118.51H486.65V117.02H484.63V118.96H482.62V126.19H480.60V149.03H478.58V126.04H476.56V119.31H474.55V110.67H472.53V111.56H470.51V113.57H468.49V115.23H466.48V114.72H464.46V114.79H462.44V116.13H460.43V119.98H458.41V129.24H456.39V138.87H454.37V130.80H452.36V119.50H450.34V114.52H448.32V113.88H446.30V116.05H444.29V114.71H442.27V110.75H440.25V109.24H438.24V109.79H436.22V113.69H434.20V118.40H432.18V121.07H430.17V119.83H428.15V114.84H426.13V109.19H424.11V109.69H422.10V111.27H420.08V113.78H418.06V111.77H416.04V109.18H414.03V111.24H412.01V117.90H409.99V122.63H407.98V121.62H405.96V112.66H403.94V110.95H401.92V108.52H399.91V109.70H397.89V110.69H395.87V109.18H393.85V108.05H391.84V108.05H389.82V111.47H387.80V115.50H385.79V129.69H383.77V131.87H381.75V127.70H379.73V115.01H377.72V110.04H375.70V112.57H373.68V115.90H371.66V118.59H369.65V115.20H367.63V115.23H365.61V117.40H363.60V122.57H361.58V130.43H359.56V135.75H357.54V131.11H355.53V126.39H353.51V120.28H351.49V119.27H349.47V118.85H347.46V118.84H345.44V117.88H343.42V117.08H341.40V118.02H339.39V124.40H337.37V132.73H335.35V138.43H333.34V137.10H331.32V131.08H329.30V127.74H327.28V129.48H325.27V126.45H323.25V123.32H321.23V120.09H319.21V122.29H317.20V125.83H315.18V130.87H313.16V135.60H311.15V139.78H309.13V139.93H307.11V137.91H305.09V131.48H303.08V132.65H301.06V133.86H299.04V134.66H297.02V133.73H295.01V131.21H292.99V133.50H290.97V140.61H288.96V146.51H286.94V147.09H284.92V144.07H282.90V141.55H280.89V135.81H278.87V138.17H276.85V141.08H274.83V143.50H272.82V143.77H270.80V142.97H268.78V145.19H266.76V148.85H264.75V155.47H262.73V151.22H260.71V146.68H258.70V140.09H256.68V134.18H254.66V128.72H252.64V119.67H250.63V114.94H248.61V114.06H246.59V115.46H244.57V120.61H242.56V123.30H240.54V129.77H238.52V130.40H236.51V128.43H234.49V124.08H232.47V122.57H230.45V122.49H228.44V123.46H226.42V124.76H224.40V126.21H222.38V128.39H220.37V130.81H218.35V134.17H216.33V137.23H214.31V139.24H212.30V136.75H210.28V133.18H208.26V130.40H206.25V130.20H204.23V129.99H202.21V130.15H200.19V130.40H198.18V132.23H196.16V134.25H194.14V137.06H192.12V139.83H190.11V141.85H188.09V141.12H186.07V138.08H184.06V134.45H182.04V134.67H180.02V135.48H178.00V136.15H175.99V136.73H173.97V137.30H171.95V141.57H169.93V143.37H167.92V144.17H165.90V146.55H163.88V146.84H161.87V146.03H159.85V142.73H157.83V141.51H155.81V141.92H153.80V142.33H151.78V142.73H149.76V142.23H147.74V146.23H145.73V147.55H143.71V148.35H141.69V150.57H139.67V151.72H137.66V151.11H135.64V147.64H133.62V147.64H131.61V147.70H129.59V148.04H127.57V148.37H125.55V149.59H123.54V151.22H121.52V153.40H119.50V155.27H117.48V156.78H115.47V156.43H113.45V154.79H111.43V152.18H109.42V151.85H107.40V151.51H105.38V151.66H103.36V151.83H101.35V152.56H99.33V154.74H97.31V156.57H95.29V157.78H93.28V159.28H91.26V161.15H89.24V160.80H87.22V157.74H85.21V155.97H83.19V155.12H81.17V155.28H79.16V156.01H77.14V157.16H75.12V158.31H73.10V157.24H71.09V155.90H69.07V156.31H67.05V157.93H65.03V157.42H63.02V155.93H61.00Z"/><path fill="#4472C4" d="M61.00,176.00H63.02V176.00H65.03V176.00H67.05V176.00H69.07V176.00H71.09V176.00H73.10V176.00H75.12V176.00H77.14V176.00H79.16V176.00H81.17V176.00H83.19V176.00H85.21V176.00H87.22V176.00H89.24V176.00H91.26V176.00H93.28V176.00H95.29V176.00H97.31V176.00H99.33V176.00H101.35V176.00H103.36V176.00H105.38V176.00H107.40V176.00H109.42V176.00H111.43V176.00H113.45V176.00H115.47V176.00H117.48V176.00H119.50V176.00H121.52V176.00H123.54V176.00H125.55V176.00H127.57V176.00H129.59V176.00H131.61V176.00H133.62V176.00H135.64V176.00H137.66V176.00H139.67V176.00H141.69V176.00H143.71V176.00H145.73V176.00H147.74V176.00H149.76V176.00H151.78V176.00H153.80V176.00H155.81V176.00H157.83V176.00H159.85V176.00H161.87V176.00H163.88V176.00H165.90V176.00H167.92V176.00H169.93V176.00H171.95V176.00H173.97V176.00H175.99V176.00H178.00V176.00H180.02V176.00H182.04V176.00H184.06V176.00H186.07V176.00H188.09V176.00H190.11V176.00H192.12V176.00H194.14V176.00H196.16V176.00H198.18V176.00H200.19V176.00H202.21V176.00H204.23V176.00H206.25V176.00H208.26V176.00H210.28V176.00H212.30V176.00H214.31V176.00H216.33V176.00H218.35V176.00H220.37V176.00H222.38V176.00H224.40V176.00H226.42V176.00H228.44V176.00H230.45V176.00H232.47V176.00H234.49V176.00H236.51V176.00H238.52V176.00H240.54V176.00H242.56V176.00H244.57V176.00H246.59V176.00H248.61V176.00H250.63V176.00H252.64V176.00H254.66V176.00H256.68V176.00H258.70V176.00H260.71V176.00H262.73V176.00H264.75V176.00H266.76V176.00H268.78V176.00H270.80V176.00H272.82V176.00H274.83V176.00H276.85V176.00H278.87V176.00H280.89V176.00H282.90V176.00H284.92V176.00H286.94V176.00H288.96V176.00H290.97V176.00H292.99V176.00H295.01V176.00H297.02V176.00H299.04V176.00H301.06V176.00H303.08V176.00H305.09V176.00H307.11V176.00H309.13V176.00H311.15V176.00H313.16V176.00H315.18V176.00H317.20V176.00H319.21V176.00H321.23V176.00H323.25V176.00H325.27V176.00H327.28V176.00H329.30V176.00H331.32V176.00H333.34V176.00H335.35V176.00H337.37V176.00H339.39V176.00H341.40V176.00H343.42V176.00H345.44V176.00H347.46V176.00H349.47V176.00H351.49V176.00H353.51V176.00H355.53V176.00H357.54V176.00H359.56V176.00H361.58V176.00H363.60V176.00H365.61V176.00H367.63V176.00H369.65V176.00H371.66V176.00H373.68V176.00H375.70V176.00H377.72V176.00H379.73V176.00H381.75V176.00H383.77V176.00H385.79V176.00H387.80V176.00H389.82V176.00H391.84V176.00H393.85V176.00H395.87V176.00H397.89V176.00H399.91V176.00H401.92V176.00H403.94V176.00H405.96V176.00H407.98V176.00H409.99V176.00H412.01V176.00H414.03V176.00H416.04V176.00H418.06V176.00H420.08V176.00H422.10V176.00H424.11V176.00H426.13V176.00H428.15V176.00H430.17V176.00H432.18V176.00H434.20V176.00H436.22V176.00H438.24V176.00H440.25V176.00H442.27V176.00H444.29V176.00H446.30V176.00H448.32V176.00H450.34V176.00H452.36V176.00H454.37V176.00H456.39V176.00H458.41V176.00H460.43V176.00H462.44V176.00H464.46V176.00H466.48V176.00H468.49V176.00H470.51V176.00H472.53V176.00H474.55V176.00H476.56V176.00H478.58V176.00H480.60V176.00H482.62V176.00H484.63V176.00H486.65V176.00H488.67V176.00H490.69V176.00H492.70V176.00H494.72V176.00H496.74V176.00H498.75V176.00H500.77V176.00H502.79V176.00H504.81V176.00H506.82V176.00H508.84V176.00H510.86V176.00H512.88V176.00H514.89V176.00H516.91V176.00H518.93V176.00H520.94V176.00H522.96V176.00H524.98V176.00H527.00V176.00H529.01V176.00H531.03V176.00H533.05V176.00H535.07V176.00H537.08V176.00H539.10V176.00H541.12V176.00H543.13V176.00H545.15V176.00H547.17V176.00H549.19V176.00H551.20V176.00H553.22V176.00H555.24V176.00H557.26V176.00H559.27V176.00H561.29V176.00H563.31V176.00H565.33V176.00H567.34V176.00H569.36V176.00H571.38V176.00H573.39V176.00H575.41V176.00H577.43V176.00H579.45V176.00H581.46V176.00H583.48V176.00H585.50V176.00H587.52V176.00H589.53V176.00H591.55V176.00H593.57V176.00H595.58V176.00H597.60V176.00H599.62V176.00H601.64V176.00H603.65V176.00H605.67V176.00H607.69V176.00H609.71V176.00H611.72V176.00H613.74V176.00H615.76V176.00H617.78V176.00H619.79V176.00H621.81V176.00H623.83V176.00H625.84V176.00H627.86V176.00H629.88V176.00H631.90V176.00H633.91V176.00H635.93V176.00H637.95V176.00H639.97V176.00H641.98V176.00H644.00V243.08H641.98V242.71H639.97V242.33H637.95V240.98H635.93V239.36H633.91V237.51H631.90V235.49H629.88V232.86H627.86V229.33H625.84V227.77H623.83V227.26H621.81V228.66H619.79V230.27H617.78V231.60H615.76V232.81H613.74V233.20H611.72V232.80H609.71V232.01H607.69V230.40H605.67V228.67H603.65V226.15H601.64V225.15H599.62V226.77H597.60V228.52H595.58V230.94H593.57V233.36H591.55V234.60H589.53V235.81H587.52V236.86H585.50V237.87H583.48V238.65H581.46V238.25H579.45V237.85H577.43V236.86H575.41V235.85H573.39V235.31H571.38V235.71H569.36V235.97H567.34V235.30H565.33V234.62H563.31V233.48H561.29V231.86H559.27V230.00H557.26V227.58H555.24V225.29H553.22V223.98H551.20V223.67H549.19V225.12H547.17V226.53H545.15V227.74H543.13V228.95H541.12V228.19H539.10V227.39H537.08V226.41H535.07V222.37H533.05V217.85H531.03V214.34H529.01V212.99H527.00V213.95H524.98V215.25H522.96V218.27H520.94V220.99H518.93V223.01H516.91V223.84H514.89V223.33H512.88V221.87H510.86V219.85H508.84V217.83H506.82V215.81H504.81V215.49H502.79V217.05H500.77V220.08H498.75V222.66H496.74V224.18H494.72V224.63H492.70V223.83H490.69V222.82H488.67V220.81H486.65V218.79H484.63V216.34H482.62V213.91H480.60V214.58H478.58V216.13H476.56V218.15H474.55V219.18H472.53V219.98H470.51V220.16H468.49V219.76H466.48V219.17H464.46V217.96H462.44V216.75H460.43V214.32H458.41V212.04H456.39V212.04H454.37V212.35H452.36V213.56H450.34V214.77H448.32V215.98H446.30V217.19H444.29V217.30H442.27V216.86H440.25V215.77H438.24V214.15H436.22V212.56H434.20V211.05H432.18V210.53H430.17V211.34H428.15V212.25H426.13V213.86H424.11V215.48H422.10V216.75H420.08V217.96H418.06V218.30H416.04V217.90H414.03V217.19H412.01V215.58H409.99V213.97H407.98V212.45H405.96V211.23H403.94V212.24H401.92V213.53H399.91V215.55H397.89V216.89H395.87V217.40H393.85V217.10H391.84V216.29H389.82V215.23H387.80V213.62H385.79V212.01H383.77V210.50H381.75V209.35H379.73V209.86H377.72V210.71H375.70V212.22H373.68V213.74H371.66V215.25H369.65V214.92H367.63V213.71H365.61V212.20H363.60V210.18H361.58V208.98H359.56V208.48H357.54V209.19H355.53V210.40H353.51V211.78H351.49V213.39H349.47V214.97H347.46V216.29H345.44V217.59H343.42V217.08H341.40V216.32H339.39V214.30H337.37V212.63H335.35V211.62H333.34V211.71H331.32V212.93H329.30V214.14H327.28V215.35H325.27V216.56H323.25V217.40H321.23V218.21H319.21V217.53H317.20V215.91H315.18V213.85H313.16V210.82H311.15V209.02H309.13V208.51H307.11V209.12H305.09V210.33H303.08V211.68H301.06V213.29H299.04V214.79H297.02V214.28H295.01V213.44H292.99V211.43H290.97V209.41H288.96V206.92H286.94V204.58H284.92V204.08H282.90V203.91H280.89V204.72H278.87V205.52H276.85V206.04H274.83V206.29H272.82V204.78H270.80V202.98H268.78V200.46H266.76V198.35H264.75V196.89H262.73V197.43H260.71V199.75H258.70V203.79H256.68V209.84H254.66V215.90H252.64V220.01H250.63V222.64H248.61V223.52H246.59V222.31H244.57V220.89H242.56V218.37H240.54V216.44H238.52V215.73H236.51V216.21H234.49V217.92H232.47V219.51H230.45V221.02H228.44V220.97H226.42V220.56H224.40V219.74H222.38V218.53H220.37V217.25H218.35V215.74H216.33V214.54H214.31V213.83H212.30V214.28H210.28V215.65H208.26V217.19H206.25V219.21H204.23V221.01H202.21V222.52H200.19V222.56H198.18V221.55H196.16V219.40H194.14V216.88H192.12V215.47H190.11V214.37H188.09V215.83H186.07V217.28H184.06V218.86H182.04V220.47H180.02V220.56H178.00V219.04H175.99V217.46H173.97V215.85H171.95V214.24H169.93V212.62H167.92V211.08H165.90V210.57H163.88V210.46H161.87V211.67H159.85V212.88H157.83V213.47H155.81V213.96H153.80V213.56H151.78V213.00H149.76V211.49H147.74V209.91H145.73V208.30H143.71V206.52H141.69V204.66H139.67V203.71H137.66V203.45H135.64V204.49H133.62V205.38H131.61V205.94H129.59V205.98H127.57V205.30H125.55V204.59H123.54V203.58H121.52V202.57H119.50V201.73H117.48V200.92H115.47V201.33H113.45V201.96H111.43V202.76H109.42V203.18H107.40V203.18H105.38V203.03H103.36V202.22H101.35V201.19H99.33V199.58H97.31V198.11H95.29V196.90H93.28V195.69H91.26V194.48H89.24V195.50H87.22V196.71H85.21V197.92H83.19V198.71H81.17V199.05H79.16V199.14H77.14V198.13H75.12V197.12H73.10V196.71H71.09V196.37H69.07V196.83H67.05V197.84H65.03V198.82H63.02V199.74H61.00Z"/><path fill="#ED7D31" d="M61.00,199.74H63.02V198.82H65.03V197.84H67.05V196.83H69.07V196.37H71.09V196.71H73.10V197.12H75.12V198.13H77.14V199.14H79.16V199.05H81.17V198.71H83.19V197.92H85.21V196.71H87.22V195.50H89.24V194.48H91.26V195.69H93.28V196.90H95.29V198.11H97.31V199.58H99.33V201.19H101.35V202.22H103.36V203.03H105.38V203.18H107.40V203.18H109.42V202.76H111.43V201.96H113.45V201.33H115.47V200.92H117.48V201.73H119.50V202.57H121.52V203.58H123.54V204.59H125.55V205.30H127.57V205.98H129.59V205.94H131.61V205.38H133.62V204.49H135.64V203.45H137.66V203.71H139.67V204.66H141.69V206.52H143.71V208.30H145.73V209.91H147.74V211.49H149.76V213.00H151.78V213.56H153.80V213.96H155.81V213.47H157.83V212.88H159.85V211.67H161.87V210.46H163.88V210.57H165.90V211.08H167.92V212.62H169.93V214.24H171.95V215.85H173.97V217.46H175.99V219.04H178.00V220.56H180.02V220.47H182.04V218.86H184.06V217.28H186.07V215.83H188.09V214.37H190.11V215.47H192.12V216.88H194.14V219.40H196.16V221.55H198.18V222.56H200.19V222.52H202.21V221.01H204.23V219.21H206.25V217.19H208.26V215.65H210.28V214.28H212.30V213.83H214.31V214.54H216.33V215.74H218.35V217.25H220.37V218.53H222.38V219.74H224.40V220.56H226.42V220.97H228.44V221.02H230.45V219.51H232.47V217.92H234.49V216.21H236.51V215.73H238.52V216.44H240.54V218.37H242.56V220.89H244.57V222.31H246.59V223.52H248.61V222.64H250.63V220.01H252.64V215.90H254.66V209.84H256.68V203.79H258.70V199.75H260.71V197.43H262.73V196.89H264.75V198.35H266.76V200.46H268.78V202.98H270.80V204.78H272.82V206.29H274.83V206.04H276.85V205.52H278.87V204.72H280.89V203.91H282.90V204.08H284.92V204.58H286.94V206.92H288.96V209.41H290.97V211.43H292.99V213.44H295.01V214.28H297.02V214.79H299.04V213.29H301.06V211.68H303.08V210.33H305.09V209.12H307.11V208.51H309.13V209.02H311.15V210.82H313.16V213.85H315.18V215.91H317.20V217.53H319.21V218.21H321.23V217.40H323.25V216.56H325.27V215.35H327.28V214.14H329.30V212.93H331.32V211.71H333.34V211.62H335.35V212.63H337.37V214.30H339.39V216.32H341.40V217.08H343.42V217.59H345.44V216.29H347.46V214.97H349.47V213.39H351.49V211.78H353.51V210.40H355.53V209.19H357.54V208.48H359.56V208.98H361.58V210.18H363.60V212.20H365.61V213.71H367.63V214.92H369.65V215.25H371.66V213.74H373.68V212.22H375.70V210.71H377.72V209.86H379.73V209.35H381.75V210.50H383.77V212.01H385.79V213.62H387.80V215.23H389.82V216.29H391.84V217.10H393.85V217.40H395.87V216.89H397.89V215.55H399.91V213.53H401.92V212.24H403.94V211.23H405.96V212.45H407.98V213.97H409.99V215.58H412.01V217.19H414.03V217.90H416.04V218.30H418.06V217.96H420.08V216.75H422.10V215.48H424.11V213.86H426.13V212.25H428.15V211.34H430.17V210.53H432.18V211.05H434.20V212.56H436.22V214.15H438.24V215.77H440.25V216.86H442.27V217.30H444.29V217.19H446.30V215.98H448.32V214.77H450.34V213.56H452.36V212.35H454.37V212.04H456.39V212.04H458.41V214.32H460.43V216.75H462.44V217.96H464.46V219.17H466.48V219.76H468.49V220.16H470.51V219.98H472.53V219.18H474.55V218.15H476.56V216.13H478.58V214.58H480.60V213.91H482.62V216.34H484.63V218.79H486.65V220.81H488.67V222.82H490.69V223.83H492.70V224.63H494.72V224.18H496.74V222.66H498.75V220.08H500.77V217.05H502.79V215.49H504.81V215.81H506.82V217.83H508.84V219.85H510.86V221.87H512.88V223.33H514.89V223.84H516.91V223.01H518.93V220.99H520.94V218.27H522.96V215.25H524.98V213.95H527.00V212.99H529.01V214.34H531.03V217.85H533.05V222.37H535.07V226.41H537.08V227.39H539.10V228.19H541.12V228.95H543.13V227.74H545.15V226.53H547.17V225.12H549.19V223.67H551.20V223.98H553.22V225.29H555.24V227.58H557.26V230.00H559.27V231.86H561.29V233.48H563.31V234.62H565.33V235.30H567.34V235.97H569.36V235.71H571.38V235.31H573.39V235.85H575.41V236.86H577.43V237.85H579.45V238.25H581.46V238.65H583.48V237.87H585.50V236.86H587.52V235.81H589.53V234.60H591.55V233.36H593.57V230.94H595.58V228.52H597.60V226.77H599.62V225.15H601.64V226.15H603.65V228.67H605.67V230.40H607.69V232.01H609.71V232.80H611.72V233.20H613.74V232.81H615.76V231.60H617.78V230.27H619.79V228.66H621.81V227.26H623.83V227.77H625.84V229.33H627.86V232.86H629.88V235.49H631.90V237.51H633.91V239.36H635.93V240.98H637.95V242.33H639.97V242.71H641.98V243.08H644.00V243.08H641.98V242.71H639.97V242.33H637.95V240.98H635.93V239.36H633.91V237.51H631.90V235.49H629.88V232.86H627.86V229.33H625.84V227.77H623.83V227.26H621.81V228.66H619.79V230.27H617.78V231.60H615.76V232.81H613.74V233.20H611.72V232.80H609.71V232.01H607.69V230.40H605.67V228.67H603.65V226.15H601.64V225.15H599.62V226.77H597.60V228.52H595.58V230.94H593.57V233.36H591.55V234.60H589.53V235.81H587.52V236.86H585.50V237.87H583.48V238.65H581.46V238.25H579.45V237.85H577.43V236.86H575.41V235.85H573.39V235.31H571.38V235.71H569.36V235.97H567.34V235.30H565.33V234.62H563.31V233.48H561.29V231.86H559.27V230.00H557.26V227.58H555.24V225.29H553.22V223.98H551.20V223.67H549.19V225.12H547.17V226.53H545.15V227.74H543.13V228.95H541.12V228.19H539.10V227.39H537.08V226.41H535.07V222.37H533.05V217.85H531.03V214.34H529.01V212.99H527.00V213.95H524.98V215.25H522.96V218.27H520.94V220.99H518.93V223.06H516.91V223.94H514.89V223.49H512.88V222.07H510.86V220.10H508.84V218.14H506.82V216.17H504.81V215.90H502.79V217.51H500.77V220.58H498.75V223.18H496.74V224.70H494.72V225.17H492.70V224.38H490.69V223.39H488.67V221.39H486.65V219.39H484.63V216.95H482.62V214.53H480.60V215.22H478.58V216.78H476.56V218.81H474.55V219.85H472.53V220.67H470.51V220.86H468.49V220.47H466.48V219.90H464.46V218.70H462.44V217.51H460.43V215.09H458.41V212.82H456.39V212.83H454.37V213.16H452.36V214.39H450.34V215.61H448.32V216.83H446.30V218.06H444.29V218.18H442.27V217.75H440.25V216.67H438.24V215.05H436.22V213.46H434.20V211.95H432.18V211.43H430.17V212.24H428.15V213.15H426.13V214.76H424.11V216.38H422.10V217.65H420.08V218.86H418.06V219.20H416.04V218.80H414.03V218.09H412.01V216.48H409.99V214.87H407.98V213.35H405.96V212.13H403.94V213.14H401.92V214.43H399.91V216.45H397.89V217.79H395.87V218.30H393.85V218.00H391.84V217.19H389.82V216.13H387.80V214.52H385.79V212.91H383.77V211.40H381.75V210.25H379.73V210.76H377.72V211.61H375.70V213.12H373.68V214.64H371.66V216.15H369.65V215.82H367.63V214.61H365.61V213.10H363.60V211.08H361.58V209.88H359.56V209.38H357.54V210.09H355.53V211.30H353.51V212.68H351.49V214.29H349.47V215.87H347.46V217.19H345.44V218.49H343.42V217.98H341.40V217.22H339.39V215.20H337.37V213.53H335.35V212.52H333.34V212.61H331.32V213.83H329.30V215.04H327.28V216.25H325.27V217.46H323.25V218.30H321.23V219.11H319.21V218.43H317.20V216.81H315.18V214.75H313.16V211.72H311.15V209.92H309.13V209.41H307.11V210.02H305.09V211.23H303.08V212.58H301.06V214.19H299.04V215.69H297.02V215.18H295.01V214.34H292.99V212.33H290.97V210.31H288.96V207.82H286.94V205.48H284.92V204.98H282.90V204.81H280.89V205.62H278.87V206.42H276.85V206.94H274.83V207.19H272.82V205.68H270.80V203.88H268.78V201.36H266.76V199.25H264.75V197.79H262.73V198.33H260.71V200.65H258.70V204.69H256.68V210.74H254.66V216.80H252.64V220.91H250.63V223.54H248.61V224.42H246.59V223.21H244.57V221.79H242.56V219.27H240.54V217.34H238.52V216.63H236.51V217.11H234.49V218.82H232.47V220.41H230.45V221.92H228.44V221.87H226.42V221.46H224.40V220.64H222.38V219.43H220.37V218.15H218.35V216.64H216.33V215.44H214.31V214.73H212.30V215.18H210.28V216.55H208.26V218.09H206.25V220.11H204.23V221.91H202.21V223.42H200.19V223.46H198.18V222.45H196.16V220.30H194.14V217.78H192.12V216.37H190.11V215.27H188.09V216.73H186.07V218.18H184.06V219.76H182.04V221.37H180.02V221.46H178.00V219.94H175.99V218.36H173.97V216.75H171.95V215.14H169.93V213.52H167.92V211.98H165.90V211.47H163.88V211.36H161.87V212.57H159.85V213.78H157.83V214.37H155.81V214.86H153.80V214.46H151.78V213.90H149.76V212.38H147.74V210.80H145.73V209.18H143.71V207.38H141.69V205.52H139.67V204.56H137.66V204.29H135.64V205.33H133.62V206.20H131.61V206.76H129.59V206.78H127.57V206.10H125.55V205.37H123.54V204.36H121.52V203.34H119.50V202.49H117.48V201.67H115.47V202.07H113.45V202.69H111.43V203.48H109.42V203.89H107.40V203.88H105.38V203.72H103.36V202.91H101.35V201.87H99.33V200.24H97.31V198.77H95.29V197.55H93.28V196.33H91.26V195.11H89.24V196.12H87.22V197.32H85.21V198.52H83.19V199.31H81.17V199.63H79.16V199.71H77.14V198.69H75.12V197.68H73.10V197.26H71.09V196.91H69.07V197.37H67.05V198.37H65.03V199.34H63.02V200.25H61.00Z"/><path fill="#A5A5A5" d="M61.00,200.25H63.02V199.34H65.03V198.37H67.05V197.37H69.07V196.91H71.09V197.26H73.10V197.68H75.12V198.69H77.14V199.71H79.16V199.63H81.17V199.31H83.19V198.52H85.21V197.32H87.22V196.12H89.24V195.11H91.26V196.33H93.28V197.55H95.29V198.77H97.31V200.24H99.33V201.87H101.35V202.91H103.36V203.72H105.38V203.88H107.40V203.89H109.42V203.48H111.43V202.69H113.45V202.07H115.47V201.67H117.48V202.49H119.50V203.34H121.52V204.36H123.54V205.37H125.55V206.10H127.57V206.78H129.59V206.76H131.61V206.20H133.62V205.33H135.64V204.29H137.66V204.56H139.67V205.52H141.69V207.38H143.71V209.18H145.73V210.80H147.74V212.38H149.76V213.90H151.78V214.46H153.80V214.86H155.81V214.37H157.83V213.78H159.85V212.57H161.87V211.36H163.88V211.47H165.90V211.98H167.92V213.52H169.93V215.14H171.95V216.75H173.97V218.36H175.99V219.94H178.00V221.46H180.02V221.37H182.04V219.76H184.06V218.18H186.07V216.73H188.09V215.27H190.11V216.37H192.12V217.78H194.14V220.30H196.16V222.45H198.18V223.46H200.19V223.42H202.21V221.91H204.23V220.11H206.25V218.09H208.26V216.55H210.28V215.18H212.30V214.73H214.31V215.44H216.33V216.64H218.35V218.15H220.37V219.43H222.38V220.64H224.40V221.46H226.42V221.87H228.44V221.92H230.45V220.41H232.47V218.82H234.49V217.11H236.51V216.63H238.52V217.34H240.54V219.27H242.56V221.79H244.57V223.21H246.59V224.42H248.61V223.54H250.63V220.91H252.64V216.80H254.66V210.74H256.68V204.69H258.70V200.65H260.71V198.33H262.73V197.79H264.75V199.25H266.76V201.36H268.78V203.88H270.80V205.68H272.82V207.19H274.83V206.94H276.85V206.42H278.87V205.62H280.89V204.81H282.90V204.98H284.92V205.48H286.94V207.82H288.96V210.31H290.97V212.33H292.99V214.34H295.01V215.18H297.02V215.69H299.04V214.19H301.06V212.58H303.08V211.23H305.09V210.02H307.11V209.41H309.13V209.92H311.15V211.72H313.16V214.75H315.18V216.81H317.20V218.43H319.21V219.11H321.23V218.30H323.25V217.46H325.27V216.25H327.28V215.04H329.30V213.83H331.32V212.61H333.34V212.52H335.35V213.53H337.37V215.20H339.39V217.22H341.40V217.98H343.42V218.49H345.44V217.19H347.46V215.87H349.47V214.29H351.49V212.68H353.51V211.30H355.53V210.09H357.54V209.38H359.56V209.88H361.58V211.08H363.60V213.10H365.61V214.61H367.63V215.82H369.65V216.15H371.66V214.64H373.68V213.12H375.70V211.61H377.72V210.76H379.73V210.25H381.75V211.40H383.77V212.91H385.79V214.52H387.80V216.13H389.82V217.19H391.84V218.00H393.85V218.30H395.87V217.79H397.89V216.45H399.91V214.43H401.92V213.14H403.94V212.13H405.96V213.35H407.98V214.87H409.99V216.48H412.01V218.09H414.03V218.80H416.04V219.20H418.06V218.86H420.08V217.65H422.10V216.38H424.11V214.76H426.13V213.15H428.15V212.24H430.17V211.43H432.18V211.95H434.20V213.46H436.22V215.05H438.24V216.67H440.25V217.75H442.27V218.18H444.29V218.06H446.30V216.83H448.32V215.61H450.34V214.39H452.36V213.16H454.37V212.83H456.39V212.82H458.41V215.09H460.43V217.51H462.44V218.70H464.46V219.90H466.48V220.47H468.49V220.86H470.51V220.67H472.53V219.85H474.55V218.81H476.56V216.78H478.58V215.22H480.60V214.53H482.62V216.95H484.63V219.39H486.65V221.39H488.67V223.39H490.69V224.38H492.70V225.17H494.72V224.70H496.74V223.18H498.75V220.58H500.77V217.51H502.79V215.90H504.81V216.17H506.82V218.14H508.84V220.10H510.86V222.07H512.88V223.49H514.89V223.94H516.91V223.06H518.93V220.99H520.94V218.27H522.96V215.25H524.98V213.95H527.00V212.99H529.01V214.34H531.03V217.85H533.05V222.37H535.07V226.41H537.08V227.39H539.10V228.19H541.12V228.95H543.13V227.74H545.15V226.53H547.17V225.12H549.19V223.67H551.20V223.98H553.22V225.29H555.24V227.58H557.26V230.00H559.27V231.86H561.29V233.48H563.31V234.62H565.33V235.30H567.34V235.97H569.36V235.71H571.38V235.31H573.39V235.85H575.41V236.86H577.43V237.85H579.45V238.25H581.46V238.65H583.48V237.87H585.50V236.86H587.52V235.81H589.53V234.60H591.55V233.36H593.57V230.94H595.58V228.52H597.60V226.77H599.62V225.15H601.64V226.15H603.65V228.67H605.67V230.40H607.69V232.01H609.71V232.80H611.72V233.20H613.74V232.81H615.76V231.60H617.78V230.27H619.79V228.66H621.81V227.26H623.83V227.77H625.84V229.33H627.86V232.86H629.88V235.49H631.90V237.51H633.91V239.36H635.93V240.98H637.95V242.33H639.97V242.71H641.98V243.08H644.00V243.68H641.98V243.31H639.97V242.93H637.95V241.58H635.93V239.96H633.91V238.11H631.90V236.09H629.88V233.46H627.86V229.93H625.84V228.37H623.83V227.86H621.81V229.26H619.79V230.87H617.78V232.20H615.76V233.41H613.74V233.80H611.72V233.40H609.71V232.61H607.69V231.00H605.67V229.27H603.65V226.75H601.64V225.75H599.62V227.37H597.60V229.12H595.58V231.54H593.57V233.96H591.55V235.20H589.53V236.41H587.52V237.46H585.50V238.47H583.48V239.25H581.46V238.85H579.45V238.45H577.43V237.46H575.41V236.45H573.39V235.91H571.38V236.31H569.36V236.57H567.34V235.90H565.33V235.22H563.31V234.08H561.29V232.46H559.27V230.60H557.26V228.18H555.24V225.89H553.22V224.58H551.20V224.27H549.19V225.72H547.17V227.13H545.15V228.34H543.13V229.55H541.12V228.79H539.10V227.99H537.08V227.01H535.07V222.95H533.05V218.36H531.03V214.79H529.01V213.38H527.00V214.28H524.98V215.52H522.96V218.48H520.94V221.14H518.93V223.15H516.91V223.97H514.89V223.49H512.88V222.07H510.86V220.10H508.84V218.14H506.82V216.17H504.81V215.90H502.79V217.51H500.77V220.58H498.75V223.18H496.74V224.70H494.72V225.17H492.70V224.38H490.69V223.39H488.67V221.39H486.65V219.39H484.63V216.95H482.62V214.53H480.60V215.22H478.58V216.78H476.56V218.81H474.55V219.85H472.53V220.67H470.51V220.86H468.49V220.47H466.48V219.90H464.46V218.70H462.44V217.51H460.43V215.09H458.41V212.82H456.39V212.83H454.37V213.16H452.36V214.39H450.34V215.61H448.32V216.83H446.30V218.06H444.29V218.18H442.27V217.75H440.25V216.67H438.24V215.05H436.22V213.46H434.20V211.95H432.18V211.43H430.17V212.24H428.15V213.15H426.13V214.76H424.11V216.38H422.10V217.65H420.08V218.86H418.06V219.20H416.04V218.80H414.03V218.09H412.01V216.48H409.99V214.87H407.98V213.35H405.96V212.13H403.94V213.14H401.92V214.43H399.91V216.45H397.89V217.79H395.87V218.30H393.85V218.00H391.84V217.19H389.82V216.13H387.80V214.52H385.79V212.91H383.77V211.40H381.75V210.25H379.73V210.76H377.72V211.61H375.70V213.12H373.68V214.64H371.66V216.15H369.65V215.82H367.63V214.61H365.61V213.10H363.60V211.08H361.58V209.88H359.56V209.38H357.54V210.09H355.53V211.30H353.51V212.68H351.49V214.29H349.47V215.87H347.46V217.19H345.44V218.49H343.42V217.98H341.40V217.22H339.39V215.20H337.37V213.53H335.35V212.52H333.34V212.61H331.32V213.83H329.30V215.04H327.28V216.25H325.27V217.46H323.25V218.30H321.23V219.11H319.21V218.43H317.20V216.81H315.18V214.75H313.16V211.72H311.15V209.92H309.13V209.41H307.11V210.02H305.09V211.23H303.08V212.58H301.06V214.19H299.04V215.69H297.02V215.18H295.01V214.34H292.99V212.33H290.97V210.31H288.96V207.82H286.94V205.48H284.92V204.98H282.90V204.81H280.89V205.62H278.87V206.42H276.85V206.94H274.83V207.19H272.82V205.68H270.80V203.88H268.78V201.36H266.76V199.25H264.75V197.79H262.73V198.33H260.71V200.65H258.70V204.69H256.68V210.74H254.66V216.80H252.64V220.91H250.63V223.54H248.61V224.42H246.59V223.21H244.57V221.79H242.56V219.27H240.54V217.34H238.52V216.63H236.51V217.11H234.49V218.82H232.47V220.41H230.45V221.92H228.44V221.87H226.42V221.46H224.40V220.64H222.38V219.43H220.37V218.15H218.35V216.64H216.33V215.44H214.31V214.73H212.30V215.18H210.28V216.55H208.26V218.09H206.25V220.11H204.23V221.91H202.21V223.42H200.19V223.46H198.18V222.45H196.16V220.30H194.14V217.78H192.12V216.37H190.11V215.27H188.09V216.73H186.07V218.18H184.06V219.76H182.04V221.37H180.02V221.46H178.00V219.94H175.99V218.36H173.97V216.75H171.95V215.14H169.93V213.52H167.92V211.98H165.90V211.47H163.88V211.36H161.87V212.57H159.85V213.78H157.83V214.37H155.81V214.86H153.80V214.46H151.78V213.90H149.76V212.38H147.74V210.80H145.73V209.18H143.71V207.38H141.69V205.52H139.67V204.56H137.66V204.29H135.64V205.33H133.62V206.20H131.61V206.76H129.59V206.78H127.57V206.10H125.55V205.37H123.54V204.36H121.52V203.34H119.50V202.49H117.48V201.67H115.47V202.07H113.45V202.69H111.43V203.48H109.42V203.89H107.40V203.88H105.38V203.72H103.36V202.91H101.35V201.87H99.33V200.24H97.31V198.77H95.29V197.55H93.28V196.33H91.26V195.11H89.24V196.12H87.22V197.32H85.21V198.52H83.19V199.31H81.17V199.63H79.16V199.71H77.14V198.69H75.12V197.68H73.10V197.26H71.09V196.91H69.07V197.37H67.05V198.37H65.03V199.34H63.02V200.25H61.00Z"/><path fill="#002060" d="M61.00,200.25H63.02V199.34H65.03V198.37H67.05V197.37H69.07V196.91H71.09V197.26H73.10V197.68H75.12V198.69H77.14V199.71H79.16V199.63H81.17V199.31H83.19V198.52H85.21V197.32H87.22V196.12H89.24V195.11H91.26V196.33H93.28V197.55H95.29V198.77H97.31V200.24H99.33V201.87H101.35V202.91H103.36V203.72H105.38V203.88H107.40V203.89H109.42V203.48H111.43V202.69H113.45V202.07H115.47V201.67H117.48V202.49H119.50V203.34H121.52V204.36H123.54V205.37H125.55V206.10H127.57V206.78H129.59V206.76H131.61V206.20H133.62V205.33H135.64V204.29H137.66V204.56H139.67V205.52H141.69V207.38H143.71V209.18H145.73V210.80H147.74V212.38H149.76V213.90H151.78V214.46H153.80V214.86H155.81V214.37H157.83V213.78H159.85V212.57H161.87V211.36H163.88V211.47H165.90V211.98H167.92V213.52H169.93V215.14H171.95V216.75H173.97V218.36H175.99V219.94H178.00V221.46H180.02V221.37H182.04V219.76H184.06V218.18H186.07V216.73H188.09V215.27H190.11V216.37H192.12V217.78H194.14V220.30H196.16V222.45H198.18V223.46H200.19V223.42H202.21V221.91H204.23V220.11H206.25V218.09H208.26V216.55H210.28V215.18H212.30V214.73H214.31V215.44H216.33V216.64H218.35V218.15H220.37V219.43H222.38V220.64H224.40V221.46H226.42V221.87H228.44V221.92H230.45V220.41H232.47V218.82H234.49V217.11H236.51V216.63H238.52V217.34H240.54V219.27H242.56V221.79H244.57V223.21H246.59V224.42H248.61V223.54H250.63V220.91H252.64V216.80H254.66V210.74H256.68V204.69H258.70V200.65H260.71V198.33H262.73V197.79H264.75V199.25H266.76V201.36H268.78V203.88H270.80V205.68H272.82V207.19H274.83V206.94H276.85V206.42H278.87V205.62H280.89V204.81H282.90V204.98H284.92V205.48H286.94V207.82H288.96V210.31H290.97V212.33H292.99V214.34H295.01V215.18H297.02V215.69H299.04V214.19H301.06V212.58H303.08V211.23H305.09V210.02H307.11V209.41H309.13V209.92H311.15V211.72H313.16V214.75H315.18V216.81H317.20V218.43H319.21V219.11H321.23V218.30H323.25V217.46H325.27V216.25H327.28V215.04H329.30V213.83H331.32V212.61H333.34V212.52H335.35V213.53H337.37V215.20H339.39V217.22H341.40V217.98H343.42V218.49H345.44V217.19H347.46V215.87H349.47V214.29H351.49V212.68H353.51V211.30H355.53V210.09H357.54V209.38H359.56V209.88H361.58V211.08H363.60V213.10H365.61V214.61H367.63V215.82H369.65V216.15H371.66V214.64H373.68V213.12H375.70V211.61H377.72V210.76H379.73V210.25H381.75V211.40H383.77V212.91H385.79V214.52H387.80V216.13H389.82V217.19H391.84V218.00H393.85V218.30H395.87V217.79H397.89V216.45H399.91V214.43H401.92V213.14H403.94V212.13H405.96V213.35H407.98V214.87H409.99V216.48H412.01V218.09H414.03V218.80H416.04V219.20H418.06V218.86H420.08V217.65H422.10V216.38H424.11V214.76H426.13V213.15H428.15V212.24H430.17V211.43H432.18V211.95H434.20V213.46H436.22V215.05H438.24V216.67H440.25V217.75H442.27V218.18H444.29V218.06H446.30V216.83H448.32V215.61H450.34V214.39H452.36V213.16H454.37V212.83H456.39V212.82H458.41V215.09H460.43V217.51H462.44V218.70H464.46V219.90H466.48V220.47H468.49V220.86H470.51V220.67H472.53V219.85H474.55V218.81H476.56V216.78H478.58V215.22H480.60V214.53H482.62V216.95H484.63V219.39H486.65V221.39H488.67V223.39H490.69V224.38H492.70V225.17H494.72V224.70H496.74V223.18H498.75V220.58H500.77V217.51H502.79V215.90H504.81V216.17H506.82V218.14H508.84V220.10H510.86V222.07H512.88V223.49H514.89V223.97H516.91V223.15H518.93V221.14H520.94V218.48H522.96V215.52H524.98V214.28H527.00V213.38H529.01V214.79H531.03V218.36H533.05V222.95H535.07V227.01H537.08V227.99H539.10V228.79H541.12V229.55H543.13V228.34H545.15V227.13H547.17V225.72H549.19V224.27H551.20V224.58H553.22V225.89H555.24V228.18H557.26V230.60H559.27V232.46H561.29V234.08H563.31V235.22H565.33V235.90H567.34V236.57H569.36V236.31H571.38V235.91H573.39V236.45H575.41V237.46H577.43V238.45H579.45V238.85H581.46V239.25H583.48V238.47H585.50V237.46H587.52V236.41H589.53V235.20H591.55V233.96H593.57V231.54H595.58V229.12H597.60V227.37H599.62V225.75H601.64V226.75H603.65V229.27H605.67V231.00H607.69V232.61H609.71V233.40H611.72V233.80H613.74V233.41H615.76V232.20H617.78V230.87H619.79V229.26H621.81V227.86H623.83V228.37H625.84V229.93H627.86V233.46H629.88V236.09H631.90V238.11H633.91V239.96H635.93V241.58H637.95V242.93H639.97V243.31H641.98V243.68H644.00V257.91H641.98V257.32H639.97V256.04H637.95V254.43H635.93V252.62H633.91V250.60H631.90V248.30H629.88V245.27H627.86V241.00H625.84V237.06H623.83V238.40H621.81V240.71H619.79V243.13H617.78V244.99H615.76V246.60H613.74V247.18H611.72V246.78H609.71V245.99H607.69V244.38H605.67V242.38H603.65V237.68H601.64V238.40H599.62V240.42H597.60V242.43H595.58V244.45H593.57V246.47H591.55V248.09H589.53V249.70H587.52V251.63H585.50V253.65H583.48V255.48H581.46V256.29H579.45V257.09H577.43V255.51H575.41V253.82H573.39V252.57H571.38V252.16H569.36V251.63H567.34V250.28H565.33V248.94H563.31V247.46H561.29V245.85H559.27V243.85H557.26V241.03H555.24V238.42H553.22V237.41H551.20V237.26H549.19V238.60H547.17V239.95H545.15V240.80H543.13V241.47H541.12V241.87H539.10V239.79H537.08V235.73H535.07V230.18H533.05V224.76H531.03V221.06H529.01V220.38H527.00V222.35H524.98V224.72H522.96V229.26H520.94V233.18H518.93V235.70H516.91V236.80H514.89V236.30H512.88V234.83H510.86V232.81H508.84V230.97H506.82V229.45H504.81V229.04H502.79V229.89H500.77V231.90H498.75V233.63H496.74V234.64H494.72V235.00H492.70V234.60H490.69V233.94H488.67V231.92H486.65V229.90H484.63V227.88H482.62V225.93H480.60V225.93H478.58V227.24H476.56V229.26H474.55V230.62H472.53V231.83H470.51V232.20H468.49V231.79H466.48V231.02H464.46V229.01H462.44V226.99H460.43V224.50H458.41V222.08H456.39V220.56H454.37V219.76H452.36V220.97H450.34V222.18H448.32V223.39H446.30V224.60H444.29V226.47H442.27V228.66H440.25V228.73H438.24V227.11H436.22V225.53H434.20V224.01H432.18V223.49H430.17V224.30H428.15V225.21H426.13V226.83H424.11V228.44H422.10V229.72H420.08V230.93H418.06V231.04H416.04V230.24H414.03V228.93H412.01V226.11H409.99V223.28H407.98V222.19H405.96V221.47H403.94V222.99H401.92V224.78H399.91V227.30H397.89V229.15H395.87V230.16H393.85V229.82H391.84V228.61H389.82V226.89H387.80V224.07H385.79V221.25H383.77V218.73H381.75V216.85H379.73V217.86H377.72V219.22H375.70V221.24H373.68V222.74H371.66V223.75H369.65V222.71H367.63V220.70H365.61V218.87H363.60V217.36H361.58V216.39H359.56V215.89H357.54V216.88H355.53V218.50H353.51V221.11H351.49V225.15H349.47V228.81H347.46V229.68H345.44V230.55H343.42V229.54H341.40V228.27H339.39V225.75H337.37V223.74H335.35V222.73H333.34V222.62H331.32V223.43H329.30V224.40H327.28V226.02H325.27V227.63H323.25V228.88H321.23V230.09H319.21V229.32H317.20V227.30H315.18V224.64H313.16V220.60H311.15V217.79H309.13V216.27H307.11V217.05H305.09V219.06H303.08V221.08H301.06V223.10H299.04V224.97H297.02V224.47H295.01V223.45H292.99V220.63H290.97V217.80H288.96V215.26H286.94V212.92H284.92V212.41H282.90V212.45H280.89V214.06H278.87V215.68H276.85V216.22H274.83V216.42H272.82V214.40H270.80V212.24H268.78V209.72H266.76V207.73H264.75V206.53H262.73V207.20H260.71V209.28H258.70V212.62H256.68V217.33H254.66V226.47H252.64V231.55H250.63V233.30H248.61V233.89H246.59V233.09H244.57V232.08H242.56V230.07H240.54V228.54H238.52V228.04H236.51V228.52H234.49V230.03H232.47V231.21H230.45V232.22H228.44V231.75H226.42V230.94H224.40V229.92H222.38V228.71H220.37V227.44H218.35V225.92H216.33V224.41H214.31V222.90H212.30V223.12H210.28V224.73H208.26V226.32H206.25V227.83H204.23V229.34H202.21V230.86H200.19V231.19H198.18V230.68H196.16V228.66H194.14V226.14H192.12V224.08H190.11V222.35H188.09V223.96H186.07V225.58H184.06V226.88H182.04V228.09H180.02V227.96H178.00V226.45H175.99V224.87H173.97V223.26H171.95V221.64H169.93V220.03H167.92V218.49H165.90V217.98H163.88V217.78H161.87V218.58H159.85V219.39H157.83V220.56H155.81V221.66H153.80V220.85H151.78V219.94H149.76V218.43H147.74V216.61H145.73V214.59H143.71V212.58H141.69V210.56H139.67V209.33H137.66V208.83H135.64V209.79H133.62V210.51H131.61V210.76H129.59V210.61H127.57V209.93H125.55V209.22H123.54V208.21H121.52V207.20H119.50V206.36H117.48V205.55H115.47V205.96H113.45V206.59H111.43V207.39H109.42V207.65H107.40V207.31H105.38V206.88H103.36V206.08H101.35V204.94H99.33V202.92H97.31V201.05H95.29V199.43H93.28V198.09H91.26V197.09H89.24V197.94H87.22V199.02H85.21V200.23H83.19V201.03H81.17V201.36H79.16V201.51H77.14V200.84H75.12V200.17H73.10V199.79H71.09V199.46H69.07V199.72H67.05V200.39H65.03V201.28H63.02V202.65H61.00Z"/><path fill="#FFC000" d="M61.00,202.65H63.02V201.28H65.03V200.39H67.05V199.72H69.07V199.46H71.09V199.79H73.10V200.17H75.12V200.84H77.14V201.51H79.16V201.36H81.17V201.03H83.19V200.23H85.21V199.02H87.22V197.94H89.24V197.09H91.26V198.09H93.28V199.43H95.29V201.05H97.31V202.92H99.33V204.94H101.35V206.08H103.36V206.88H105.38V207.31H107.40V207.65H109.42V207.39H111.43V206.59H113.45V205.96H115.47V205.55H117.48V206.36H119.50V207.20H121.52V208.21H123.54V209.22H125.55V209.93H127.57V210.61H129.59V210.76H131.61V210.51H133.62V209.79H135.64V208.83H137.66V209.33H139.67V210.56H141.69V212.58H143.71V214.59H145.73V216.61H147.74V218.43H149.76V219.94H151.78V220.85H153.80V221.66H155.81V220.56H157.83V219.39H159.85V218.58H161.87V217.78H163.88V217.98H165.90V218.49H167.92V220.03H169.93V221.64H171.95V223.26H173.97V224.87H175.99V226.45H178.00V227.96H180.02V228.09H182.04V226.88H184.06V225.58H186.07V223.96H188.09V222.35H190.11V224.08H192.12V226.14H194.14V228.66H196.16V230.68H198.18V231.19H200.19V230.86H202.21V229.34H204.23V227.83H206.25V226.32H208.26V224.73H210.28V223.12H212.30V222.90H214.31V224.41H216.33V225.92H218.35V227.44H220.37V228.71H222.38V229.92H224.40V230.94H226.42V231.75H228.44V232.22H230.45V231.21H232.47V230.03H234.49V228.52H236.51V228.04H238.52V228.54H240.54V230.07H242.56V232.08H244.57V233.09H246.59V233.89H248.61V233.30H250.63V231.55H252.64V226.47H254.66V217.33H256.68V212.62H258.70V209.28H260.71V207.20H262.73V206.53H264.75V207.73H266.76V209.72H268.78V212.24H270.80V214.40H272.82V216.42H274.83V216.22H276.85V215.68H278.87V214.06H280.89V212.45H282.90V212.41H284.92V212.92H286.94V215.26H288.96V217.80H290.97V220.63H292.99V223.45H295.01V224.47H297.02V224.97H299.04V223.10H301.06V221.08H303.08V219.06H305.09V217.05H307.11V216.27H309.13V217.79H311.15V220.60H313.16V224.64H315.18V227.30H317.20V229.32H319.21V230.09H321.23V228.88H323.25V227.63H325.27V226.02H327.28V224.40H329.30V223.43H331.32V222.62H333.34V222.73H335.35V223.74H337.37V225.75H339.39V228.27H341.40V229.54H343.42V230.55H345.44V229.68H347.46V228.81H349.47V225.15H351.49V221.11H353.51V218.50H355.53V216.88H357.54V215.89H359.56V216.39H361.58V217.36H363.60V218.87H365.61V220.70H367.63V222.71H369.65V223.75H371.66V222.74H373.68V221.24H375.70V219.22H377.72V217.86H379.73V216.85H381.75V218.73H383.77V221.25H385.79V224.07H387.80V226.89H389.82V228.61H391.84V229.82H393.85V230.16H395.87V229.15H397.89V227.30H399.91V224.78H401.92V222.99H403.94V221.47H405.96V222.19H407.98V223.28H409.99V226.11H412.01V228.93H414.03V230.24H416.04V231.04H418.06V230.93H420.08V229.72H422.10V228.44H424.11V226.83H426.13V225.21H428.15V224.30H430.17V223.49H432.18V224.01H434.20V225.53H436.22V227.11H438.24V228.73H440.25V228.66H442.27V226.47H444.29V224.60H446.30V223.39H448.32V222.18H450.34V220.97H452.36V219.76H454.37V220.56H456.39V222.08H458.41V224.50H460.43V226.99H462.44V229.01H464.46V231.02H466.48V231.79H468.49V232.20H470.51V231.83H472.53V230.62H474.55V229.26H476.56V227.24H478.58V225.93H480.60V225.93H482.62V227.88H484.63V229.90H486.65V231.92H488.67V233.94H490.69V234.60H492.70V235.00H494.72V234.64H496.74V233.63H498.75V231.90H500.77V229.89H502.79V229.04H504.81V229.45H506.82V230.97H508.84V232.81H510.86V234.83H512.88V236.30H514.89V236.80H516.91V235.70H518.93V233.18H520.94V229.26H522.96V224.72H524.98V222.35H527.00V220.38H529.01V221.06H531.03V224.76H533.05V230.18H535.07V235.73H537.08V239.79H539.10V241.87H541.12V241.47H543.13V240.80H545.15V239.95H547.17V238.60H549.19V237.26H551.20V237.41H553.22V238.42H555.24V241.03H557.26V243.85H559.27V245.85H561.29V247.46H563.31V248.94H565.33V250.28H567.34V251.63H569.36V252.16H571.38V252.57H573.39V253.82H575.41V255.51H577.43V257.09H579.45V256.29H581.46V255.48H583.48V253.65H585.50V251.63H587.52V249.70H589.53V248.09H591.55V246.47H593.57V244.45H595.58V242.43H597.60V240.42H599.62V238.40H601.64V237.68H603.65V242.38H605.67V244.38H607.69V245.99H609.71V246.78H611.72V247.18H613.74V246.60H615.76V244.99H617.78V243.13H619.79V240.71H621.81V238.40H623.83V237.06H625.84V241.00H627.86V245.27H629.88V248.30H631.90V250.60H633.91V252.62H635.93V254.43H637.95V256.04H639.97V257.32H641.98V257.91H644.00V276.10H641.98V274.24H639.97V272.22H637.95V270.26H635.93V268.29H633.91V266.51H631.90V264.81H629.88V260.98H627.86V256.35H625.84V250.27H623.83V251.01H621.81V253.74H619.79V256.62H617.78V258.39H615.76V259.70H613.74V260.61H611.72V261.13H609.71V261.13H607.69V259.98H605.67V257.15H603.65V252.95H601.64V251.56H599.62V253.36H597.60V255.38H595.58V257.40H593.57V259.41H591.55V261.65H589.53V263.88H587.52V265.64H585.50V267.25H583.48V268.29H581.46V269.10H579.45V269.06H577.43V268.20H575.41V266.26H573.39V264.59H571.38V263.45H569.36V261.25H567.34V259.67H565.33V258.43H563.31V255.90H561.29V252.11H559.27V248.43H557.26V245.13H555.24V243.63H553.22V242.80H551.20V243.02H549.19V244.88H547.17V247.96H545.15V248.00H543.13V246.98H541.12V245.64H539.10V240.92H537.08V236.48H535.07V232.24H533.05V228.12H531.03V225.10H529.01V223.99H527.00V225.94H524.98V228.32H522.96V232.85H520.94V237.17H518.93V240.99H516.91V242.93H514.89V242.74H512.88V241.56H510.86V239.80H508.84V238.01H506.82V236.17H504.81V236.24H502.79V238.34H500.77V241.32H498.75V243.63H496.74V244.31H494.72V244.38H492.70V243.71H490.69V242.78H488.67V240.50H486.65V238.22H484.63V235.88H482.62V233.61H480.60V233.60H478.58V234.92H476.56V236.93H474.55V238.49H472.53V239.95H470.51V240.71H468.49V240.81H466.48V240.43H464.46V238.41H462.44V236.39H460.43V233.00H458.41V229.67H456.39V227.84H454.37V226.85H452.36V228.32H450.34V229.78H448.32V233.08H446.30V231.40H444.29V232.12H442.27V234.04H440.25V234.22H438.24V232.98H436.22V231.55H434.20V229.61H432.18V229.83H430.17V230.85H428.15V230.27H426.13V231.77H424.11V233.26H422.10V234.41H420.08V235.56H418.06V235.68H416.04V234.88H414.03V233.52H412.01V230.50H409.99V227.48H407.98V226.62H405.96V226.19H403.94V228.22H401.92V230.46H399.91V233.24H397.89V235.23H395.87V236.25H393.85V235.91H391.84V234.71H389.82V232.93H387.80V229.91H385.79V226.89H383.77V224.12H381.75V222.03H379.73V223.05H377.72V224.32H375.70V226.09H373.68V227.60H371.66V228.87H369.65V228.06H367.63V226.26H365.61V224.56H363.60V223.06H361.58V222.38H359.56V222.40H357.54V224.43H355.53V227.30H353.51V230.65H351.49V234.70H349.47V238.23H347.46V237.99H345.44V237.73H343.42V236.47H341.40V235.03H339.39V232.78H337.37V230.77H335.35V229.24H333.34V228.99H331.32V230.01H329.30V231.20H327.28V233.03H325.27V234.86H323.25V236.51H321.23V238.15H319.21V237.29H317.20V234.86H315.18V231.41H313.16V225.80H311.15V222.29H309.13V221.05H307.11V221.92H305.09V223.94H303.08V226.03H301.06V228.27H299.04V230.35H297.02V229.85H295.01V228.79H292.99V225.75H290.97V222.72H288.96V219.67H286.94V216.85H284.92V216.35H282.90V216.44H280.89V218.27H278.87V220.10H276.85V220.15H274.83V219.87H272.82V217.86H270.80V215.55H268.78V212.49H266.76V210.20H264.75V208.98H262.73V209.30H260.71V211.77H258.70V215.83H256.68V221.27H254.66V231.82H252.64V239.83H250.63V243.25H248.61V242.08H246.59V240.09H244.57V238.00H242.56V235.44H240.54V233.37H238.52V232.33H236.51V233.06H234.49V235.68H232.47V236.71H230.45V236.90H228.44V236.10H226.42V235.08H224.40V233.84H222.38V232.42H220.37V230.91H218.35V229.12H216.33V227.34H214.31V225.55H212.30V225.65H210.28V227.27H208.26V229.00H206.25V231.07H204.23V233.02H202.21V234.82H200.19V235.11H198.18V234.35H196.16V232.29H194.14V229.79H192.12V227.23H190.11V225.03H188.09V227.13H186.07V229.24H184.06V230.29H182.04V231.05H180.02V230.70H178.00V229.21H175.99V227.49H173.97V225.65H171.95V223.81H169.93V221.96H167.92V220.20H165.90V219.70H163.88V219.63H161.87V220.95H159.85V222.28H157.83V223.02H155.81V223.63H153.80V222.84H151.78V221.90H149.76V220.06H147.74V218.12H145.73V216.10H143.71V214.26H141.69V212.51H139.67V211.08H137.66V210.30H135.64V211.17H133.62V211.82H131.61V212.06H129.59V211.95H127.57V211.36H125.55V210.69H123.54V209.47H121.52V208.24H119.50V207.36H117.48V206.56H115.47V206.96H113.45V207.59H111.43V208.40H109.42V208.65H107.40V208.31H105.38V207.89H103.36V207.08H101.35V205.94H99.33V203.92H97.31V202.05H95.29V200.44H93.28V199.04H91.26V197.90H89.24V198.86H87.22V199.99H85.21V201.09H83.19V201.87H81.17V202.29H79.16V202.52H77.14V201.84H75.12V201.17H73.10V200.60H71.09V200.05H69.07V200.35H67.05V201.24H65.03V202.37H63.02V204.04H61.00Z"/><path fill="#C55A11" d="M61.00,204.04H63.02V202.37H65.03V201.24H67.05V200.35H69.07V200.05H71.09V200.60H73.10V201.17H75.12V201.84H77.14V202.52H79.16V202.29H81.17V201.87H83.19V201.09H85.21V199.99H87.22V198.86H89.24V197.90H91.26V199.04H93.28V200.44H95.29V202.05H97.31V203.92H99.33V205.94H101.35V207.08H103.36V207.89H105.38V208.31H107.40V208.65H109.42V208.40H111.43V207.59H113.45V206.96H115.47V206.56H117.48V207.36H119.50V208.24H121.52V209.47H123.54V210.69H125.55V211.36H127.57V211.95H129.59V212.06H131.61V211.82H133.62V211.17H135.64V210.30H137.66V211.08H139.67V212.51H141.69V214.26H143.71V216.10H145.73V218.12H147.74V220.06H149.76V221.90H151.78V222.84H153.80V223.63H155.81V223.02H157.83V222.28H159.85V220.95H161.87V219.63H163.88V219.70H165.90V220.20H167.92V221.96H169.93V223.81H171.95V225.65H173.97V227.49H175.99V229.21H178.00V230.70H180.02V231.05H182.04V230.29H184.06V229.24H186.07V227.13H188.09V225.03H190.11V227.23H192.12V229.79H194.14V232.29H196.16V234.35H198.18V235.11H200.19V234.82H202.21V233.02H204.23V231.07H206.25V229.00H208.26V227.27H210.28V225.65H212.30V225.55H214.31V227.34H216.33V229.12H218.35V230.91H220.37V232.42H222.38V233.84H224.40V235.08H226.42V236.10H228.44V236.90H230.45V236.71H232.47V235.68H234.49V233.06H236.51V232.33H238.52V233.37H240.54V235.44H242.56V238.00H244.57V240.09H246.59V242.08H248.61V243.25H250.63V239.83H252.64V231.82H254.66V221.27H256.68V215.83H258.70V211.77H260.71V209.30H262.73V208.98H264.75V210.20H266.76V212.49H268.78V215.55H270.80V217.86H272.82V219.87H274.83V220.15H276.85V220.10H278.87V218.27H280.89V216.44H282.90V216.35H284.92V216.85H286.94V219.67H288.96V222.72H290.97V225.75H292.99V228.79H295.01V229.85H297.02V230.35H299.04V228.27H301.06V226.03H303.08V223.94H305.09V221.92H307.11V221.05H309.13V222.29H311.15V225.80H313.16V231.41H315.18V234.86H317.20V237.29H319.21V238.15H321.23V236.51H323.25V234.86H325.27V233.03H327.28V231.20H329.30V230.01H331.32V228.99H333.34V229.24H335.35V230.77H337.37V232.78H339.39V235.03H341.40V236.47H343.42V237.73H345.44V237.99H347.46V238.23H349.47V234.70H351.49V230.65H353.51V227.30H355.53V224.43H357.54V222.40H359.56V222.38H361.58V223.06H363.60V224.56H365.61V226.26H367.63V228.06H369.65V228.87H371.66V227.60H373.68V226.09H375.70V224.32H377.72V223.05H379.73V222.03H381.75V224.12H383.77V226.89H385.79V229.91H387.80V232.93H389.82V234.71H391.84V235.91H393.85V236.25H395.87V235.23H397.89V233.24H399.91V230.46H401.92V228.22H403.94V226.19H405.96V226.62H407.98V227.48H409.99V230.50H412.01V233.52H414.03V234.88H416.04V235.68H418.06V235.56H420.08V234.41H422.10V233.26H424.11V231.77H426.13V230.27H428.15V230.85H430.17V229.83H432.18V229.61H434.20V231.55H436.22V232.98H438.24V234.22H440.25V234.04H442.27V232.12H444.29V231.40H446.30V233.08H448.32V229.78H450.34V228.32H452.36V226.85H454.37V227.84H456.39V229.67H458.41V233.00H460.43V236.39H462.44V238.41H464.46V240.43H466.48V240.81H468.49V240.71H470.51V239.95H472.53V238.49H474.55V236.93H476.56V234.92H478.58V233.60H480.60V233.61H482.62V235.88H484.63V238.22H486.65V240.50H488.67V242.78H490.69V243.71H492.70V244.38H494.72V244.31H496.74V243.63H498.75V241.32H500.77V238.34H502.79V236.24H504.81V236.17H506.82V238.01H508.84V239.80H510.86V241.56H512.88V242.74H514.89V242.93H516.91V240.99H518.93V237.17H520.94V232.85H522.96V228.32H524.98V225.94H527.00V223.99H529.01V225.10H531.03V228.12H533.05V232.24H535.07V236.48H537.08V240.92H539.10V245.64H541.12V246.98H543.13V248.00H545.15V247.96H547.17V244.88H549.19V243.02H551.20V242.80H553.22V243.63H555.24V245.13H557.26V248.43H559.27V252.11H561.29V255.90H563.31V258.43H565.33V259.67H567.34V261.25H569.36V263.45H571.38V264.59H573.39V266.26H575.41V268.20H577.43V269.06H579.45V269.10H581.46V268.29H583.48V267.25H585.50V265.64H587.52V263.88H589.53V261.65H591.55V259.41H593.57V257.40H595.58V255.38H597.60V253.36H599.62V251.56H601.64V252.95H603.65V257.15H605.67V259.98H607.69V261.13H609.71V261.13H611.72V260.61H613.74V259.70H615.76V258.39H617.78V256.62H619.79V253.74H621.81V251.01H623.83V250.27H625.84V256.35H627.86V260.98H629.88V264.81H631.90V266.51H633.91V268.29H635.93V270.26H637.95V272.22H639.97V274.24H641.98V276.10H644.00V280.36H641.98V278.20H639.97V276.01H637.95V273.96H635.93V271.96H633.91V270.23H631.90V268.68H629.88V264.66H627.86V259.94H625.84V253.36H623.83V253.96H621.81V256.78H619.79V259.78H617.78V261.53H615.76V262.76H613.74V263.74H611.72V264.49H609.71V264.67H607.69V263.63H605.67V260.60H603.65V256.52H601.64V254.64H599.62V256.39H597.60V258.41H595.58V260.42H593.57V262.44H591.55V264.81H589.53V267.20H587.52V268.91H585.50V270.43H583.48V271.29H581.46V272.09H579.45V271.85H577.43V271.17H575.41V269.17H573.39V267.40H571.38V266.09H569.36V263.50H567.34V261.86H565.33V260.65H563.31V257.87H561.29V253.58H559.27V249.58H557.26V246.24H555.24V245.15H553.22V244.48H551.20V244.96H549.19V247.13H547.17V251.03H545.15V250.94H543.13V249.37H541.12V247.37H539.10V241.44H537.08V236.82H535.07V233.19H533.05V229.68H531.03V226.99H529.01V225.68H527.00V227.62H524.98V230.00H522.96V234.54H520.94V239.05H518.93V243.49H516.91V245.82H514.89V245.80H512.88V244.75H510.86V243.12H508.84V241.36H506.82V239.37H504.81V239.69H502.79V242.38H500.77V245.84H498.75V248.44H496.74V248.97H494.72V248.90H492.70V248.11H490.69V247.07H488.67V244.67H486.65V242.27H484.63V239.78H482.62V237.36H480.60V237.36H478.58V238.68H476.56V240.69H474.55V242.37H472.53V243.96H470.51V244.91H468.49V245.27H466.48V245.10H464.46V243.08H462.44V241.06H460.43V237.24H458.41V233.47H456.39V231.47H454.37V230.41H452.36V232.01H450.34V233.60H448.32V237.96H446.30V234.83H444.29V234.99H442.27V236.76H440.25V237.07H438.24V236.23H436.22V235.08H434.20V233.09H432.18V234.01H430.17V235.42H428.15V234.01H426.13V235.62H424.11V237.24H422.10V238.51H420.08V239.72H418.06V239.84H416.04V239.03H414.03V237.63H412.01V234.42H409.99V231.22H407.98V230.56H405.96V230.38H403.94V232.85H401.92V235.47H399.91V238.47H397.89V240.59H395.87V241.60H393.85V241.25H391.84V240.04H389.82V238.21H387.80V235.00H385.79V231.80H383.77V228.79H381.75V226.53H379.73V227.54H377.72V228.73H375.70V230.27H373.68V231.78H371.66V233.27H369.65V232.65H367.63V231.01H365.61V229.43H363.60V227.91H361.58V227.47H359.56V227.92H357.54V230.83H355.53V234.74H353.51V238.70H351.49V242.74H349.47V246.15H347.46V244.95H345.44V243.74H343.42V242.25H341.40V240.67H339.39V238.63H337.37V236.61H335.35V234.64H333.34V234.25H331.32V235.44H329.30V236.80H327.28V238.79H325.27V240.79H323.25V242.77H321.23V244.75H319.21V243.80H317.20V241.02H315.18V236.92H313.16V230.01H311.15V225.94H309.13V224.90H307.11V225.84H305.09V227.86H303.08V230.01H301.06V232.41H299.04V234.65H297.02V234.14H295.01V233.04H292.99V229.83H290.97V226.63H288.96V223.17H286.94V219.95H284.92V219.45H282.90V219.58H280.89V221.58H278.87V223.58H276.85V223.22H274.83V222.58H272.82V220.56H270.80V218.12H268.78V214.64H266.76V212.12H264.75V210.88H262.73V210.92H260.71V213.69H258.70V218.31H256.68V224.29H254.66V235.92H252.64V246.17H250.63V250.85H248.61V248.32H246.59V245.41H244.57V242.49H242.56V239.51H240.54V237.03H238.52V235.56H236.51V236.49H234.49V239.92H232.47V240.83H230.45V240.40H228.44V239.35H226.42V238.16H224.40V236.76H222.38V235.17H220.37V233.48H218.35V231.49H216.33V229.50H214.31V227.51H212.30V227.52H210.28V229.13H208.26V230.97H206.25V233.44H204.23V235.70H202.21V237.70H200.19V237.94H198.18V236.96H196.16V234.82H194.14V232.30H192.12V229.36H190.11V226.81H188.09V229.19H186.07V231.57H184.06V232.43H182.04V232.88H180.02V232.36H178.00V230.85H175.99V229.02H173.97V227.02H171.95V225.02H169.93V223.03H167.92V221.13H165.90V220.62H163.88V220.59H161.87V222.16H159.85V223.74H157.83V224.23H155.81V224.59H153.80V223.78H151.78V222.81H149.76V220.82H147.74V218.81H145.73V216.79H143.71V215.04H141.69V213.41H139.67V211.89H137.66V210.99H135.64V211.80H133.62V212.42H131.61V212.66H129.59V212.57H127.57V212.02H125.55V211.37H123.54V210.05H121.52V208.72H119.50V207.83H117.48V207.02H115.47V207.43H113.45V208.05H111.43V208.86H109.42V209.11H107.40V208.78H105.38V208.35H103.36V207.54H101.35V206.40H99.33V204.38H97.31V202.51H95.29V200.90H93.28V199.47H91.26V198.27H89.24V199.29H87.22V200.43H85.21V201.49H83.19V202.26H81.17V202.72H79.16V202.98H77.14V202.31H75.12V201.63H73.10V200.98H71.09V200.32H69.07V200.64H67.05V201.64H65.03V202.87H63.02V204.68H61.00Z"/><path fill="#FFC000" d="M61.00,204.68H63.02V202.87H65.03V201.64H67.05V200.64H69.07V200.32H71.09V200.98H73.10V201.63H75.12V202.31H77.14V202.98H79.16V202.72H81.17V202.26H83.19V201.49H85.21V200.43H87.22V199.29H89.24V198.27H91.26V199.47H93.28V200.90H95.29V202.51H97.31V204.38H99.33V206.40H101.35V207.54H103.36V208.35H105.38V208.78H107.40V209.11H109.42V208.86H111.43V208.05H113.45V207.43H115.47V207.02H117.48V207.83H119.50V208.72H121.52V210.05H123.54V211.37H125.55V212.02H127.57V212.57H129.59V212.66H131.61V212.42H133.62V211.80H135.64V210.99H137.66V211.89H139.67V213.41H141.69V215.04H143.71V216.79H145.73V218.81H147.74V220.82H149.76V222.81H151.78V223.78H153.80V224.59H155.81V224.23H157.83V223.74H159.85V222.16H161.87V220.59H163.88V220.62H165.90V221.13H167.92V223.03H169.93V225.02H171.95V227.02H173.97V229.02H175.99V230.85H178.00V232.36H180.02V232.88H182.04V232.43H184.06V231.57H186.07V229.19H188.09V226.81H190.11V229.36H192.12V232.30H194.14V234.82H196.16V236.96H198.18V237.94H200.19V237.70H202.21V235.70H204.23V233.44H206.25V230.97H208.26V229.13H210.28V227.52H212.30V227.51H214.31V229.50H216.33V231.49H218.35V233.48H220.37V235.17H222.38V236.76H224.40V238.16H226.42V239.35H228.44V240.40H230.45V240.83H232.47V239.92H234.49V236.49H236.51V235.56H238.52V237.03H240.54V239.51H242.56V242.49H244.57V245.41H246.59V248.32H248.61V250.85H250.63V246.17H252.64V235.92H254.66V224.29H256.68V218.31H258.70V213.69H260.71V210.92H262.73V210.88H264.75V212.12H266.76V214.64H268.78V218.12H270.80V220.56H272.82V222.58H274.83V223.22H276.85V223.58H278.87V221.58H280.89V219.58H282.90V219.45H284.92V219.95H286.94V223.17H288.96V226.63H290.97V229.83H292.99V233.04H295.01V234.14H297.02V234.65H299.04V232.41H301.06V230.01H303.08V227.86H305.09V225.84H307.11V224.90H309.13V225.94H311.15V230.01H313.16V236.92H315.18V241.02H317.20V243.80H319.21V244.75H321.23V242.77H323.25V240.79H325.27V238.79H327.28V236.80H329.30V235.44H331.32V234.25H333.34V234.64H335.35V236.61H337.37V238.63H339.39V240.67H341.40V242.25H343.42V243.74H345.44V244.95H347.46V246.15H349.47V242.74H351.49V238.70H353.51V234.74H355.53V230.83H357.54V227.92H359.56V227.47H361.58V227.91H363.60V229.43H365.61V231.01H367.63V232.65H369.65V233.27H371.66V231.78H373.68V230.27H375.70V228.73H377.72V227.54H379.73V226.53H381.75V228.79H383.77V231.80H385.79V235.00H387.80V238.21H389.82V240.04H391.84V241.25H393.85V241.60H395.87V240.59H397.89V238.47H399.91V235.47H401.92V232.85H403.94V230.38H405.96V230.56H407.98V231.22H409.99V234.42H412.01V237.63H414.03V239.03H416.04V239.84H418.06V239.72H420.08V238.51H422.10V237.24H424.11V235.62H426.13V234.01H428.15V235.42H430.17V234.01H432.18V233.09H434.20V235.08H436.22V236.23H438.24V237.07H440.25V236.76H442.27V234.99H444.29V234.83H446.30V237.96H448.32V233.60H450.34V232.01H452.36V230.41H454.37V231.47H456.39V233.47H458.41V237.24H460.43V241.06H462.44V243.08H464.46V245.10H466.48V245.27H468.49V244.91H470.51V243.96H472.53V242.37H474.55V240.69H476.56V238.68H478.58V237.36H480.60V237.36H482.62V239.78H484.63V242.27H486.65V244.67H488.67V247.07H490.69V248.11H492.70V248.90H494.72V248.97H496.74V248.44H498.75V245.84H500.77V242.38H502.79V239.69H504.81V239.37H506.82V241.36H508.84V243.12H510.86V244.75H512.88V245.80H514.89V245.82H516.91V243.49H518.93V239.05H520.94V234.54H522.96V230.00H524.98V227.62H527.00V225.68H529.01V226.99H531.03V229.68H533.05V233.19H535.07V236.82H537.08V241.44H539.10V247.37H541.12V249.37H543.13V250.94H545.15V251.03H547.17V247.13H549.19V244.96H551.20V244.48H553.22V245.15H555.24V246.24H557.26V249.58H559.27V253.58H561.29V257.87H563.31V260.65H565.33V261.86H567.34V263.50H569.36V266.09H571.38V267.40H573.39V269.17H575.41V271.17H577.43V271.85H579.45V272.09H581.46V271.29H583.48V270.43H585.50V268.91H587.52V267.20H589.53V264.81H591.55V262.44H593.57V260.42H595.58V258.41H597.60V256.39H599.62V254.64H601.64V256.52H603.65V260.60H605.67V263.63H607.69V264.67H609.71V264.49H611.72V263.74H613.74V262.76H615.76V261.53H617.78V259.78H619.79V256.78H621.81V253.96H623.83V253.36H625.84V259.94H627.86V264.66H629.88V268.68H631.90V270.23H633.91V271.96H635.93V273.96H637.95V276.01H639.97V278.20H641.98V280.36H644.00V281.54H641.98V279.30H639.97V277.06H637.95V274.99H635.93V272.98H633.91V271.26H631.90V269.75H629.88V265.68H627.86V260.94H625.84V254.22H623.83V254.78H621.81V257.63H619.79V260.65H617.78V262.40H615.76V263.61H613.74V264.62H611.72V265.42H609.71V265.65H607.69V264.65H605.67V261.56H603.65V257.51H601.64V255.50H599.62V257.23H597.60V259.25H595.58V261.26H593.57V263.28H591.55V265.70H589.53V268.12H587.52V269.82H585.50V271.31H583.48V272.12H581.46V272.92H579.45V272.63H577.43V272.00H575.41V269.98H573.39V268.18H571.38V266.82H569.36V264.13H567.34V262.47H565.33V261.26H563.31V258.42H561.29V253.98H559.27V249.88H557.26V246.52H555.24V245.50H553.22V244.86H551.20V245.36H549.19V247.58H547.17V251.62H545.15V251.47H543.13V249.79H541.12V247.66H539.10V241.53H537.08V236.88H535.07V233.35H533.05V229.94H531.03V227.30H529.01V225.95H527.00V227.90H524.98V230.28H522.96V234.82H520.94V239.36H518.93V243.90H516.91V246.30H514.89V246.30H512.88V245.27H510.86V243.66H508.84V241.91H506.82V239.89H504.81V240.25H502.79V243.04H500.77V246.57H498.75V249.22H496.74V249.73H494.72V249.63H492.70V248.83H490.69V247.76H488.67V245.34H486.65V242.92H484.63V240.41H482.62V237.96H480.60V237.96H478.58V239.28H476.56V241.30H474.55V242.98H472.53V244.60H470.51V245.58H468.49V245.98H466.48V245.84H464.46V243.82H462.44V241.80H460.43V237.91H458.41V234.07H456.39V232.05H454.37V230.97H452.36V232.59H450.34V234.20H448.32V238.73H446.30V235.37H444.29V235.43H442.27V237.19H440.25V237.51H438.24V236.71H436.22V235.58H434.20V233.56H432.18V234.56H430.17V236.01H428.15V234.47H426.13V236.09H424.11V237.70H422.10V238.98H420.08V240.19H418.06V240.30H416.04V239.50H414.03V238.09H412.01V234.86H409.99V231.63H407.98V231.00H405.96V230.85H403.94V233.37H401.92V236.03H399.91V239.06H397.89V241.19H395.87V242.20H393.85V241.86H391.84V240.65H389.82V238.80H387.80V235.57H385.79V232.35H383.77V229.32H381.75V227.04H379.73V228.04H377.72V229.23H375.70V230.74H373.68V232.25H371.66V233.77H369.65V233.17H367.63V231.56H365.61V229.98H363.60V228.47H361.58V228.05H359.56V228.56H357.54V231.56H355.53V235.60H353.51V239.63H351.49V243.66H349.47V247.07H347.46V245.75H345.44V244.43H343.42V242.92H341.40V241.32H339.39V239.30H337.37V237.29H335.35V235.27H333.34V234.86H331.32V236.07H329.30V237.45H327.28V239.47H325.27V241.48H323.25V243.50H321.23V245.52H319.21V244.56H317.20V241.74H315.18V237.56H313.16V230.50H311.15V226.36H309.13V225.36H307.11V226.31H305.09V228.32H303.08V230.48H301.06V232.90H299.04V235.16H297.02V234.65H295.01V233.55H292.99V230.32H290.97V227.09H288.96V223.58H286.94V220.32H284.92V219.82H282.90V219.96H280.89V221.97H278.87V223.99H276.85V223.59H274.83V222.90H272.82V220.88H270.80V218.43H268.78V214.90H266.76V212.36H264.75V211.11H262.73V211.11H260.71V213.93H258.70V218.61H256.68V224.66H254.66V236.42H252.64V246.94H250.63V251.77H248.61V249.08H246.59V246.06H244.57V243.03H242.56V240.01H240.54V237.47H238.52V235.96H236.51V236.91H234.49V240.44H232.47V241.34H230.45V240.83H228.44V239.75H226.42V238.54H224.40V237.12H222.38V235.51H220.37V233.80H218.35V231.79H216.33V229.77H214.31V227.75H212.30V227.75H210.28V229.36H208.26V231.21H206.25V233.73H204.23V236.04H202.21V238.06H200.19V238.30H198.18V237.29H196.16V235.14H194.14V232.62H192.12V229.64H190.11V227.04H188.09V229.47H186.07V231.89H184.06V232.72H182.04V233.13H180.02V232.59H178.00V231.08H175.99V229.24H173.97V227.22H171.95V225.20H169.93V223.18H167.92V221.26H165.90V220.76H163.88V220.74H161.87V222.35H159.85V223.97H157.83V224.43H155.81V224.74H153.80V223.94H151.78V222.96H149.76V220.94H147.74V218.93H145.73V216.91H143.71V215.17H141.69V213.56H139.67V212.02H137.66V211.10H135.64V211.91H133.62V212.52H131.61V212.76H129.59V212.67H127.57V212.13H125.55V211.49H123.54V210.14H121.52V208.80H119.50V207.90H117.48V207.10H115.47V207.50H113.45V208.13H111.43V208.94H109.42V209.19H107.40V208.85H105.38V208.43H103.36V207.62H101.35V206.48H99.33V204.46H97.31V202.59H95.29V200.98H93.28V199.55H91.26V198.34H89.24V199.36H87.22V200.50H85.21V201.55H83.19V202.32H81.17V202.79H79.16V203.06H77.14V202.38H75.12V201.71H73.10V201.04H71.09V200.37H69.07V200.69H67.05V201.70H65.03V202.96H63.02V204.79H61.00Z"/><path fill="#D0CECE" d="M61.00,204.79H63.02V202.96H65.03V201.70H67.05V200.69H69.07V200.37H71.09V201.04H73.10V201.71H75.12V202.38H77.14V203.06H79.16V202.79H81.17V202.32H83.19V201.55H85.21V200.50H87.22V199.36H89.24V198.34H91.26V199.55H93.28V200.98H95.29V202.59H97.31V204.46H99.33V206.48H101.35V207.62H103.36V208.43H105.38V208.85H107.40V209.19H109.42V208.94H111.43V208.13H113.45V207.50H115.47V207.10H117.48V207.90H119.50V208.80H121.52V210.14H123.54V211.49H125.55V212.13H127.57V212.67H129.59V212.76H131.61V212.52H133.62V211.91H135.64V211.10H137.66V212.02H139.67V213.56H141.69V215.17H143.71V216.91H145.73V218.93H147.74V220.94H149.76V222.96H151.78V223.94H153.80V224.74H155.81V224.43H157.83V223.97H159.85V222.35H161.87V220.74H163.88V220.76H165.90V221.26H167.92V223.18H169.93V225.20H171.95V227.22H173.97V229.24H175.99V231.08H178.00V232.59H180.02V233.13H182.04V232.72H184.06V231.89H186.07V229.47H188.09V227.04H190.11V229.64H192.12V232.62H194.14V235.14H196.16V237.29H198.18V238.30H200.19V238.06H202.21V236.04H204.23V233.73H206.25V231.21H208.26V229.36H210.28V227.75H212.30V227.75H214.31V229.77H216.33V231.79H218.35V233.80H220.37V235.51H222.38V237.12H224.40V238.54H226.42V239.75H228.44V240.83H230.45V241.34H232.47V240.44H234.49V236.91H236.51V235.96H238.52V237.47H240.54V240.01H242.56V243.03H244.57V246.06H246.59V249.08H248.61V251.77H250.63V246.94H252.64V236.42H254.66V224.66H256.68V218.61H258.70V213.93H260.71V211.11H262.73V211.11H264.75V212.36H266.76V214.90H268.78V218.43H270.80V220.88H272.82V222.90H274.83V223.59H276.85V223.99H278.87V221.97H280.89V219.96H282.90V219.82H284.92V220.32H286.94V223.58H288.96V227.09H290.97V230.32H292.99V233.55H295.01V234.65H297.02V235.16H299.04V232.90H301.06V230.48H303.08V228.32H305.09V226.31H307.11V225.36H309.13V226.36H311.15V230.50H313.16V237.56H315.18V241.74H317.20V244.56H319.21V245.52H321.23V243.50H323.25V241.48H325.27V239.47H327.28V237.45H329.30V236.07H331.32V234.86H333.34V235.27H335.35V237.29H337.37V239.30H339.39V241.32H341.40V242.92H343.42V244.43H345.44V245.75H347.46V247.07H349.47V243.66H351.49V239.63H353.51V235.60H355.53V231.56H357.54V228.56H359.56V228.05H361.58V228.47H363.60V229.98H365.61V231.56H367.63V233.17H369.65V233.77H371.66V232.25H373.68V230.74H375.70V229.23H377.72V228.04H379.73V227.04H381.75V229.32H383.77V232.35H385.79V235.57H387.80V238.80H389.82V240.65H391.84V241.86H393.85V242.20H395.87V241.19H397.89V239.06H399.91V236.03H401.92V233.37H403.94V230.85H405.96V231.00H407.98V231.63H409.99V234.86H412.01V238.09H414.03V239.50H416.04V240.30H418.06V240.19H420.08V238.98H422.10V237.70H424.11V236.09H426.13V234.47H428.15V236.01H430.17V234.56H432.18V233.56H434.20V235.58H436.22V236.71H438.24V237.51H440.25V237.19H442.27V235.43H444.29V235.37H446.30V238.73H448.32V234.20H450.34V232.59H452.36V230.97H454.37V232.05H456.39V234.07H458.41V237.91H460.43V241.80H462.44V243.82H464.46V245.84H466.48V245.98H468.49V245.58H470.51V244.60H472.53V242.98H474.55V241.30H476.56V239.28H478.58V237.96H480.60V237.96H482.62V240.41H484.63V242.92H486.65V245.34H488.67V247.76H490.69V248.83H492.70V249.63H494.72V249.73H496.74V249.22H498.75V246.57H500.77V243.04H502.79V240.25H504.81V239.89H506.82V241.91H508.84V243.66H510.86V245.27H512.88V246.30H514.89V246.30H516.91V243.90H518.93V239.36H520.94V234.82H522.96V230.28H524.98V227.90H527.00V225.95H529.01V227.30H531.03V229.94H533.05V233.35H535.07V236.88H537.08V241.53H539.10V247.66H541.12V249.79H543.13V251.47H545.15V251.62H547.17V247.58H549.19V245.36H551.20V244.86H553.22V245.50H555.24V246.52H557.26V249.88H559.27V253.98H561.29V258.42H563.31V261.26H565.33V262.47H567.34V264.13H569.36V266.82H571.38V268.18H573.39V269.98H575.41V272.00H577.43V272.63H579.45V272.92H581.46V272.12H583.48V271.31H585.50V269.82H587.52V268.12H589.53V265.70H591.55V263.28H593.57V261.26H595.58V259.25H597.60V257.23H599.62V255.50H601.64V257.51H603.65V261.56H605.67V264.65H607.69V265.65H609.71V265.42H611.72V264.62H613.74V263.61H615.76V262.40H617.78V260.65H619.79V257.63H621.81V254.78H623.83V254.22H625.84V260.94H627.86V265.68H629.88V269.75H631.90V271.26H633.91V272.98H635.93V274.99H637.95V277.06H639.97V279.30H641.98V281.54H644.00V281.54H641.98V279.30H639.97V277.06H637.95V274.99H635.93V272.98H633.91V271.26H631.90V269.75H629.88V265.68H627.86V260.94H625.84V254.22H623.83V254.78H621.81V257.63H619.79V260.65H617.78V262.40H615.76V263.61H613.74V264.62H611.72V265.42H609.71V265.65H607.69V264.65H605.67V261.56H603.65V257.51H601.64V255.50H599.62V257.23H597.60V261.02H595.58V269.28H593.57V280.66H591.55V290.38H589.53V295.48H587.52V296.83H585.50V297.41H583.48V297.62H581.46V296.28H579.45V292.11H577.43V288.46H575.41V285.68H573.39V282.20H571.38V270.94H569.36V264.13H567.34V262.47H565.33V261.26H563.31V258.42H561.29V253.98H559.27V249.88H557.26V246.52H555.24V245.50H553.22V244.86H551.20V245.36H549.19V247.58H547.17V251.62H545.15V251.47H543.13V249.79H541.12V247.66H539.10V241.53H537.08V236.88H535.07V233.35H533.05V229.94H531.03V227.30H529.01V225.95H527.00V227.90H524.98V230.28H522.96V234.82H520.94V239.36H518.93V243.90H516.91V246.30H514.89V246.30H512.88V245.27H510.86V243.66H508.84V241.91H506.82V239.89H504.81V240.25H502.79V243.04H500.77V246.57H498.75V249.22H496.74V249.73H494.72V249.63H492.70V248.83H490.69V247.76H488.67V245.34H486.65V242.92H484.63V240.41H482.62V237.96H480.60V237.96H478.58V239.28H476.56V241.30H474.55V242.98H472.53V244.60H470.51V245.58H468.49V245.98H466.48V245.84H464.46V243.82H462.44V241.80H460.43V237.91H458.41V234.07H456.39V232.05H454.37V230.97H452.36V232.59H450.34V234.20H448.32V238.73H446.30V235.37H444.29V235.43H442.27V237.19H440.25V237.51H438.24V236.71H436.22V235.58H434.20V233.56H432.18V234.56H430.17V236.01H428.15V234.47H426.13V236.09H424.11V237.70H422.10V238.98H420.08V240.19H418.06V240.30H416.04V239.50H414.03V238.09H412.01V234.86H409.99V231.63H407.98V231.00H405.96V230.85H403.94V233.37H401.92V236.03H399.91V239.06H397.89V241.19H395.87V242.20H393.85V241.86H391.84V240.65H389.82V238.80H387.80V235.57H385.79V232.35H383.77V229.32H381.75V227.04H379.73V228.04H377.72V229.23H375.70V230.74H373.68V232.25H371.66V233.77H369.65V233.17H367.63V231.56H365.61V229.98H363.60V228.47H361.58V228.05H359.56V228.56H357.54V231.56H355.53V235.60H353.51V239.63H351.49V243.66H349.47V247.07H347.46V245.75H345.44V244.80H343.42V243.29H341.40V241.69H339.39V239.68H337.37V237.66H335.35V235.64H333.34V235.23H331.32V236.44H329.30V237.82H327.28V239.84H325.27V241.85H323.25V243.87H321.23V245.89H319.21V244.93H317.20V242.11H315.18V237.56H313.16V230.50H311.15V230.95H309.13V232.69H307.11V233.20H305.09V231.86H303.08V231.32H301.06V233.50H299.04V235.53H297.02V235.02H295.01V233.92H292.99V230.69H290.97V227.46H288.96V223.95H286.94V220.70H284.92V220.19H282.90V220.33H280.89V222.35H278.87V224.36H276.85V223.96H274.83V223.27H272.82V221.25H270.80V218.80H268.78V215.27H266.76V212.73H264.75V211.51H262.73V211.91H260.71V215.32H258.70V220.89H256.68V228.29H254.66V240.12H252.64V249.94H250.63V257.58H248.61V255.56H246.59V251.03H244.57V246.82H242.56V244.30H240.54V242.10H238.52V240.59H236.51V241.54H234.49V245.07H232.47V244.78H230.45V242.46H228.44V240.92H226.42V239.55H224.40V237.92H222.38V236.07H220.37V234.17H218.35V232.16H216.33V230.14H214.31V228.12H212.30V228.12H210.28V229.73H208.26V231.66H206.25V234.48H204.23V237.18H202.21V239.70H200.19V240.15H198.18V239.14H196.16V236.84H194.14V234.12H192.12V230.84H190.11V228.03H188.09V231.26H186.07V234.49H184.06V235.50H182.04V235.91H180.02V234.88H178.00V232.35H175.99V230.16H173.97V228.54H171.95V227.93H169.93V227.33H167.92V226.72H165.90V226.12H163.88V225.51H161.87V224.91H159.85V224.30H157.83V224.43H155.81V224.74H153.80V223.94H151.78V222.96H149.76V220.94H147.74V218.93H145.73V216.91H143.71V215.17H141.69V213.56H139.67V212.02H137.66V211.10H135.64V211.91H133.62V212.52H131.61V212.76H129.59V212.67H127.57V212.13H125.55V211.49H123.54V210.14H121.52V208.80H119.50V207.90H117.48V207.10H115.47V207.50H113.45V208.13H111.43V208.94H109.42V209.19H107.40V208.85H105.38V208.43H103.36V207.62H101.35V206.48H99.33V204.46H97.31V202.59H95.29V200.98H93.28V199.55H91.26V198.34H89.24V199.36H87.22V200.50H85.21V201.55H83.19V202.32H81.17V202.79H79.16V203.06H77.14V202.38H75.12V201.71H73.10V201.04H71.09V200.37H69.07V200.69H67.05V201.70H65.03V202.96H63.02V204.79H61.00Z"/><path fill="#FBE5D6" d="M61.00,204.79H63.02V202.96H65.03V201.70H67.05V200.69H69.07V200.37H71.09V201.04H73.10V201.71H75.12V202.38H77.14V203.06H79.16V202.79H81.17V202.32H83.19V201.55H85.21V200.50H87.22V199.36H89.24V198.34H91.26V199.55H93.28V200.98H95.29V202.59H97.31V204.46H99.33V206.48H101.35V207.62H103.36V208.43H105.38V208.85H107.40V209.19H109.42V208.94H111.43V208.13H113.45V207.50H115.47V207.10H117.48V207.90H119.50V208.80H121.52V210.14H123.54V211.49H125.55V212.13H127.57V212.67H129.59V212.76H131.61V212.52H133.62V211.91H135.64V211.10H137.66V212.02H139.67V213.56H141.69V215.17H143.71V216.91H145.73V218.93H147.74V220.94H149.76V222.96H151.78V223.94H153.80V224.74H155.81V224.43H157.83V224.30H159.85V224.91H161.87V225.51H163.88V226.12H165.90V226.72H167.92V227.33H169.93V227.93H171.95V228.54H173.97V230.16H175.99V232.35H178.00V234.88H180.02V235.91H182.04V235.50H184.06V234.49H186.07V231.26H188.09V228.03H190.11V230.84H192.12V234.12H194.14V236.84H196.16V239.14H198.18V240.15H200.19V239.70H202.21V237.18H204.23V234.48H206.25V231.66H208.26V229.73H210.28V228.12H212.30V228.12H214.31V230.14H216.33V232.16H218.35V234.17H220.37V236.07H222.38V237.92H224.40V239.55H226.42V240.92H228.44V242.46H230.45V244.78H232.47V245.07H234.49V241.54H236.51V240.59H238.52V242.10H240.54V244.30H242.56V246.82H244.57V251.03H246.59V255.56H248.61V257.58H250.63V249.94H252.64V240.12H254.66V228.29H256.68V220.89H258.70V215.32H260.71V211.91H262.73V211.51H264.75V212.73H266.76V215.27H268.78V218.80H270.80V221.25H272.82V223.27H274.83V223.96H276.85V224.36H278.87V222.35H280.89V220.33H282.90V220.19H284.92V220.70H286.94V223.95H288.96V227.46H290.97V230.69H292.99V233.92H295.01V235.02H297.02V235.53H299.04V233.50H301.06V231.32H303.08V231.86H305.09V233.20H307.11V232.69H309.13V230.95H311.15V230.50H313.16V237.56H315.18V242.11H317.20V244.93H319.21V245.89H321.23V243.87H323.25V241.85H325.27V239.84H327.28V237.82H329.30V236.44H331.32V235.23H333.34V235.64H335.35V237.66H337.37V239.68H339.39V241.69H341.40V243.29H343.42V244.80H345.44V245.75H347.46V247.07H349.47V243.66H351.49V239.63H353.51V235.60H355.53V231.56H357.54V228.56H359.56V228.05H361.58V228.47H363.60V229.98H365.61V231.56H367.63V233.17H369.65V233.77H371.66V232.25H373.68V230.74H375.70V229.23H377.72V228.04H379.73V227.04H381.75V229.32H383.77V232.35H385.79V235.57H387.80V238.80H389.82V240.65H391.84V241.86H393.85V242.20H395.87V241.19H397.89V239.06H399.91V236.03H401.92V233.37H403.94V230.85H405.96V231.00H407.98V231.63H409.99V234.86H412.01V238.09H414.03V239.50H416.04V240.30H418.06V240.19H420.08V238.98H422.10V237.70H424.11V236.09H426.13V234.47H428.15V236.01H430.17V234.56H432.18V233.56H434.20V235.58H436.22V236.71H438.24V237.51H440.25V237.19H442.27V235.43H444.29V235.37H446.30V238.73H448.32V234.20H450.34V232.59H452.36V230.97H454.37V232.05H456.39V234.07H458.41V237.91H460.43V241.80H462.44V243.82H464.46V245.84H466.48V245.98H468.49V245.58H470.51V244.60H472.53V242.98H474.55V241.30H476.56V239.28H478.58V237.96H480.60V237.96H482.62V240.41H484.63V242.92H486.65V245.34H488.67V247.76H490.69V248.83H492.70V249.63H494.72V249.73H496.74V249.22H498.75V246.57H500.77V243.04H502.79V240.25H504.81V239.89H506.82V241.91H508.84V243.66H510.86V245.27H512.88V246.30H514.89V246.30H516.91V243.90H518.93V239.36H520.94V234.82H522.96V230.28H524.98V227.90H527.00V225.95H529.01V227.30H531.03V229.94H533.05V233.35H535.07V236.88H537.08V241.53H539.10V247.66H541.12V249.79H543.13V251.47H545.15V251.62H547.17V247.58H549.19V245.36H551.20V244.86H553.22V245.50H555.24V246.52H557.26V249.88H559.27V253.98H561.29V258.42H563.31V261.26H565.33V262.47H567.34V264.13H569.36V270.94H571.38V282.20H573.39V285.68H575.41V288.46H577.43V292.11H579.45V296.28H581.46V297.62H583.48V297.41H585.50V296.83H587.52V295.48H589.53V290.38H591.55V280.66H593.57V269.28H595.58V261.02H597.60V257.23H599.62V255.50H601.64V257.51H603.65V261.56H605.67V264.65H607.69V265.65H609.71V265.42H611.72V264.62H613.74V263.61H615.76V262.40H617.78V260.65H619.79V257.63H621.81V254.78H623.83V254.22H625.84V260.94H627.86V265.68H629.88V269.75H631.90V271.26H633.91V272.98H635.93V274.99H637.95V277.06H639.97V279.30H641.98V281.54H644.00V281.54H641.98V279.30H639.97V277.06H637.95V274.99H635.93V272.98H633.91V271.26H631.90V269.75H629.88V265.68H627.86V260.94H625.84V254.22H623.83V254.78H621.81V257.63H619.79V260.65H617.78V262.40H615.76V263.61H613.74V264.62H611.72V265.42H609.71V265.65H607.69V264.65H605.67V261.56H603.65V257.51H601.64V267.85H599.62V276.08H597.60V282.61H595.58V286.64H593.57V290.68H591.55V294.20H589.53V296.81H587.52V297.75H585.50V299.67H583.48V301.16H581.46V299.82H579.45V293.95H577.43V289.34H575.41V286.57H573.39V283.09H571.38V271.83H569.36V264.13H567.34V262.47H565.33V261.26H563.31V258.42H561.29V253.98H559.27V249.88H557.26V246.52H555.24V245.50H553.22V244.86H551.20V245.36H549.19V247.58H547.17V251.62H545.15V251.47H543.13V249.79H541.12V247.66H539.10V241.53H537.08V236.88H535.07V233.35H533.05V229.94H531.03V227.30H529.01V225.95H527.00V227.90H524.98V230.28H522.96V234.82H520.94V239.36H518.93V243.90H516.91V246.30H514.89V246.30H512.88V245.27H510.86V243.66H508.84V241.91H506.82V239.89H504.81V240.25H502.79V243.04H500.77V246.57H498.75V249.22H496.74V249.73H494.72V249.63H492.70V248.83H490.69V247.76H488.67V245.34H486.65V242.92H484.63V240.41H482.62V237.96H480.60V237.96H478.58V239.28H476.56V241.30H474.55V242.98H472.53V244.60H470.51V245.58H468.49V245.98H466.48V245.84H464.46V243.82H462.44V241.80H460.43V237.91H458.41V234.07H456.39V232.05H454.37V230.97H452.36V232.59H450.34V234.20H448.32V238.73H446.30V235.37H444.29V235.43H442.27V237.19H440.25V237.51H438.24V236.71H436.22V235.58H434.20V233.56H432.18V234.56H430.17V236.01H428.15V234.47H426.13V236.09H424.11V237.70H422.10V238.98H420.08V240.19H418.06V240.30H416.04V239.50H414.03V238.09H412.01V235.22H409.99V232.71H407.98V232.80H405.96V233.36H403.94V236.39H401.92V239.56H399.91V243.09H397.89V245.72H395.87V247.20H393.85V246.93H391.84V245.78H389.82V244.01H387.80V240.85H385.79V237.69H383.77V234.73H381.75V232.51H379.73V233.54H377.72V234.73H375.70V236.24H373.68V237.75H371.66V239.27H369.65V238.67H367.63V237.06H365.61V235.42H363.60V233.62H361.58V232.92H359.56V233.14H357.54V234.96H355.53V237.48H353.51V240.00H351.49V243.66H349.47V247.07H347.46V245.75H345.44V244.80H343.42V243.29H341.40V241.69H339.39V239.68H337.37V237.66H335.35V235.64H333.34V235.23H331.32V236.44H329.30V237.82H327.28V239.84H325.27V241.85H323.25V243.87H321.23V245.89H319.21V244.93H317.20V242.11H315.18V237.56H313.16V230.50H311.15V230.95H309.13V232.69H307.11V233.20H305.09V231.86H303.08V231.32H301.06V233.50H299.04V235.53H297.02V235.02H295.01V233.92H292.99V230.69H290.97V227.46H288.96V223.95H286.94V220.70H284.92V220.19H282.90V220.33H280.89V222.35H278.87V224.36H276.85V223.96H274.83V223.27H272.82V221.25H270.80V218.80H268.78V215.27H266.76V212.73H264.75V211.51H262.73V211.91H260.71V215.32H258.70V220.89H256.68V228.29H254.66V240.12H252.64V249.94H250.63V257.58H248.61V255.56H246.59V251.03H244.57V246.82H242.56V244.30H240.54V242.10H238.52V240.59H236.51V241.54H234.49V245.07H232.47V244.78H230.45V242.46H228.44V240.92H226.42V239.55H224.40V237.92H222.38V236.07H220.37V234.17H218.35V232.16H216.33V230.14H214.31V228.12H212.30V228.12H210.28V229.73H208.26V231.66H206.25V234.48H204.23V237.18H202.21V239.70H200.19V240.15H198.18V239.14H196.16V236.84H194.14V234.12H192.12V230.84H190.11V228.03H188.09V231.26H186.07V234.49H184.06V235.50H182.04V235.91H180.02V234.88H178.00V232.35H175.99V230.16H173.97V228.54H171.95V227.93H169.93V227.33H167.92V226.72H165.90V226.12H163.88V225.51H161.87V224.91H159.85V224.30H157.83V224.43H155.81V224.74H153.80V223.94H151.78V222.96H149.76V220.94H147.74V218.93H145.73V216.91H143.71V215.17H141.69V213.56H139.67V212.02H137.66V211.10H135.64V211.91H133.62V212.52H131.61V212.76H129.59V212.67H127.57V212.13H125.55V211.49H123.54V210.14H121.52V208.80H119.50V207.90H117.48V207.10H115.47V207.50H113.45V208.13H111.43V208.94H109.42V209.19H107.40V208.85H105.38V208.43H103.36V207.62H101.35V206.48H99.33V204.46H97.31V202.59H95.29V200.98H93.28V199.55H91.26V198.34H89.24V199.36H87.22V200.50H85.21V201.55H83.19V202.32H81.17V202.79H79.16V203.06H77.14V202.38H75.12V201.71H73.10V201.04H71.09V200.37H69.07V200.69H67.05V201.70H65.03V202.96H63.02V204.79H61.00Z"/><path fill="#FF0000" d="M139.8,213.4H142V214.2H144.2V216H141.5V215.2H139.8Z"/></g>
<g fill="#595959" stroke="#595959" stroke-width="0.25" font-size="13.3"><text transform="rotate(0.05 47.2 55.45)" x="47.2" y="55.45" text-anchor="end">2500</text><text transform="rotate(0.05 47.2 80.47)" x="47.2" y="80.47" text-anchor="end">2000</text><text transform="rotate(0.05 47.2 105.49)" x="47.2" y="105.49" text-anchor="end">1500</text><text transform="rotate(0.05 47.2 130.51)" x="47.2" y="130.51" text-anchor="end">1000</text><text transform="rotate(0.05 47.2 155.53)" x="47.2" y="155.53" text-anchor="end">500</text><text transform="rotate(0.05 47.2 180.55)" x="47.2" y="180.55" text-anchor="end">0</text><text transform="rotate(0.05 47.2 205.57)" x="47.2" y="205.57" text-anchor="end">-500</text><text transform="rotate(0.05 47.2 230.59)" x="47.2" y="230.59" text-anchor="end">-1000</text><text transform="rotate(0.05 47.2 255.61)" x="47.2" y="255.61" text-anchor="end">-1500</text><text transform="rotate(0.05 47.2 280.63)" x="47.2" y="280.63" text-anchor="end">-2000</text><text transform="rotate(0.05 47.2 305.65)" x="47.2" y="305.65" text-anchor="end">-2500</text></g>
<g fill="#595959" stroke="#595959" stroke-width="0.25" font-size="13.6"><text transform="translate(67.3,311.5) rotate(-89.98)" text-anchor="end">Dec-2000</text><text transform="translate(87.5,311.5) rotate(-89.98)" text-anchor="end">Oct-2001</text><text transform="translate(107.7,311.5) rotate(-89.98)" text-anchor="end">Aug-2002</text><text transform="translate(127.8,311.5) rotate(-89.98)" text-anchor="end">Jun-2003</text><text transform="translate(148.0,311.5) rotate(-89.98)" text-anchor="end">Apr-2004</text><text transform="translate(168.2,311.5) rotate(-89.98)" text-anchor="end">Feb-2005</text><text transform="translate(188.3,311.5) rotate(-89.98)" text-anchor="end">Dec-2005</text><text transform="translate(208.5,311.5) rotate(-89.98)" text-anchor="end">Oct-2006</text><text transform="translate(228.7,311.5) rotate(-89.98)" text-anchor="end">Aug-2007</text><text transform="translate(248.9,311.5) rotate(-89.98)" text-anchor="end">Jun-2008</text><text transform="translate(269.0,311.5) rotate(-89.98)" text-anchor="end">Apr-2009</text><text transform="translate(289.2,311.5) rotate(-89.98)" text-anchor="end">Feb-2010</text><text transform="translate(309.4,311.5) rotate(-89.98)" text-anchor="end">Dec-2010</text><text transform="translate(329.6,311.5) rotate(-89.98)" text-anchor="end">Oct-2011</text><text transform="translate(349.7,311.5) rotate(-89.98)" text-anchor="end">Aug-2012</text><text transform="translate(369.9,311.5) rotate(-89.98)" text-anchor="end">Jun-2013</text><text transform="translate(390.1,311.5) rotate(-89.98)" text-anchor="end">Apr-2014</text><text transform="translate(410.2,311.5) rotate(-89.98)" text-anchor="end">Feb-2015</text><text transform="translate(430.4,311.5) rotate(-89.98)" text-anchor="end">Dec-2015</text><text transform="translate(450.6,311.5) rotate(-89.98)" text-anchor="end">Oct-2016</text><text transform="translate(470.8,311.5) rotate(-89.98)" text-anchor="end">Aug-2017</text><text transform="translate(490.9,311.5) rotate(-89.98)" text-anchor="end">Jun-2018</text><text transform="translate(511.1,311.5) rotate(-89.98)" text-anchor="end">Apr-2019</text><text transform="translate(531.3,311.5) rotate(-89.98)" text-anchor="end">Feb-2020</text><text transform="translate(551.5,311.5) rotate(-89.98)" text-anchor="end">Dec-2020</text><text transform="translate(571.6,311.5) rotate(-89.98)" text-anchor="end">Oct-2021</text><text transform="translate(591.8,311.5) rotate(-89.98)" text-anchor="end">Aug-2022</text><text transform="translate(612.0,311.5) rotate(-89.98)" text-anchor="end">Jun-2023</text><text transform="translate(632.2,311.5) rotate(-89.98)" text-anchor="end">Apr-2024</text></g>
<text transform="rotate(0.03 329.3 30.8)" x="329.3" y="30.8" text-anchor="middle" font-size="16.44" fill="#595959" stroke="#595959" stroke-width="0.25">Global goods trade, USD billion, trailing 3m sums, nsa, annualized</text>
<g fill="#595959" font-size="13.7"><rect x="55.5" y="385.3" width="7.8" height="7.8" fill="#4472C4"/><text transform="rotate(0.05 67.5 393.4)" x="67.5" y="393.4" stroke="#595959" stroke-width="0.25">US</text><rect x="149.0" y="385.3" width="7.8" height="7.8" fill="#ED7D31"/><text transform="rotate(0.05 161.0 393.4)" x="161.0" y="393.4" stroke="#595959" stroke-width="0.25">Australia</text><rect x="241.8" y="385.3" width="7.8" height="7.8" fill="#A5A5A5"/><text transform="rotate(0.05 253.8 393.4)" x="253.8" y="393.4" stroke="#595959" stroke-width="0.25">Canada</text><rect x="335.5" y="385.3" width="7.8" height="7.8" fill="#002060"/><text transform="rotate(0.05 347.5 393.4)" x="347.5" y="393.4" stroke="#595959" stroke-width="0.25">UK</text><rect x="428.5" y="385.3" width="7.8" height="7.8" fill="#FFC000"/><text transform="rotate(0.05 440.5 393.4)" x="440.5" y="393.4" stroke="#595959" stroke-width="0.25">India</text><rect x="521.5" y="385.3" width="7.8" height="7.8" fill="#C55A11"/><text transform="rotate(0.05 533.5 393.4)" x="533.5" y="393.4" stroke="#595959" stroke-width="0.25">Turkey</text><rect x="55.5" y="409.5" width="7.8" height="7.8" fill="#264478"/><text transform="rotate(0.05 67.5 417.6)" x="67.5" y="417.6" stroke="#595959" stroke-width="0.25">Argentina</text><rect x="149.0" y="409.5" width="7.8" height="7.8" fill="#92D050"/><text transform="rotate(0.05 161.0 417.6)" x="161.0" y="417.6" stroke="#595959" stroke-width="0.25">Brazil</text><rect x="241.8" y="409.5" width="7.8" height="7.8" fill="#636363"/><text transform="rotate(0.05 253.8 417.6)" x="253.8" y="417.6" stroke="#595959" stroke-width="0.25">Colombia</text><rect x="335.5" y="409.5" width="7.8" height="7.8" fill="#FFC000"/><text transform="rotate(0.05 347.5 417.6)" x="347.5" y="417.6" stroke="#595959" stroke-width="0.25">Mexico</text><rect x="428.5" y="409.5" width="7.8" height="7.8" fill="#D0CECE"/><text transform="rotate(0.05 440.5 417.6)" x="440.5" y="417.6" stroke="#595959" stroke-width="0.25">EA</text><rect x="521.5" y="409.5" width="7.8" height="7.8" fill="#FBE5D6"/><text transform="rotate(0.05 533.5 417.6)" x="533.5" y="417.6" stroke="#595959" stroke-width="0.25">Japan</text><rect x="55.5" y="433.7" width="7.8" height="7.8" fill="#FF0000"/><text transform="rotate(0.05 67.5 441.8)" x="67.5" y="441.8" stroke="#595959" stroke-width="0.25">China</text><rect x="149.0" y="433.7" width="7.8" height="7.8" fill="#F1975A"/><text transform="rotate(0.05 161.0 441.8)" x="161.0" y="441.8" stroke="#595959" stroke-width="0.25">Korea</text><rect x="241.8" y="433.7" width="7.8" height="7.8" fill="#B7B7B7"/><text transform="rotate(0.05 253.8 441.8)" x="253.8" y="441.8" stroke="#595959" stroke-width="0.25">Taiwan</text><rect x="335.5" y="433.7" width="7.8" height="7.8" fill="#FFCD33"/><text transform="rotate(0.05 347.5 441.8)" x="347.5" y="441.8" stroke="#595959" stroke-width="0.25">Vietnam</text><rect x="428.5" y="433.7" width="7.8" height="7.8" fill="#7CAFDD"/><text transform="rotate(0.05 440.5 441.8)" x="440.5" y="441.8" stroke="#595959" stroke-width="0.25">Indonesia</text><rect x="521.5" y="433.7" width="7.8" height="7.8" fill="#8CC168"/><text transform="rotate(0.05 533.5 441.8)" x="533.5" y="441.8" stroke="#595959" stroke-width="0.25">Malaysia</text><rect x="55.5" y="457.8" width="7.8" height="7.8" fill="#335AA1"/><text transform="rotate(0.05 67.5 465.9)" x="67.5" y="465.9" stroke="#595959" stroke-width="0.25">Thailand</text><rect x="149.0" y="457.8" width="7.8" height="7.8" fill="#F8CBAD"/><text transform="rotate(0.05 161.0 465.9)" x="161.0" y="465.9" stroke="#595959" stroke-width="0.25">Russia</text><rect x="241.8" y="457.8" width="7.8" height="7.8" fill="#000000"/><text transform="rotate(0.05 253.8 465.9)" x="253.8" y="465.9" stroke="#595959" stroke-width="0.25">Saudi</text><rect x="335.5" y="457.8" width="7.8" height="7.8" fill="#BF9000"/><text transform="rotate(0.05 347.5 465.9)" x="347.5" y="465.9" stroke="#595959" stroke-width="0.25">UAE+Kuwait</text><rect x="428.5" y="457.8" width="7.8" height="7.8" fill="#2E75B6"/><text transform="rotate(0.05 440.5 465.9)" x="440.5" y="465.9" stroke="#595959" stroke-width="0.25">Nigeria</text></g>
</svg>
</body></html>
